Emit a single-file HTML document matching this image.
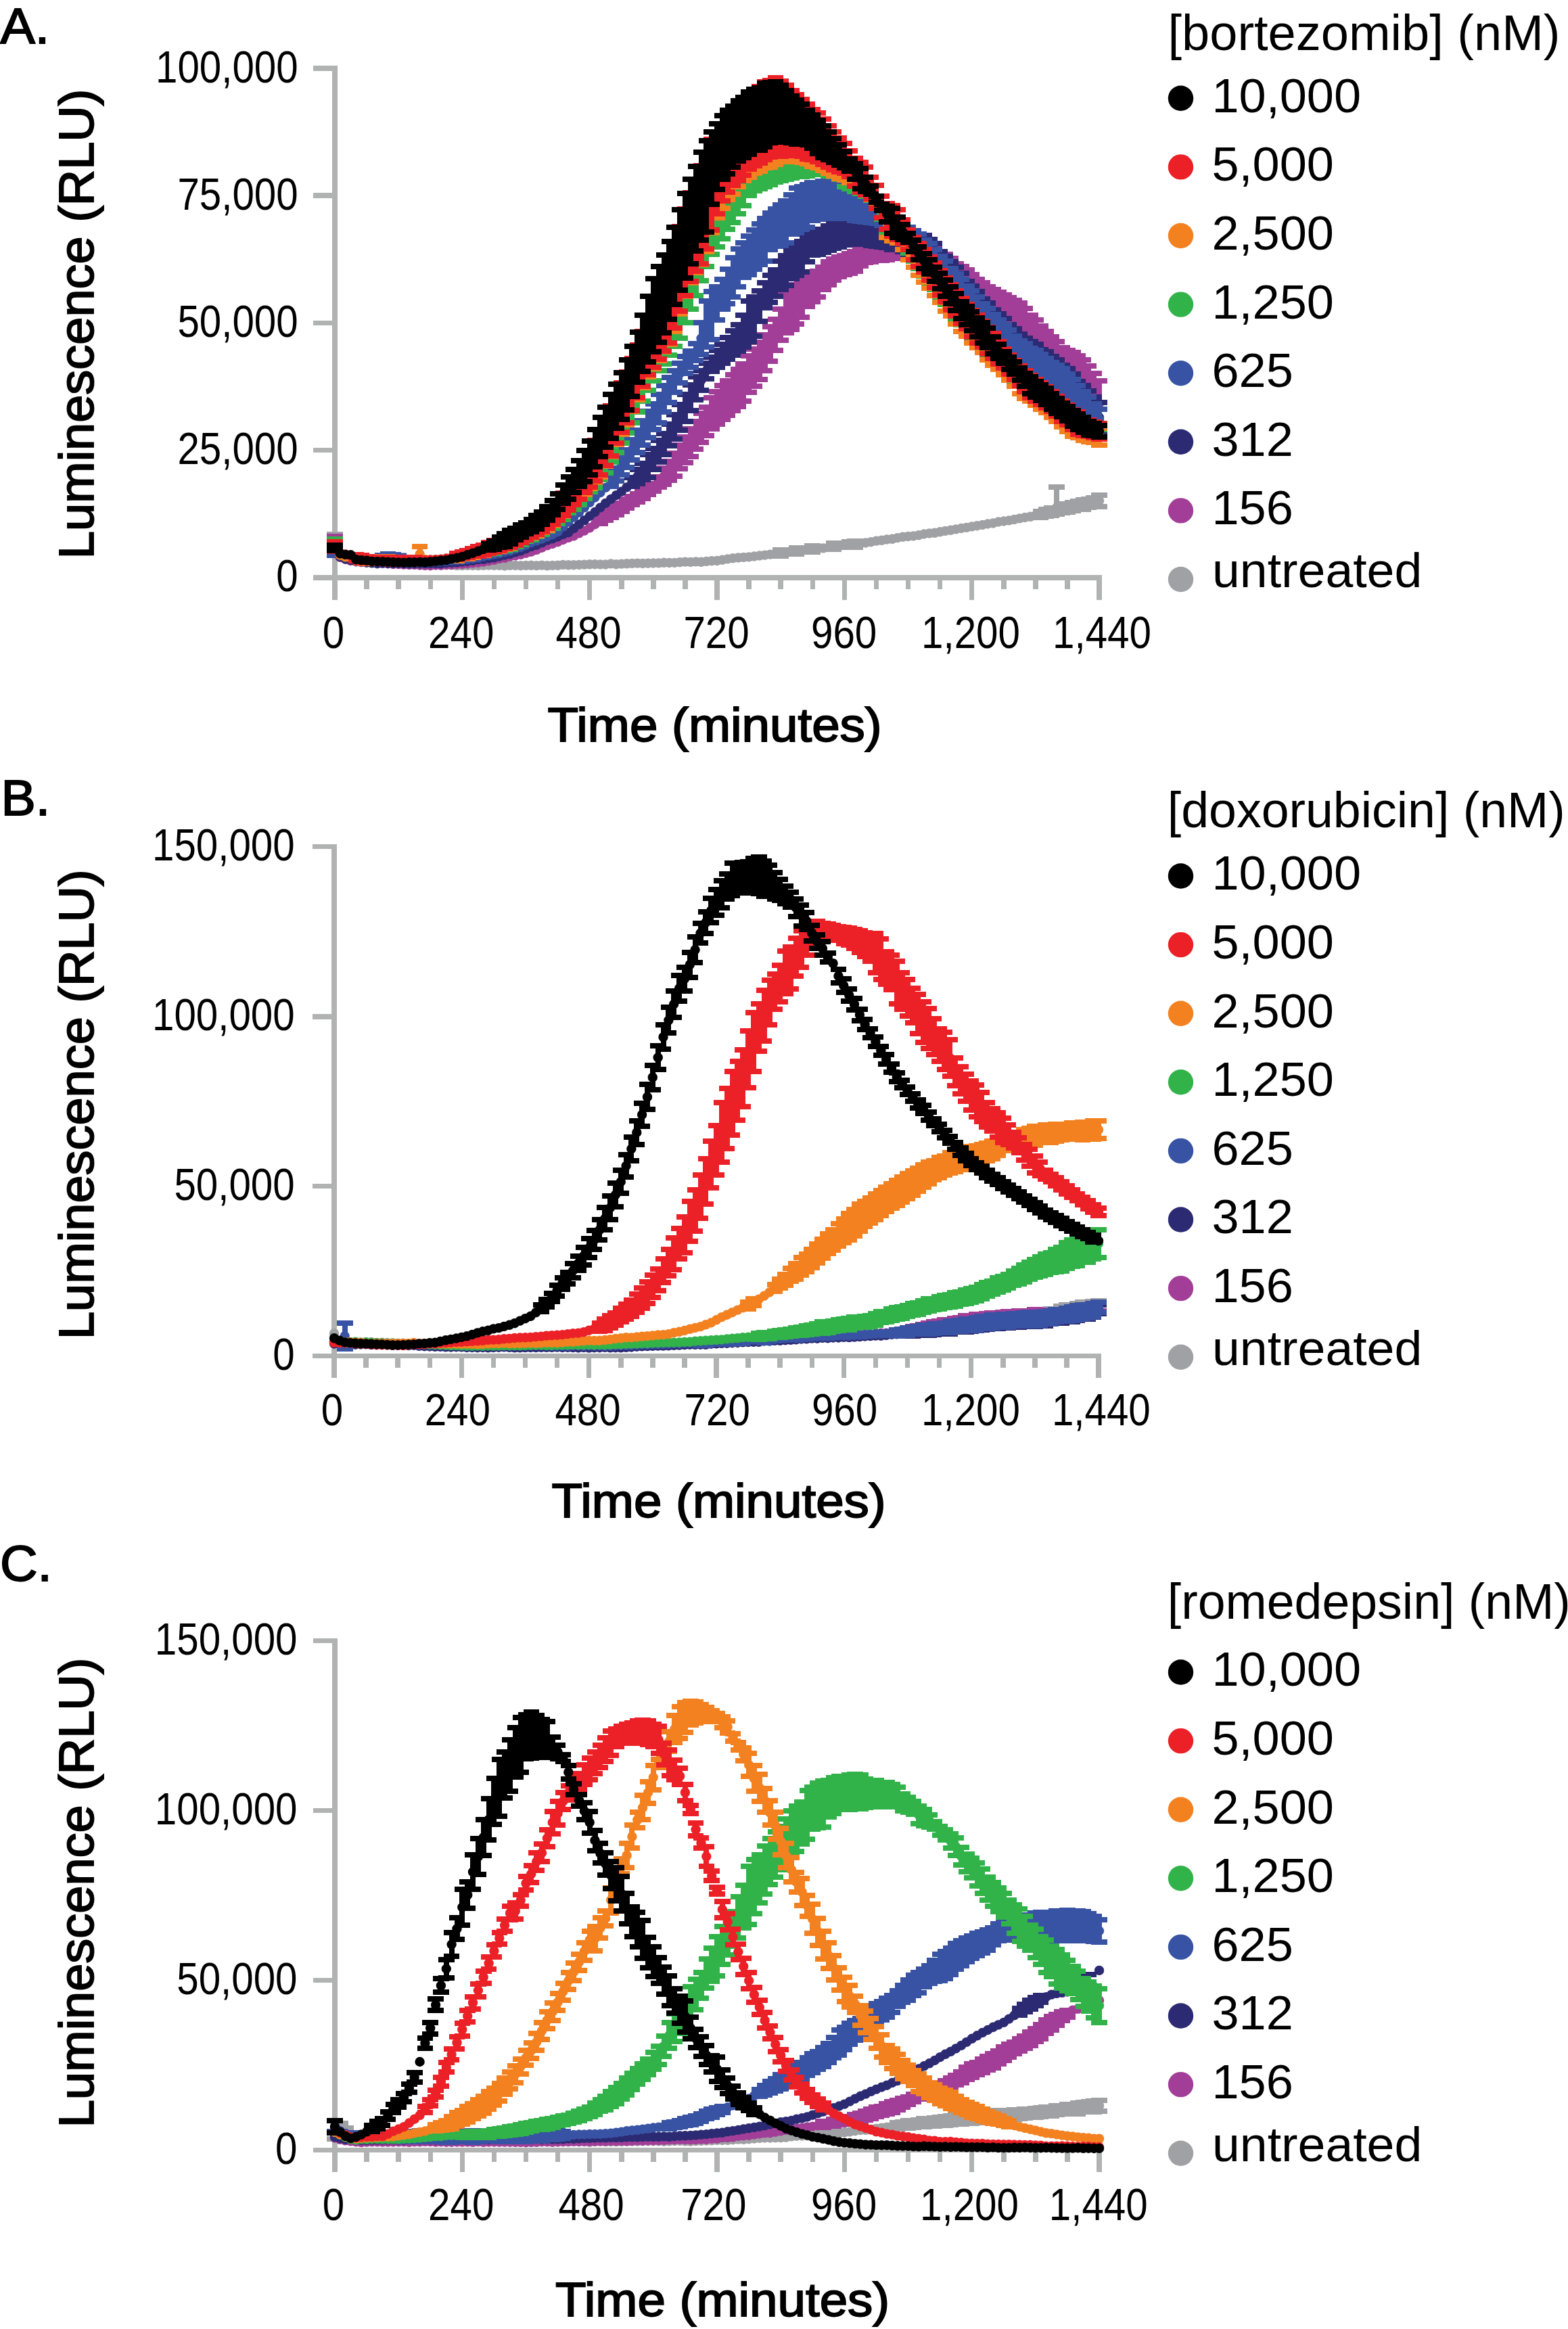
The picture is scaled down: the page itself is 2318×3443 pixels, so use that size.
<!DOCTYPE html>
<html><head><meta charset="utf-8"><title>Figure</title>
<style>html,body{margin:0;padding:0;background:#fff}svg{display:block;font-family:"Liberation Sans",sans-serif}</style>
</head><body>
<svg width="2318" height="3443" viewBox="0 0 2318 3443">
<rect width="2318" height="3443" fill="#fff"/>
<g fill="#b1b3b2" shape-rendering="crispEdges">
<rect x="491.2" y="97.2" width="7.5" height="789.4"/>
<rect x="463" y="850" width="1165.7" height="7.5"/>
<rect x="463" y="661.9" width="32" height="7.5"/>
<rect x="463" y="473.6" width="32" height="7.5"/>
<rect x="463" y="285.4" width="32" height="7.5"/>
<rect x="463" y="97.2" width="32" height="7.5"/>
<rect x="538.3" y="853.8" width="7.5" height="17.6"/>
<rect x="585.4" y="853.8" width="7.5" height="17.6"/>
<rect x="632.5" y="853.8" width="7.5" height="17.6"/>
<rect x="679.6" y="853.8" width="7.5" height="32.9"/>
<rect x="726.7" y="853.8" width="7.5" height="17.6"/>
<rect x="773.8" y="853.8" width="7.5" height="17.6"/>
<rect x="820.8" y="853.8" width="7.5" height="17.6"/>
<rect x="867.9" y="853.8" width="7.5" height="32.9"/>
<rect x="915" y="853.8" width="7.5" height="17.6"/>
<rect x="962.1" y="853.8" width="7.5" height="17.6"/>
<rect x="1009.2" y="853.8" width="7.5" height="17.6"/>
<rect x="1056.2" y="853.8" width="7.5" height="32.9"/>
<rect x="1103.3" y="853.8" width="7.5" height="17.6"/>
<rect x="1150.4" y="853.8" width="7.5" height="17.6"/>
<rect x="1197.5" y="853.8" width="7.5" height="17.6"/>
<rect x="1244.6" y="853.8" width="7.5" height="32.9"/>
<rect x="1291.7" y="853.8" width="7.5" height="17.6"/>
<rect x="1338.8" y="853.8" width="7.5" height="17.6"/>
<rect x="1385.8" y="853.8" width="7.5" height="17.6"/>
<rect x="1432.9" y="853.8" width="7.5" height="32.9"/>
<rect x="1480" y="853.8" width="7.5" height="17.6"/>
<rect x="1527.1" y="853.8" width="7.5" height="17.6"/>
<rect x="1574.2" y="853.8" width="7.5" height="17.6"/>
<rect x="1621.2" y="853.8" width="7.5" height="32.9"/>
</g>
<path shape-rendering="crispEdges" d="M495 790v26m-11.8 0h23.6m-23.6 -26h23.6M581.3 825v9.3m-11.8 0h23.6m-23.6 -9.3h23.6M589.2 821v13.8m-11.8 0h23.6m-23.6 -13.8h23.6M1154.2 813.2v8.9m-11.8 0h23.6m-23.6 -8.9h23.6M1177.7 810.4v8.5m-11.8 0h23.6m-23.6 -8.5h23.6M1201.2 807.2v8.7m-11.8 0h23.6m-23.6 -8.7h23.6M1232.6 803.4v8.4m-11.8 0h23.6m-23.6 -8.4h23.6M1256.2 800.5v8.7m-11.8 0h23.6m-23.6 -8.7h23.6M1264 799.8v8.8m-11.8 0h23.6m-23.6 -8.8h23.6M1538.7 755.8v8.8m-11.8 0h23.6m-23.6 -8.8h23.6M1546.5 753.3v9.4m-11.8 0h23.6m-23.6 -9.4h23.6M1554.4 750.9v10.7m-11.8 0h23.6m-23.6 -10.7h23.6M1562.2 720v40m-11.8 0h23.6m-23.6 -40h23.6M1570.1 747.3v11.1m-11.8 0h23.6m-23.6 -11.1h23.6M1577.9 744.5v12.4m-11.8 0h23.6m-23.6 -12.4h23.6M1585.8 743.2v11.7m-11.8 0h23.6m-23.6 -11.7h23.6M1593.6 741.2v12.1m-11.8 0h23.6m-23.6 -12.1h23.6M1601.5 739v13.6m-11.8 0h23.6m-23.6 -13.6h23.6M1609.3 738v12.4m-11.8 0h23.6m-23.6 -12.4h23.6M1617.2 735.9v12.8m-11.8 0h23.6m-23.6 -12.8h23.6M1625 731.8v17.2m-11.8 0h23.6m-23.6 -17.2h23.6" stroke="#a0a1a4" stroke-width="8" fill="none"/><path d="M495 803h0M502.8 817.5h0M510.7 820.7h0M518.5 824.4h0M526.4 826.8h0M534.2 829h0M542.1 830.2h0M549.9 831.3h0M557.8 831.7h0M565.6 832h0M573.5 831.2h0M581.3 829.6h0M589.2 828h0M597 831.7h0M604.9 832.6h0M612.7 833.3h0M620.6 833.5h0M628.4 834.2h0M636.2 834.4h0M644.1 834.5h0M651.9 834.2h0M659.8 835.3h0M667.6 835.4h0M675.5 836.1h0M683.3 836.1h0M691.2 835.9h0M699 836h0M706.9 836.1h0M714.7 835.9h0M722.6 835.6h0M730.4 835.8h0M738.3 835.8h0M746.1 836.5h0M754 835.8h0M761.8 835.9h0M769.7 836.2h0M777.5 835.9h0M785.3 835.8h0M793.2 836.1h0M801 835.6h0M808.9 836.3h0M816.7 835.9h0M824.6 835.8h0M832.4 834.9h0M840.3 835.3h0M848.1 835.2h0M856 835h0M863.8 834.6h0M871.7 834.3h0M879.5 834.2h0M887.4 834.4h0M895.2 834.5h0M903.1 833.4h0M910.9 834.2h0M918.8 833.6h0M926.6 833.3h0M934.4 832.9h0M942.3 832.6h0M950.1 833h0M958 832.7h0M965.8 832.5h0M973.7 832.4h0M981.5 831.8h0M989.4 832h0M997.2 831.9h0M1005.1 831.2h0M1012.9 830.6h0M1020.8 831h0M1028.6 830.4h0M1036.5 830.8h0M1044.3 829.9h0M1052.2 829.2h0M1060 829h0M1067.8 827.7h0M1075.7 826.4h0M1083.5 825.2h0M1091.4 824.5h0M1099.2 823.9h0M1107.1 823.4h0M1114.9 822.5h0M1122.8 821.5h0M1130.6 820.6h0M1138.5 819.6h0M1146.3 818.5h0M1154.2 817.6h0M1162 816.2h0M1169.9 815.5h0M1177.7 814.7h0M1185.6 813.3h0M1193.4 813h0M1201.2 811.6h0M1209.1 810.6h0M1216.9 810.4h0M1224.8 809.1h0M1232.6 807.7h0M1240.5 807.3h0M1248.3 805.7h0M1256.2 804.8h0M1264 804.2h0M1271.9 803.3h0M1279.7 802.5h0M1287.6 801.2h0M1295.4 799.6h0M1303.3 798.8h0M1311.1 797.5h0M1319 796.8h0M1326.8 795.1h0M1334.7 793.7h0M1342.5 793h0M1350.3 792.4h0M1358.2 791.2h0M1366 789.5h0M1373.9 788.4h0M1381.7 787.8h0M1389.6 786.3h0M1397.4 784.9h0M1405.3 783.8h0M1413.1 782.4h0M1421 781h0M1428.8 779.9h0M1436.7 778.4h0M1444.5 777.2h0M1452.4 776h0M1460.2 774.5h0M1468.1 773.5h0M1475.9 771.5h0M1483.8 770.5h0M1491.6 769.4h0M1499.4 768h0M1507.3 766.4h0M1515.1 765h0M1523 763.8h0M1530.8 762h0M1538.7 760.2h0M1546.5 758.1h0M1554.4 756.3h0M1562.2 750h0M1570.1 752.8h0M1577.9 750.7h0M1585.8 749h0M1593.6 747.2h0M1601.5 745.8h0M1609.3 744.2h0M1617.2 742.3h0M1625 740.4h0" stroke="#a0a1a4" stroke-width="14.4" stroke-linecap="round" fill="none"/>
<path shape-rendering="crispEdges" d="M495 793v24m-11.8 0h23.6m-23.6 -24h23.6M887.4 765.7v8.6m-11.8 0h23.6m-23.6 -8.6h23.6M895.2 759.6v9.7m-11.8 0h23.6m-23.6 -9.7h23.6M903.1 753.3v11.5m-11.8 0h23.6m-23.6 -11.5h23.6M910.9 747.8v12.8m-11.8 0h23.6m-23.6 -12.8h23.6M918.8 743.8v11.9m-11.8 0h23.6m-23.6 -11.9h23.6M926.6 738.2v12.9m-11.8 0h23.6m-23.6 -12.9h23.6M934.4 733.7v12.6m-11.8 0h23.6m-23.6 -12.6h23.6M942.3 729.6v11.9m-11.8 0h23.6m-23.6 -11.9h23.6M950.1 724.5v12m-11.8 0h23.6m-23.6 -12h23.6M958 719.4v11.6m-11.8 0h23.6m-23.6 -11.6h23.6M965.8 714.7v10.9m-11.8 0h23.6m-23.6 -10.9h23.6M973.7 704.8v15.4m-11.8 0h23.6m-23.6 -15.4h23.6M981.5 692.4v23.8m-11.8 0h23.6m-23.6 -23.8h23.6M989.4 681.9v28.5m-11.8 0h23.6m-23.6 -28.5h23.6M997.2 670v34.2m-11.8 0h23.6m-23.6 -34.2h23.6M1005.1 657.8v35.5m-11.8 0h23.6m-23.6 -35.5h23.6M1012.9 645.9v37.7m-11.8 0h23.6m-23.6 -37.7h23.6M1020.8 634.1v40.9m-11.8 0h23.6m-23.6 -40.9h23.6M1028.6 623.3v40.9m-11.8 0h23.6m-23.6 -40.9h23.6M1036.5 610.7v42.8m-11.8 0h23.6m-23.6 -42.8h23.6M1044.3 601.7v42.4m-11.8 0h23.6m-23.6 -42.4h23.6M1052.2 588.2v45.4m-11.8 0h23.6m-23.6 -45.4h23.6M1060 579.2v47.5m-11.8 0h23.6m-23.6 -47.5h23.6M1067.8 569.7v50.3m-11.8 0h23.6m-23.6 -50.3h23.6M1075.7 562.5v51.1m-11.8 0h23.6m-23.6 -51.1h23.6M1083.5 553.9v52.6m-11.8 0h23.6m-23.6 -52.6h23.6M1091.4 546.3v54.9m-11.8 0h23.6m-23.6 -54.9h23.6M1099.2 537.8v55.1m-11.8 0h23.6m-23.6 -55.1h23.6M1107.1 526v54m-11.8 0h23.6m-23.6 -54h23.6M1114.9 516v54.8m-11.8 0h23.6m-23.6 -54.8h23.6M1122.8 506v54.6m-11.8 0h23.6m-23.6 -54.6h23.6M1130.6 494.8v53.2m-11.8 0h23.6m-23.6 -53.2h23.6M1138.5 482.9v50.6m-11.8 0h23.6m-23.6 -50.6h23.6M1146.3 471.8v46.4m-11.8 0h23.6m-23.6 -46.4h23.6M1154.2 456.9v46.5m-11.8 0h23.6m-23.6 -46.5h23.6M1162 435.7v56.5m-11.8 0h23.6m-23.6 -56.5h23.6M1169.9 428.6v58.5m-11.8 0h23.6m-23.6 -58.5h23.6M1177.7 421v58.4m-11.8 0h23.6m-23.6 -58.4h23.6M1185.6 414.3v54.5m-11.8 0h23.6m-23.6 -54.5h23.6M1193.4 409.6v43.8m-11.8 0h23.6m-23.6 -43.8h23.6M1201.2 405.8v40.2m-11.8 0h23.6m-23.6 -40.2h23.6M1209.1 400.8v38.1m-11.8 0h23.6m-23.6 -38.1h23.6M1216.9 395.1v32.7m-11.8 0h23.6m-23.6 -32.7h23.6M1224.8 386.5v34m-11.8 0h23.6m-23.6 -34h23.6M1232.6 382.9v31.5m-11.8 0h23.6m-23.6 -31.5h23.6M1240.5 379.5v29.7m-11.8 0h23.6m-23.6 -29.7h23.6M1248.3 378.2v27.6m-11.8 0h23.6m-23.6 -27.6h23.6M1256.2 375.1v28.8m-11.8 0h23.6m-23.6 -28.8h23.6M1264 371.6v29.5m-11.8 0h23.6m-23.6 -29.5h23.6M1271.9 368.9v24.3m-11.8 0h23.6m-23.6 -24.3h23.6M1279.7 368.3v19.6m-11.8 0h23.6m-23.6 -19.6h23.6M1287.6 365.2v21.6m-11.8 0h23.6m-23.6 -21.6h23.6M1295.4 365v19.3m-11.8 0h23.6m-23.6 -19.3h23.6M1303.3 363.7v20.9m-11.8 0h23.6m-23.6 -20.9h23.6M1311.1 361.7v22.2m-11.8 0h23.6m-23.6 -22.2h23.6M1319 360.7v21.3m-11.8 0h23.6m-23.6 -21.3h23.6M1326.8 358.6v23.6m-11.8 0h23.6m-23.6 -23.6h23.6M1334.7 357.2v24.3m-11.8 0h23.6m-23.6 -24.3h23.6M1342.5 356.3v27m-11.8 0h23.6m-23.6 -27h23.6M1350.3 354.2v31.2m-11.8 0h23.6m-23.6 -31.2h23.6M1358.2 353.5v33.3m-11.8 0h23.6m-23.6 -33.3h23.6M1366 356.8v31.7m-11.8 0h23.6m-23.6 -31.7h23.6M1373.9 361.5v31.9m-11.8 0h23.6m-23.6 -31.9h23.6M1381.7 365.5v39.2m-11.8 0h23.6m-23.6 -39.2h23.6M1389.6 371.7v46.8m-11.8 0h23.6m-23.6 -46.8h23.6M1397.4 375.6v54.2m-11.8 0h23.6m-23.6 -54.2h23.6M1405.3 382.3v57.5m-11.8 0h23.6m-23.6 -57.5h23.6M1413.1 389.5v61.3m-11.8 0h23.6m-23.6 -61.3h23.6M1421 394.1v67.6m-11.8 0h23.6m-23.6 -67.6h23.6M1428.8 398.9v67.7m-11.8 0h23.6m-23.6 -67.7h23.6M1436.7 406.4v70.3m-11.8 0h23.6m-23.6 -70.3h23.6M1444.5 412.7v72.1m-11.8 0h23.6m-23.6 -72.1h23.6M1452.4 418.1v76.6m-11.8 0h23.6m-23.6 -76.6h23.6M1460.2 423.7v79.6m-11.8 0h23.6m-23.6 -79.6h23.6M1468.1 428.4v82.9m-11.8 0h23.6m-23.6 -82.9h23.6M1475.9 431.7v87.1m-11.8 0h23.6m-23.6 -87.1h23.6M1483.8 435.5v89.5m-11.8 0h23.6m-23.6 -89.5h23.6M1491.6 440.1v91.4m-11.8 0h23.6m-23.6 -91.4h23.6M1499.4 444.3v96.6m-11.8 0h23.6m-23.6 -96.6h23.6M1507.3 448.2v98.1m-11.8 0h23.6m-23.6 -98.1h23.6M1515.1 456.1v95.6m-11.8 0h23.6m-23.6 -95.6h23.6M1523 465.9v94m-11.8 0h23.6m-23.6 -94h23.6M1530.8 472.9v95m-11.8 0h23.6m-23.6 -95h23.6M1538.7 481.5v90.3m-11.8 0h23.6m-23.6 -90.3h23.6M1546.5 489.5v88.4m-11.8 0h23.6m-23.6 -88.4h23.6M1554.4 498.4v86.1m-11.8 0h23.6m-23.6 -86.1h23.6M1562.2 505.3v83.1m-11.8 0h23.6m-23.6 -83.1h23.6M1570.1 514.3v80.2m-11.8 0h23.6m-23.6 -80.2h23.6M1577.9 518v80.1m-11.8 0h23.6m-23.6 -80.1h23.6M1585.8 521.1v82.6m-11.8 0h23.6m-23.6 -82.6h23.6M1593.6 525.9v80.9m-11.8 0h23.6m-23.6 -80.9h23.6M1601.5 531.7v80m-11.8 0h23.6m-23.6 -80h23.6M1609.3 540.9v78.1m-11.8 0h23.6m-23.6 -78.1h23.6M1617.2 552.1v71.9m-11.8 0h23.6m-23.6 -71.9h23.6M1625 562.6v67.8m-11.8 0h23.6m-23.6 -67.8h23.6" stroke="#a23e97" stroke-width="8" fill="none"/><path d="M495 805h0M502.8 823.8h0M510.7 826.6h0M518.5 828.9h0M526.4 830.4h0M534.2 831.1h0M542.1 831.1h0M549.9 831.9h0M557.8 832.2h0M565.6 832.8h0M573.5 833.2h0M581.3 834h0M589.2 834.1h0M597 834.6h0M604.9 834.9h0M612.7 834.9h0M620.6 835.5h0M628.4 835.9h0M636.2 836.2h0M644.1 835.5h0M651.9 835.7h0M659.8 834.8h0M667.6 834.8h0M675.5 833.9h0M683.3 833.8h0M691.2 833.2h0M699 832.4h0M706.9 831.7h0M714.7 830.6h0M722.6 829.2h0M730.4 827.9h0M738.3 825.9h0M746.1 824.9h0M754 822.6h0M761.8 821.4h0M769.7 819.9h0M777.5 817.7h0M785.3 815.6h0M793.2 812.9h0M801 809.6h0M808.9 806.3h0M816.7 804h0M824.6 801.2h0M832.4 798h0M840.3 794.9h0M848.1 792.3h0M856 788.4h0M863.8 784.6h0M871.7 780.3h0M879.5 775.2h0M887.4 770h0M895.2 764.5h0M903.1 759.1h0M910.9 754.2h0M918.8 749.8h0M926.6 744.7h0M934.4 740h0M942.3 735.6h0M950.1 730.5h0M958 725.2h0M965.8 720.2h0M973.7 712.5h0M981.5 704.2h0M989.4 696.1h0M997.2 687.1h0M1005.1 675.6h0M1012.9 664.7h0M1020.8 654.6h0M1028.6 643.8h0M1036.5 632.1h0M1044.3 622.9h0M1052.2 610.8h0M1060 603h0M1067.8 594.9h0M1075.7 588h0M1083.5 580.3h0M1091.4 573.8h0M1099.2 565.4h0M1107.1 553h0M1114.9 543.4h0M1122.8 533.3h0M1130.6 521.4h0M1138.5 508.2h0M1146.3 495h0M1154.2 480.1h0M1162 464h0M1169.9 457.9h0M1177.7 450.2h0M1185.6 441.5h0M1193.4 431.5h0M1201.2 425.9h0M1209.1 419.9h0M1216.9 411.4h0M1224.8 403.4h0M1232.6 398.7h0M1240.5 394.4h0M1248.3 392h0M1256.2 389.5h0M1264 386.4h0M1271.9 381h0M1279.7 378.1h0M1287.6 376h0M1295.4 374.6h0M1303.3 374.2h0M1311.1 372.8h0M1319 371.3h0M1326.8 370.4h0M1334.7 369.4h0M1342.5 369.8h0M1350.3 369.8h0M1358.2 370.2h0M1366 372.7h0M1373.9 377.5h0M1381.7 385.1h0M1389.6 395.1h0M1397.4 402.7h0M1405.3 411.1h0M1413.1 420.2h0M1421 427.9h0M1428.8 432.7h0M1436.7 441.5h0M1444.5 448.8h0M1452.4 456.4h0M1460.2 463.4h0M1468.1 469.9h0M1475.9 475.2h0M1483.8 480.3h0M1491.6 485.8h0M1499.4 492.6h0M1507.3 497.3h0M1515.1 503.9h0M1523 512.9h0M1530.8 520.4h0M1538.7 526.6h0M1546.5 533.7h0M1554.4 541.5h0M1562.2 546.8h0M1570.1 554.4h0M1577.9 558.1h0M1585.8 562.4h0M1593.6 566.3h0M1601.5 571.7h0M1609.3 580h0M1617.2 588h0M1625 596.5h0" stroke="#a23e97" stroke-width="14.4" stroke-linecap="round" fill="none"/>
<path shape-rendering="crispEdges" d="M495 805v10m-11.8 0h23.6m-23.6 -10h23.6M934.4 706.3v12.9m-11.8 0h23.6m-23.6 -12.9h23.6M942.3 694.3v20.6m-11.8 0h23.6m-23.6 -20.6h23.6M950.1 684.9v24.1m-11.8 0h23.6m-23.6 -24.1h23.6M958 672.4v33.8m-11.8 0h23.6m-23.6 -33.8h23.6M965.8 662.6v31.1m-11.8 0h23.6m-23.6 -31.1h23.6M973.7 650.9v31.6m-11.8 0h23.6m-23.6 -31.6h23.6M981.5 640.5v31.5m-11.8 0h23.6m-23.6 -31.5h23.6M989.4 627.2v32m-11.8 0h23.6m-23.6 -32h23.6M997.2 612.7v35.8m-11.8 0h23.6m-23.6 -35.8h23.6M1005.1 598v37.9m-11.8 0h23.6m-23.6 -37.9h23.6M1012.9 582.9v40m-11.8 0h23.6m-23.6 -40h23.6M1020.8 569.4v37.2m-11.8 0h23.6m-23.6 -37.2h23.6M1028.6 556.9v34.2m-11.8 0h23.6m-23.6 -34.2h23.6M1036.5 547.7v29m-11.8 0h23.6m-23.6 -29h23.6M1044.3 536.7v22.9m-11.8 0h23.6m-23.6 -22.9h23.6M1052.2 527.6v21.4m-11.8 0h23.6m-23.6 -21.4h23.6M1060 517.8v25.2m-11.8 0h23.6m-23.6 -25.2h23.6M1067.8 508.5v28.4m-11.8 0h23.6m-23.6 -28.4h23.6M1075.7 499.4v32m-11.8 0h23.6m-23.6 -32h23.6M1083.5 489.1v35.6m-11.8 0h23.6m-23.6 -35.6h23.6M1091.4 480.1v38.9m-11.8 0h23.6m-23.6 -38.9h23.6M1099.2 466.4v46.3m-11.8 0h23.6m-23.6 -46.3h23.6M1107.1 444.7v60.1m-11.8 0h23.6m-23.6 -60.1h23.6M1114.9 438.8v58.4m-11.8 0h23.6m-23.6 -58.4h23.6M1122.8 429.9v45m-11.8 0h23.6m-23.6 -45h23.6M1130.6 417.9v37.2m-11.8 0h23.6m-23.6 -37.2h23.6M1138.5 407.3v39.6m-11.8 0h23.6m-23.6 -39.6h23.6M1146.3 398.7v39.3m-11.8 0h23.6m-23.6 -39.3h23.6M1154.2 386.1v41.5m-11.8 0h23.6m-23.6 -41.5h23.6M1162 377.6v43.9m-11.8 0h23.6m-23.6 -43.9h23.6M1169.9 370v42m-11.8 0h23.6m-23.6 -42h23.6M1177.7 364v42.6m-11.8 0h23.6m-23.6 -42.6h23.6M1185.6 356.5v45m-11.8 0h23.6m-23.6 -45h23.6M1193.4 350.5v36.3m-11.8 0h23.6m-23.6 -36.3h23.6M1201.2 346.7v30.6m-11.8 0h23.6m-23.6 -30.6h23.6M1209.1 341.9v33.9m-11.8 0h23.6m-23.6 -33.9h23.6M1216.9 339.2v33.7m-11.8 0h23.6m-23.6 -33.7h23.6M1224.8 333.7v36.5m-11.8 0h23.6m-23.6 -36.5h23.6M1232.6 330v36.5m-11.8 0h23.6m-23.6 -36.5h23.6M1240.5 329.4v35.3m-11.8 0h23.6m-23.6 -35.3h23.6M1248.3 329.5v32.5m-11.8 0h23.6m-23.6 -32.5h23.6M1256.2 330.7v30.5m-11.8 0h23.6m-23.6 -30.5h23.6M1264 333v27.2m-11.8 0h23.6m-23.6 -27.2h23.6M1271.9 333.3v26.8m-11.8 0h23.6m-23.6 -26.8h23.6M1279.7 334.1v27.2m-11.8 0h23.6m-23.6 -27.2h23.6M1287.6 335.1v27.8m-11.8 0h23.6m-23.6 -27.8h23.6M1295.4 336.9v26.7m-11.8 0h23.6m-23.6 -26.7h23.6M1303.3 339.5v25.3m-11.8 0h23.6m-23.6 -25.3h23.6M1311.1 341.1v24.9m-11.8 0h23.6m-23.6 -24.9h23.6M1319 341.4v27.1m-11.8 0h23.6m-23.6 -27.1h23.6M1326.8 341.6v26.7m-11.8 0h23.6m-23.6 -26.7h23.6M1334.7 341.6v30.2m-11.8 0h23.6m-23.6 -30.2h23.6M1342.5 343.8v32m-11.8 0h23.6m-23.6 -32h23.6M1350.3 345.6v35.7m-11.8 0h23.6m-23.6 -35.7h23.6M1358.2 345.7v38.6m-11.8 0h23.6m-23.6 -38.6h23.6M1366 347.8v42.8m-11.8 0h23.6m-23.6 -42.8h23.6M1373.9 353.7v49m-11.8 0h23.6m-23.6 -49h23.6M1381.7 360.3v52.6m-11.8 0h23.6m-23.6 -52.6h23.6M1389.6 371.6v52.8m-11.8 0h23.6m-23.6 -52.8h23.6M1397.4 378.8v55.1m-11.8 0h23.6m-23.6 -55.1h23.6M1405.3 387.1v58.6m-11.8 0h23.6m-23.6 -58.6h23.6M1413.1 394.6v59.8m-11.8 0h23.6m-23.6 -59.8h23.6M1421 403.8v59.7m-11.8 0h23.6m-23.6 -59.7h23.6M1428.8 415.9v57.2m-11.8 0h23.6m-23.6 -57.2h23.6M1436.7 423.3v58.1m-11.8 0h23.6m-23.6 -58.1h23.6M1444.5 430.7v59.2m-11.8 0h23.6m-23.6 -59.2h23.6M1452.4 441.6v55.8m-11.8 0h23.6m-23.6 -55.8h23.6M1460.2 448v58.4m-11.8 0h23.6m-23.6 -58.4h23.6M1468.1 457.6v59.1m-11.8 0h23.6m-23.6 -59.1h23.6M1475.9 463.6v60m-11.8 0h23.6m-23.6 -60h23.6M1483.8 471.3v59.1m-11.8 0h23.6m-23.6 -59.1h23.6M1491.6 480.2v60.6m-11.8 0h23.6m-23.6 -60.6h23.6M1499.4 485.8v61.6m-11.8 0h23.6m-23.6 -61.6h23.6M1507.3 494.2v61.5m-11.8 0h23.6m-23.6 -61.5h23.6M1515.1 499.9v63.7m-11.8 0h23.6m-23.6 -63.7h23.6M1523 504.8v68.8m-11.8 0h23.6m-23.6 -68.8h23.6M1530.8 508.5v68.3m-11.8 0h23.6m-23.6 -68.3h23.6M1538.7 516.6v67.8m-11.8 0h23.6m-23.6 -67.8h23.6M1546.5 519.8v71.3m-11.8 0h23.6m-23.6 -71.3h23.6M1554.4 527.3v67.2m-11.8 0h23.6m-23.6 -67.2h23.6M1562.2 531.5v69.9m-11.8 0h23.6m-23.6 -69.9h23.6M1570.1 539.6v67.7m-11.8 0h23.6m-23.6 -67.7h23.6M1577.9 545.1v67.9m-11.8 0h23.6m-23.6 -67.9h23.6M1585.8 553.3v64.3m-11.8 0h23.6m-23.6 -64.3h23.6M1593.6 563.5v61.2m-11.8 0h23.6m-23.6 -61.2h23.6M1601.5 570.2v57.8m-11.8 0h23.6m-23.6 -57.8h23.6M1609.3 577.7v55m-11.8 0h23.6m-23.6 -55h23.6M1617.2 586.8v47.6m-11.8 0h23.6m-23.6 -47.6h23.6M1625 595v44.2m-11.8 0h23.6m-23.6 -44.2h23.6" stroke="#2b2a73" stroke-width="8" fill="none"/><path d="M495 810h0M502.8 822.8h0M510.7 826.2h0M518.5 828.1h0M526.4 829.5h0M534.2 830.3h0M542.1 831.7h0M549.9 832.4h0M557.8 833.2h0M565.6 832.4h0M573.5 833h0M581.3 832.9h0M589.2 832.6h0M597 833.1h0M604.9 833.5h0M612.7 833.3h0M620.6 833.2h0M628.4 833.1h0M636.2 833.1h0M644.1 833.1h0M651.9 833.3h0M659.8 832.2h0M667.6 831.7h0M675.5 831.3h0M683.3 830.5h0M691.2 829.7h0M699 828.7h0M706.9 827.1h0M714.7 826.8h0M722.6 825.3h0M730.4 824.4h0M738.3 822.5h0M746.1 820.5h0M754 819h0M761.8 816.4h0M769.7 814.3h0M777.5 811.2h0M785.3 808h0M793.2 805.6h0M801 802.4h0M808.9 798.6h0M816.7 796.3h0M824.6 793.5h0M832.4 789.8h0M840.3 787.1h0M848.1 781.1h0M856 775.1h0M863.8 769.2h0M871.7 763h0M879.5 757h0M887.4 750.4h0M895.2 743.9h0M903.1 737.9h0M910.9 732.2h0M918.8 726.6h0M926.6 720.4h0M934.4 712.8h0M942.3 704.6h0M950.1 696.9h0M958 689.3h0M965.8 678.2h0M973.7 666.7h0M981.5 656.2h0M989.4 643.2h0M997.2 630.6h0M1005.1 616.9h0M1012.9 602.9h0M1020.8 588.1h0M1028.6 574h0M1036.5 562.1h0M1044.3 548.1h0M1052.2 538.3h0M1060 530.4h0M1067.8 522.7h0M1075.7 515.4h0M1083.5 506.9h0M1091.4 499.5h0M1099.2 489.6h0M1107.1 474.7h0M1114.9 468h0M1122.8 452.4h0M1130.6 436.5h0M1138.5 427.1h0M1146.3 418.3h0M1154.2 406.8h0M1162 399.5h0M1169.9 391h0M1177.7 385.3h0M1185.6 379h0M1193.4 368.7h0M1201.2 362h0M1209.1 358.9h0M1216.9 356h0M1224.8 352h0M1232.6 348.2h0M1240.5 347h0M1248.3 345.8h0M1256.2 345.9h0M1264 346.6h0M1271.9 346.7h0M1279.7 347.7h0M1287.6 349h0M1295.4 350.2h0M1303.3 352.2h0M1311.1 353.6h0M1319 355h0M1326.8 354.9h0M1334.7 356.7h0M1342.5 359.8h0M1350.3 363.5h0M1358.2 364.9h0M1366 369.2h0M1373.9 378.2h0M1381.7 386.6h0M1389.6 398h0M1397.4 406.4h0M1405.3 416.4h0M1413.1 424.5h0M1421 433.7h0M1428.8 444.5h0M1436.7 452.3h0M1444.5 460.3h0M1452.4 469.4h0M1460.2 477.2h0M1468.1 487.2h0M1475.9 493.6h0M1483.8 500.9h0M1491.6 510.5h0M1499.4 516.6h0M1507.3 525h0M1515.1 531.7h0M1523 539.2h0M1530.8 542.7h0M1538.7 550.5h0M1546.5 555.4h0M1554.4 560.9h0M1562.2 566.4h0M1570.1 573.4h0M1577.9 579.1h0M1585.8 585.4h0M1593.6 594.1h0M1601.5 599.1h0M1609.3 605.2h0M1617.2 610.6h0M1625 617.1h0" stroke="#2b2a73" stroke-width="14.4" stroke-linecap="round" fill="none"/>
<path shape-rendering="crispEdges" d="M495 803v18m-11.8 0h23.6m-23.6 -18h23.6M565.6 821.2v10.3m-11.8 0h23.6m-23.6 -10.3h23.6M573.5 819.4v12.7m-11.8 0h23.6m-23.6 -12.7h23.6M581.3 819.5v12.4m-11.8 0h23.6m-23.6 -12.4h23.6M589.2 822v10.1m-11.8 0h23.6m-23.6 -10.1h23.6M597 824.1v8.5m-11.8 0h23.6m-23.6 -8.5h23.6M903.1 706.3v12.3m-11.8 0h23.6m-23.6 -12.3h23.6M910.9 692.3v18.9m-11.8 0h23.6m-23.6 -18.9h23.6M918.8 677v25.2m-11.8 0h23.6m-23.6 -25.2h23.6M926.6 664.6v26.8m-11.8 0h23.6m-23.6 -26.8h23.6M934.4 650v30m-11.8 0h23.6m-23.6 -30h23.6M942.3 636.4v32.3m-11.8 0h23.6m-23.6 -32.3h23.6M950.1 621.5v36.5m-11.8 0h23.6m-23.6 -36.5h23.6M958 608.2v38.5m-11.8 0h23.6m-23.6 -38.5h23.6M965.8 596.8v37.9m-11.8 0h23.6m-23.6 -37.9h23.6M973.7 582.9v42m-11.8 0h23.6m-23.6 -42h23.6M981.5 570.1v39.2m-11.8 0h23.6m-23.6 -39.2h23.6M989.4 558v36.9m-11.8 0h23.6m-23.6 -36.9h23.6M997.2 548v32.3m-11.8 0h23.6m-23.6 -32.3h23.6M1005.1 537.3v28.9m-11.8 0h23.6m-23.6 -28.9h23.6M1012.9 527v25m-11.8 0h23.6m-23.6 -25h23.6M1020.8 518.7v24.3m-11.8 0h23.6m-23.6 -24.3h23.6M1028.6 508.2v24.9m-11.8 0h23.6m-23.6 -24.9h23.6M1036.5 477v46.7m-11.8 0h23.6m-23.6 -46.7h23.6M1044.3 444.9v68.1m-11.8 0h23.6m-23.6 -68.1h23.6M1052.2 431.4v71m-11.8 0h23.6m-23.6 -71h23.6M1060 424v48.8m-11.8 0h23.6m-23.6 -48.8h23.6M1067.8 413.3v43.6m-11.8 0h23.6m-23.6 -43.6h23.6M1075.7 397.7v51.1m-11.8 0h23.6m-23.6 -51.1h23.6M1083.5 380.7v58.1m-11.8 0h23.6m-23.6 -58.1h23.6M1091.4 367.5v56.7m-11.8 0h23.6m-23.6 -56.7h23.6M1099.2 358.8v51.1m-11.8 0h23.6m-23.6 -51.1h23.6M1107.1 349.1v56.6m-11.8 0h23.6m-23.6 -56.6h23.6M1114.9 339.9v57.8m-11.8 0h23.6m-23.6 -57.8h23.6M1122.8 330.5v60.8m-11.8 0h23.6m-23.6 -60.8h23.6M1130.6 323.2v62.9m-11.8 0h23.6m-23.6 -62.9h23.6M1138.5 314.5v54.4m-11.8 0h23.6m-23.6 -54.4h23.6M1146.3 309v55.3m-11.8 0h23.6m-23.6 -55.3h23.6M1154.2 303.1v59.8m-11.8 0h23.6m-23.6 -59.8h23.6M1162 296.5v62.5m-11.8 0h23.6m-23.6 -62.5h23.6M1169.9 288.1v57.6m-11.8 0h23.6m-23.6 -57.6h23.6M1177.7 277.9v65.6m-11.8 0h23.6m-23.6 -65.6h23.6M1185.6 275.8v63.6m-11.8 0h23.6m-23.6 -63.6h23.6M1193.4 273.4v62.3m-11.8 0h23.6m-23.6 -62.3h23.6M1201.2 270.2v55.6m-11.8 0h23.6m-23.6 -55.6h23.6M1209.1 271.1v52.5m-11.8 0h23.6m-23.6 -52.5h23.6M1216.9 267.7v54.8m-11.8 0h23.6m-23.6 -54.8h23.6M1224.8 269.5v51.5m-11.8 0h23.6m-23.6 -51.5h23.6M1232.6 269.6v53.6m-11.8 0h23.6m-23.6 -53.6h23.6M1240.5 272.7v49.7m-11.8 0h23.6m-23.6 -49.7h23.6M1248.3 277.1v44.8m-11.8 0h23.6m-23.6 -44.8h23.6M1256.2 281.4v41.8m-11.8 0h23.6m-23.6 -41.8h23.6M1264 284.8v41.4m-11.8 0h23.6m-23.6 -41.4h23.6M1271.9 286.3v40.7m-11.8 0h23.6m-23.6 -40.7h23.6M1279.7 290.9v36.9m-11.8 0h23.6m-23.6 -36.9h23.6M1287.6 294.2v34.8m-11.8 0h23.6m-23.6 -34.8h23.6M1295.4 300.2v30.2m-11.8 0h23.6m-23.6 -30.2h23.6M1303.3 305.1v27.5m-11.8 0h23.6m-23.6 -27.5h23.6M1311.1 312.3v26.8m-11.8 0h23.6m-23.6 -26.8h23.6M1319 316.9v25.9m-11.8 0h23.6m-23.6 -25.9h23.6M1326.8 323.1v28.3m-11.8 0h23.6m-23.6 -28.3h23.6M1334.7 327.5v31.1m-11.8 0h23.6m-23.6 -31.1h23.6M1342.5 335.6v32.7m-11.8 0h23.6m-23.6 -32.7h23.6M1350.3 341.3v36.9m-11.8 0h23.6m-23.6 -36.9h23.6M1358.2 346v42.2m-11.8 0h23.6m-23.6 -42.2h23.6M1366 354.7v43.4m-11.8 0h23.6m-23.6 -43.4h23.6M1373.9 359.6v46.9m-11.8 0h23.6m-23.6 -46.9h23.6M1381.7 369.3v48.4m-11.8 0h23.6m-23.6 -48.4h23.6M1389.6 378.7v46.6m-11.8 0h23.6m-23.6 -46.6h23.6M1397.4 385.7v48.7m-11.8 0h23.6m-23.6 -48.7h23.6M1405.3 396.8v48.9m-11.8 0h23.6m-23.6 -48.9h23.6M1413.1 404.8v48.3m-11.8 0h23.6m-23.6 -48.3h23.6M1421 413.4v49m-11.8 0h23.6m-23.6 -49h23.6M1428.8 423.2v49.7m-11.8 0h23.6m-23.6 -49.7h23.6M1436.7 430v52.7m-11.8 0h23.6m-23.6 -52.7h23.6M1444.5 438.7v52.2m-11.8 0h23.6m-23.6 -52.2h23.6M1452.4 449v49.3m-11.8 0h23.6m-23.6 -49.3h23.6M1460.2 455.6v52.6m-11.8 0h23.6m-23.6 -52.6h23.6M1468.1 464.7v51.6m-11.8 0h23.6m-23.6 -51.6h23.6M1475.9 472.5v52.5m-11.8 0h23.6m-23.6 -52.5h23.6M1483.8 480.4v54m-11.8 0h23.6m-23.6 -54h23.6M1491.6 488.3v52.2m-11.8 0h23.6m-23.6 -52.2h23.6M1499.4 496.5v53.2m-11.8 0h23.6m-23.6 -53.2h23.6M1507.3 503.7v54.3m-11.8 0h23.6m-23.6 -54.3h23.6M1515.1 508.5v57.6m-11.8 0h23.6m-23.6 -57.6h23.6M1523 514.6v60.4m-11.8 0h23.6m-23.6 -60.4h23.6M1530.8 518.1v61.5m-11.8 0h23.6m-23.6 -61.5h23.6M1538.7 523.5v61.3m-11.8 0h23.6m-23.6 -61.3h23.6M1546.5 530.2v61.2m-11.8 0h23.6m-23.6 -61.2h23.6M1554.4 536.4v59.3m-11.8 0h23.6m-23.6 -59.3h23.6M1562.2 539.9v60.1m-11.8 0h23.6m-23.6 -60.1h23.6M1570.1 544.9v59.5m-11.8 0h23.6m-23.6 -59.5h23.6M1577.9 553.2v56.6m-11.8 0h23.6m-23.6 -56.6h23.6M1585.8 561v53.3m-11.8 0h23.6m-23.6 -53.3h23.6M1593.6 570.4v48.5m-11.8 0h23.6m-23.6 -48.5h23.6M1601.5 579.2v44.1m-11.8 0h23.6m-23.6 -44.1h23.6M1609.3 587v39.3m-11.8 0h23.6m-23.6 -39.3h23.6M1617.2 596.5v36.1m-11.8 0h23.6m-23.6 -36.1h23.6M1625 605.4v30m-11.8 0h23.6m-23.6 -30h23.6" stroke="#3953a4" stroke-width="8" fill="none"/><path d="M495 812h0M502.8 820.3h0M510.7 820.6h0M518.5 821.3h0M526.4 826h0M534.2 825.9h0M542.1 826.1h0M549.9 827h0M557.8 826.6h0M565.6 826.3h0M573.5 825.8h0M581.3 825.7h0M589.2 827.1h0M597 828.4h0M604.9 829.3h0M612.7 828.9h0M620.6 829.6h0M628.4 830.1h0M636.2 829.6h0M644.1 829.9h0M651.9 829.3h0M659.8 829.2h0M667.6 828.7h0M675.5 828.1h0M683.3 827.7h0M691.2 826.6h0M699 825.7h0M706.9 824.6h0M714.7 822.5h0M722.6 821.1h0M730.4 819.6h0M738.3 818.1h0M746.1 816h0M754 814.3h0M761.8 811.3h0M769.7 808.8h0M777.5 805.7h0M785.3 802.1h0M793.2 799.4h0M801 796.6h0M808.9 793.2h0M816.7 790.2h0M824.6 786.2h0M832.4 778.7h0M840.3 771.5h0M848.1 764.6h0M856 757.6h0M863.8 750.3h0M871.7 742.9h0M879.5 735.5h0M887.4 728.2h0M895.2 720.9h0M903.1 712.4h0M910.9 701.8h0M918.8 689.6h0M926.6 678h0M934.4 665h0M942.3 652.5h0M950.1 639.8h0M958 627.4h0M965.8 615.7h0M973.7 603.9h0M981.5 589.7h0M989.4 576.4h0M997.2 564.2h0M1005.1 551.8h0M1012.9 539.5h0M1020.8 530.8h0M1028.6 520.6h0M1036.5 500.3h0M1044.3 479h0M1052.2 466.9h0M1060 448.4h0M1067.8 435.1h0M1075.7 423.3h0M1083.5 409.7h0M1091.4 395.8h0M1099.2 384.3h0M1107.1 377.4h0M1114.9 368.8h0M1122.8 360.9h0M1130.6 354.6h0M1138.5 341.8h0M1146.3 336.7h0M1154.2 333h0M1162 327.8h0M1169.9 316.9h0M1177.7 310.7h0M1185.6 307.6h0M1193.4 304.5h0M1201.2 298h0M1209.1 297.3h0M1216.9 295h0M1224.8 295.3h0M1232.6 296.4h0M1240.5 297.6h0M1248.3 299.5h0M1256.2 302.3h0M1264 305.5h0M1271.9 306.7h0M1279.7 309.4h0M1287.6 311.6h0M1295.4 315.3h0M1303.3 318.8h0M1311.1 325.6h0M1319 329.8h0M1326.8 337.3h0M1334.7 343h0M1342.5 351.9h0M1350.3 359.8h0M1358.2 367.1h0M1366 376.4h0M1373.9 383h0M1381.7 393.5h0M1389.6 402h0M1397.4 410.1h0M1405.3 421.2h0M1413.1 428.9h0M1421 437.9h0M1428.8 448h0M1436.7 456.3h0M1444.5 464.8h0M1452.4 473.7h0M1460.2 481.9h0M1468.1 490.5h0M1475.9 498.7h0M1483.8 507.4h0M1491.6 514.4h0M1499.4 523.1h0M1507.3 530.9h0M1515.1 537.3h0M1523 544.7h0M1530.8 548.9h0M1538.7 554.1h0M1546.5 560.8h0M1554.4 566h0M1562.2 570h0M1570.1 574.7h0M1577.9 581.4h0M1585.8 587.7h0M1593.6 594.7h0M1601.5 601.2h0M1609.3 606.6h0M1617.2 614.5h0M1625 620.4h0" stroke="#3953a4" stroke-width="14.4" stroke-linecap="round" fill="none"/>
<path shape-rendering="crispEdges" d="M495 797v18m-11.8 0h23.6m-23.6 -18h23.6M714.7 811.9v9m-11.8 0h23.6m-23.6 -9h23.6M722.6 808.3v10.4m-11.8 0h23.6m-23.6 -10.4h23.6M730.4 804.2v13.3m-11.8 0h23.6m-23.6 -13.3h23.6M738.3 799.9v14.7m-11.8 0h23.6m-23.6 -14.7h23.6M746.1 796.2v17.5m-11.8 0h23.6m-23.6 -17.5h23.6M754 792.9v18.9m-11.8 0h23.6m-23.6 -18.9h23.6M761.8 788.7v19.7m-11.8 0h23.6m-23.6 -19.7h23.6M769.7 782.1v22.7m-11.8 0h23.6m-23.6 -22.7h23.6M777.5 780.5v19.7m-11.8 0h23.6m-23.6 -19.7h23.6M785.3 775.5v22.1m-11.8 0h23.6m-23.6 -22.1h23.6M793.2 769.6v23.3m-11.8 0h23.6m-23.6 -23.3h23.6M801 766.3v23.8m-11.8 0h23.6m-23.6 -23.8h23.6M808.9 761.6v23.6m-11.8 0h23.6m-23.6 -23.6h23.6M816.7 757.2v23.5m-11.8 0h23.6m-23.6 -23.5h23.6M824.6 747.3v27.1m-11.8 0h23.6m-23.6 -27.1h23.6M832.4 737.5v30m-11.8 0h23.6m-23.6 -30h23.6M840.3 726.1v32.2m-11.8 0h23.6m-23.6 -32.2h23.6M848.1 715.5v37.2m-11.8 0h23.6m-23.6 -37.2h23.6M856 702.2v43.6m-11.8 0h23.6m-23.6 -43.6h23.6M863.8 693v43.9m-11.8 0h23.6m-23.6 -43.9h23.6M871.7 677.7v49.3m-11.8 0h23.6m-23.6 -49.3h23.6M879.5 663.6v57.3m-11.8 0h23.6m-23.6 -57.3h23.6M887.4 648v61.3m-11.8 0h23.6m-23.6 -61.3h23.6M895.2 633.1v65.4m-11.8 0h23.6m-23.6 -65.4h23.6M903.1 615.6v67.4m-11.8 0h23.6m-23.6 -67.4h23.6M910.9 597.9v71.2m-11.8 0h23.6m-23.6 -71.2h23.6M918.8 580.2v74.9m-11.8 0h23.6m-23.6 -74.9h23.6M926.6 564.5v75.9m-11.8 0h23.6m-23.6 -75.9h23.6M934.4 547.7v77m-11.8 0h23.6m-23.6 -77h23.6M942.3 526.4v82.3m-11.8 0h23.6m-23.6 -82.3h23.6M950.1 508.5v84.2m-11.8 0h23.6m-23.6 -84.2h23.6M958 486v90.6m-11.8 0h23.6m-23.6 -90.6h23.6M965.8 460.5v102.1m-11.8 0h23.6m-23.6 -102.1h23.6M973.7 435.1v112.5m-11.8 0h23.6m-23.6 -112.5h23.6M981.5 409.2v128.3m-11.8 0h23.6m-23.6 -128.3h23.6M989.4 389.2v135.5m-11.8 0h23.6m-23.6 -135.5h23.6M997.2 374.1v137.6m-11.8 0h23.6m-23.6 -137.6h23.6M1005.1 353.2v146.3m-11.8 0h23.6m-23.6 -146.3h23.6M1012.9 329.6v147.1m-11.8 0h23.6m-23.6 -147.1h23.6M1020.8 304.9v152.3m-11.8 0h23.6m-23.6 -152.3h23.6M1028.6 279v157.7m-11.8 0h23.6m-23.6 -157.7h23.6M1036.5 261.5v153.8m-11.8 0h23.6m-23.6 -153.8h23.6M1044.3 243.1v151.2m-11.8 0h23.6m-23.6 -151.2h23.6M1052.2 223.2v153.1m-11.8 0h23.6m-23.6 -153.1h23.6M1060 205v160.3m-11.8 0h23.6m-23.6 -160.3h23.6M1067.8 193.7v159.5m-11.8 0h23.6m-23.6 -159.5h23.6M1075.7 179.5v159.7m-11.8 0h23.6m-23.6 -159.7h23.6M1083.5 168.7v160.4m-11.8 0h23.6m-23.6 -160.4h23.6M1091.4 160.9v155.3m-11.8 0h23.6m-23.6 -155.3h23.6M1099.2 154.7v149m-11.8 0h23.6m-23.6 -149h23.6M1107.1 147.5v141.6m-11.8 0h23.6m-23.6 -141.6h23.6M1114.9 142.3v139.9m-11.8 0h23.6m-23.6 -139.9h23.6M1122.8 140.1v138.4m-11.8 0h23.6m-23.6 -138.4h23.6M1130.6 139v136.6m-11.8 0h23.6m-23.6 -136.6h23.6M1138.5 136v137.1m-11.8 0h23.6m-23.6 -137.1h23.6M1146.3 133.7v135.4m-11.8 0h23.6m-23.6 -135.4h23.6M1154.2 134.6v132.5m-11.8 0h23.6m-23.6 -132.5h23.6M1162 141.5v123.1m-11.8 0h23.6m-23.6 -123.1h23.6M1169.9 146v116.7m-11.8 0h23.6m-23.6 -116.7h23.6M1177.7 154.2v106.8m-11.8 0h23.6m-23.6 -106.8h23.6M1185.6 159.2v102.1m-11.8 0h23.6m-23.6 -102.1h23.6M1193.4 166v94.4m-11.8 0h23.6m-23.6 -94.4h23.6M1201.2 173.1v83.8m-11.8 0h23.6m-23.6 -83.8h23.6M1209.1 181.7v76.1m-11.8 0h23.6m-23.6 -76.1h23.6M1216.9 192.8v65.2m-11.8 0h23.6m-23.6 -65.2h23.6M1224.8 203.1v57.3m-11.8 0h23.6m-23.6 -57.3h23.6M1232.6 211.1v50m-11.8 0h23.6m-23.6 -50h23.6M1240.5 221.8v43.1m-11.8 0h23.6m-23.6 -43.1h23.6M1248.3 228.4v47.5m-11.8 0h23.6m-23.6 -47.5h23.6M1256.2 240.5v38.7m-11.8 0h23.6m-23.6 -38.7h23.6M1264 247.9v35.2m-11.8 0h23.6m-23.6 -35.2h23.6M1271.9 256.9v29.2m-11.8 0h23.6m-23.6 -29.2h23.6M1279.7 269.4v20.9m-11.8 0h23.6m-23.6 -20.9h23.6M1287.6 281.3v14.4m-11.8 0h23.6m-23.6 -14.4h23.6M1303.3 308v16.3m-11.8 0h23.6m-23.6 -16.3h23.6M1311.1 311.1v34.5m-11.8 0h23.6m-23.6 -34.5h23.6M1319 314.9v36m-11.8 0h23.6m-23.6 -36h23.6M1326.8 326.4v28.9m-11.8 0h23.6m-23.6 -28.9h23.6M1334.7 339.5v20.4m-11.8 0h23.6m-23.6 -20.4h23.6M1342.5 351.2v22.7m-11.8 0h23.6m-23.6 -22.7h23.6M1350.3 361.5v24.6m-11.8 0h23.6m-23.6 -24.6h23.6M1358.2 370.9v26.4m-11.8 0h23.6m-23.6 -26.4h23.6M1366 379.9v27.7m-11.8 0h23.6m-23.6 -27.7h23.6M1373.9 390.1v28m-11.8 0h23.6m-23.6 -28h23.6M1381.7 400.3v28.1m-11.8 0h23.6m-23.6 -28.1h23.6M1389.6 409.3v29.3m-11.8 0h23.6m-23.6 -29.3h23.6M1397.4 419.7v30.4m-11.8 0h23.6m-23.6 -30.4h23.6M1405.3 430.4v30.5m-11.8 0h23.6m-23.6 -30.5h23.6M1413.1 439.3v31.8m-11.8 0h23.6m-23.6 -31.8h23.6M1421 450.8v28.7m-11.8 0h23.6m-23.6 -28.7h23.6M1428.8 458.6v31.3m-11.8 0h23.6m-23.6 -31.3h23.6M1436.7 466.8v32.8m-11.8 0h23.6m-23.6 -32.8h23.6M1444.5 475.8v33m-11.8 0h23.6m-23.6 -33h23.6M1452.4 484v31.3m-11.8 0h23.6m-23.6 -31.3h23.6M1460.2 492.5v31.9m-11.8 0h23.6m-23.6 -31.9h23.6M1468.1 502.5v28.6m-11.8 0h23.6m-23.6 -28.6h23.6M1475.9 515.6v24.9m-11.8 0h23.6m-23.6 -24.9h23.6M1483.8 524.5v21.6m-11.8 0h23.6m-23.6 -21.6h23.6M1491.6 533.9v21.6m-11.8 0h23.6m-23.6 -21.6h23.6M1499.4 540.6v22.3m-11.8 0h23.6m-23.6 -22.3h23.6M1507.3 547.8v23m-11.8 0h23.6m-23.6 -23h23.6M1515.1 556.7v24.3m-11.8 0h23.6m-23.6 -24.3h23.6M1523 563.4v25m-11.8 0h23.6m-23.6 -25h23.6M1530.8 569v23.8m-11.8 0h23.6m-23.6 -23.8h23.6M1538.7 574.9v23.5m-11.8 0h23.6m-23.6 -23.5h23.6M1546.5 580.3v24.3m-11.8 0h23.6m-23.6 -24.3h23.6M1554.4 586.3v23.1m-11.8 0h23.6m-23.6 -23.1h23.6M1562.2 593.8v21.4m-11.8 0h23.6m-23.6 -21.4h23.6M1570.1 600.3v22.5m-11.8 0h23.6m-23.6 -22.5h23.6M1577.9 606.8v22.8m-11.8 0h23.6m-23.6 -22.8h23.6M1585.8 613.4v23.6m-11.8 0h23.6m-23.6 -23.6h23.6M1593.6 618.2v22.5m-11.8 0h23.6m-23.6 -22.5h23.6M1601.5 623.7v20.1m-11.8 0h23.6m-23.6 -20.1h23.6M1609.3 628v17.3m-11.8 0h23.6m-23.6 -17.3h23.6M1617.2 630.5v15.8m-11.8 0h23.6m-23.6 -15.8h23.6M1625 634.8v13m-11.8 0h23.6m-23.6 -13h23.6" stroke="#31b34a" stroke-width="8" fill="none"/><path d="M495 806h0M502.8 817.7h0M510.7 820.1h0M518.5 821.8h0M526.4 823.7h0M534.2 825.2h0M542.1 825.5h0M549.9 826.2h0M557.8 826.7h0M565.6 826.8h0M573.5 827.1h0M581.3 827.5h0M589.2 827.7h0M597 828.2h0M604.9 828h0M612.7 827.8h0M620.6 827.4h0M628.4 827.3h0M636.2 827.6h0M644.1 827.3h0M651.9 826.6h0M659.8 825.7h0M667.6 824.6h0M675.5 823.5h0M683.3 822.2h0M691.2 820.8h0M699 819.4h0M706.9 818.4h0M714.7 816.4h0M722.6 813.5h0M730.4 810.9h0M738.3 807.3h0M746.1 804.9h0M754 802.3h0M761.8 798.5h0M769.7 793.5h0M777.5 790.4h0M785.3 786.5h0M793.2 781.3h0M801 778.2h0M808.9 773.3h0M816.7 769h0M824.6 760.9h0M832.4 752.5h0M840.3 742.2h0M848.1 734.1h0M856 724h0M863.8 715h0M871.7 702.4h0M879.5 692.2h0M887.4 678.7h0M895.2 665.8h0M903.1 649.3h0M910.9 633.5h0M918.8 617.6h0M926.6 602.5h0M934.4 586.2h0M942.3 567.6h0M950.1 550.6h0M958 531.3h0M965.8 511.5h0M973.7 491.4h0M981.5 473.4h0M989.4 457h0M997.2 443h0M1005.1 426.4h0M1012.9 403.2h0M1020.8 381h0M1028.6 357.8h0M1036.5 338.4h0M1044.3 318.7h0M1052.2 299.7h0M1060 285.2h0M1067.8 273.4h0M1075.7 259.3h0M1083.5 248.9h0M1091.4 238.5h0M1099.2 229.2h0M1107.1 218.2h0M1114.9 212.2h0M1122.8 209.3h0M1130.6 207.3h0M1138.5 204.5h0M1146.3 201.5h0M1154.2 200.9h0M1162 203.1h0M1169.9 204.3h0M1177.7 207.6h0M1185.6 210.2h0M1193.4 213.2h0M1201.2 215h0M1209.1 219.8h0M1216.9 225.4h0M1224.8 231.8h0M1232.6 236.1h0M1240.5 243.4h0M1248.3 252.1h0M1256.2 259.8h0M1264 265.5h0M1271.9 271.5h0M1279.7 279.8h0M1287.6 288.5h0M1295.4 298.4h0M1303.3 316.2h0M1311.1 328.4h0M1319 332.9h0M1326.8 340.9h0M1334.7 349.7h0M1342.5 362.5h0M1350.3 373.8h0M1358.2 384.1h0M1366 393.8h0M1373.9 404.1h0M1381.7 414.3h0M1389.6 423.9h0M1397.4 434.9h0M1405.3 445.6h0M1413.1 455.2h0M1421 465.2h0M1428.8 474.3h0M1436.7 483.2h0M1444.5 492.3h0M1452.4 499.7h0M1460.2 508.4h0M1468.1 516.8h0M1475.9 528.1h0M1483.8 535.3h0M1491.6 544.7h0M1499.4 551.7h0M1507.3 559.3h0M1515.1 568.8h0M1523 575.9h0M1530.8 580.9h0M1538.7 586.6h0M1546.5 592.5h0M1554.4 597.8h0M1562.2 604.5h0M1570.1 611.5h0M1577.9 618.2h0M1585.8 625.2h0M1593.6 629.4h0M1601.5 633.7h0M1609.3 636.7h0M1617.2 638.4h0M1625 641.3h0" stroke="#31b34a" stroke-width="14.4" stroke-linecap="round" fill="none"/>
<path shape-rendering="crispEdges" d="M495 805v10m-11.8 0h23.6m-23.6 -10h23.6M534.2 822.1v9.5m-11.8 0h23.6m-23.6 -9.5h23.6M542.1 822.5v10.1m-11.8 0h23.6m-23.6 -10.1h23.6M549.9 822.5v9.9m-11.8 0h23.6m-23.6 -9.9h23.6M557.8 823.4v9.8m-11.8 0h23.6m-23.6 -9.8h23.6M565.6 823v10.3m-11.8 0h23.6m-23.6 -10.3h23.6M573.5 823.1v9.8m-11.8 0h23.6m-23.6 -9.8h23.6M581.3 823.6v10.1m-11.8 0h23.6m-23.6 -10.1h23.6M589.2 824.2v9.3m-11.8 0h23.6m-23.6 -9.3h23.6M597 823.8v10.3m-11.8 0h23.6m-23.6 -10.3h23.6M604.9 824.3v10m-11.8 0h23.6m-23.6 -10h23.6M612.7 824.3v9.1m-11.8 0h23.6m-23.6 -9.1h23.6M620.6 808v16m-11.8 0h23.6m-23.6 -16h23.6M675.5 820.2v8.5m-11.8 0h23.6m-23.6 -8.5h23.6M691.2 816.5v9.2m-11.8 0h23.6m-23.6 -9.2h23.6M699 814.8v9m-11.8 0h23.6m-23.6 -9h23.6M706.9 813.2v8.8m-11.8 0h23.6m-23.6 -8.8h23.6M714.7 811.3v9.3m-11.8 0h23.6m-23.6 -9.3h23.6M722.6 807v11.2m-11.8 0h23.6m-23.6 -11.2h23.6M730.4 803.1v13m-11.8 0h23.6m-23.6 -13h23.6M738.3 798.9v15.8m-11.8 0h23.6m-23.6 -15.8h23.6M746.1 796.1v16.2m-11.8 0h23.6m-23.6 -16.2h23.6M754 790.1v20.2m-11.8 0h23.6m-23.6 -20.2h23.6M761.8 786.3v19.4m-11.8 0h23.6m-23.6 -19.4h23.6M769.7 782.4v19.3m-11.8 0h23.6m-23.6 -19.3h23.6M777.5 777.7v19.9m-11.8 0h23.6m-23.6 -19.9h23.6M785.3 774.8v20.6m-11.8 0h23.6m-23.6 -20.6h23.6M793.2 769v22.7m-11.8 0h23.6m-23.6 -22.7h23.6M801 764.8v22m-11.8 0h23.6m-23.6 -22h23.6M808.9 761.1v23m-11.8 0h23.6m-23.6 -23h23.6M816.7 755v22.3m-11.8 0h23.6m-23.6 -22.3h23.6M824.6 744.7v23.8m-11.8 0h23.6m-23.6 -23.8h23.6M832.4 733.6v28.9m-11.8 0h23.6m-23.6 -28.9h23.6M840.3 724.2v29.7m-11.8 0h23.6m-23.6 -29.7h23.6M848.1 712.6v32.9m-11.8 0h23.6m-23.6 -32.9h23.6M856 700.2v37.7m-11.8 0h23.6m-23.6 -37.7h23.6M863.8 688.5v42.2m-11.8 0h23.6m-23.6 -42.2h23.6M871.7 675.2v46.9m-11.8 0h23.6m-23.6 -46.9h23.6M879.5 657.5v55.8m-11.8 0h23.6m-23.6 -55.8h23.6M887.4 644.4v60.7m-11.8 0h23.6m-23.6 -60.7h23.6M895.2 629.8v58.9m-11.8 0h23.6m-23.6 -58.9h23.6M903.1 611.4v63.1m-11.8 0h23.6m-23.6 -63.1h23.6M910.9 590.9v66.4m-11.8 0h23.6m-23.6 -66.4h23.6M918.8 574.7v67.2m-11.8 0h23.6m-23.6 -67.2h23.6M926.6 558.7v69.3m-11.8 0h23.6m-23.6 -69.3h23.6M934.4 540.1v68.1m-11.8 0h23.6m-23.6 -68.1h23.6M942.3 523.2v68.1m-11.8 0h23.6m-23.6 -68.1h23.6M950.1 501.6v71.6m-11.8 0h23.6m-23.6 -71.6h23.6M958 480.4v76.5m-11.8 0h23.6m-23.6 -76.5h23.6M965.8 455.1v89.6m-11.8 0h23.6m-23.6 -89.6h23.6M973.7 427.2v105.6m-11.8 0h23.6m-23.6 -105.6h23.6M981.5 406.3v113.4m-11.8 0h23.6m-23.6 -113.4h23.6M989.4 389.1v120.1m-11.8 0h23.6m-23.6 -120.1h23.6M997.2 369.5v120.3m-11.8 0h23.6m-23.6 -120.3h23.6M1005.1 349v115.1m-11.8 0h23.6m-23.6 -115.1h23.6M1012.9 323.5v114.9m-11.8 0h23.6m-23.6 -114.9h23.6M1020.8 297.3v120.3m-11.8 0h23.6m-23.6 -120.3h23.6M1028.6 275.3v127.4m-11.8 0h23.6m-23.6 -127.4h23.6M1036.5 254.5v136.8m-11.8 0h23.6m-23.6 -136.8h23.6M1044.3 235.9v136.2m-11.8 0h23.6m-23.6 -136.2h23.6M1052.2 218.1v125.7m-11.8 0h23.6m-23.6 -125.7h23.6M1060 201.7v120.6m-11.8 0h23.6m-23.6 -120.6h23.6M1067.8 190v117.9m-11.8 0h23.6m-23.6 -117.9h23.6M1075.7 176.4v118.8m-11.8 0h23.6m-23.6 -118.8h23.6M1083.5 166.1v120.4m-11.8 0h23.6m-23.6 -120.4h23.6M1091.4 159.9v116.1m-11.8 0h23.6m-23.6 -116.1h23.6M1099.2 151.9v114.9m-11.8 0h23.6m-23.6 -114.9h23.6M1107.1 145.8v115.8m-11.8 0h23.6m-23.6 -115.8h23.6M1114.9 140.3v116.1m-11.8 0h23.6m-23.6 -116.1h23.6M1122.8 135v117.9m-11.8 0h23.6m-23.6 -117.9h23.6M1130.6 131.6v116.4m-11.8 0h23.6m-23.6 -116.4h23.6M1138.5 127.3v119.6m-11.8 0h23.6m-23.6 -119.6h23.6M1146.3 124.7v118.3m-11.8 0h23.6m-23.6 -118.3h23.6M1154.2 130.8v107m-11.8 0h23.6m-23.6 -107h23.6M1162 136.4v102.1m-11.8 0h23.6m-23.6 -102.1h23.6M1169.9 145.2v93.2m-11.8 0h23.6m-23.6 -93.2h23.6M1177.7 149.1v88.2m-11.8 0h23.6m-23.6 -88.2h23.6M1185.6 157.4v82.9m-11.8 0h23.6m-23.6 -82.9h23.6M1193.4 162.7v79.5m-11.8 0h23.6m-23.6 -79.5h23.6M1201.2 170.7v75.2m-11.8 0h23.6m-23.6 -75.2h23.6M1209.1 177.3v70.9m-11.8 0h23.6m-23.6 -70.9h23.6M1216.9 187.6v64.1m-11.8 0h23.6m-23.6 -64.1h23.6M1224.8 196.4v59.4m-11.8 0h23.6m-23.6 -59.4h23.6M1232.6 205.9v54.5m-11.8 0h23.6m-23.6 -54.5h23.6M1240.5 214.7v49.4m-11.8 0h23.6m-23.6 -49.4h23.6M1248.3 225v41.4m-11.8 0h23.6m-23.6 -41.4h23.6M1256.2 234.7v35.7m-11.8 0h23.6m-23.6 -35.7h23.6M1264 242.7v31.5m-11.8 0h23.6m-23.6 -31.5h23.6M1271.9 250v30.3m-11.8 0h23.6m-23.6 -30.3h23.6M1279.7 263v24.2m-11.8 0h23.6m-23.6 -24.2h23.6M1287.6 274.8v19.8m-11.8 0h23.6m-23.6 -19.8h23.6M1295.4 290.3v11.7m-11.8 0h23.6m-23.6 -11.7h23.6M1311.1 308.1v42.7m-11.8 0h23.6m-23.6 -42.7h23.6M1319 311.9v43.8m-11.8 0h23.6m-23.6 -43.8h23.6M1326.8 321.4v37.3m-11.8 0h23.6m-23.6 -37.3h23.6M1334.7 334.3v34.6m-11.8 0h23.6m-23.6 -34.6h23.6M1342.5 346.1v38.1m-11.8 0h23.6m-23.6 -38.1h23.6M1350.3 356v39.4m-11.8 0h23.6m-23.6 -39.4h23.6M1358.2 366.1v40.5m-11.8 0h23.6m-23.6 -40.5h23.6M1366 375.1v42.3m-11.8 0h23.6m-23.6 -42.3h23.6M1373.9 385.3v41m-11.8 0h23.6m-23.6 -41h23.6M1381.7 395.9v41.5m-11.8 0h23.6m-23.6 -41.5h23.6M1389.6 406.5v40.2m-11.8 0h23.6m-23.6 -40.2h23.6M1397.4 414.9v45.2m-11.8 0h23.6m-23.6 -45.2h23.6M1405.3 426.8v40.6m-11.8 0h23.6m-23.6 -40.6h23.6M1413.1 435.7v43m-11.8 0h23.6m-23.6 -43h23.6M1421 446.6v43.5m-11.8 0h23.6m-23.6 -43.5h23.6M1428.8 456.3v41m-11.8 0h23.6m-23.6 -41h23.6M1436.7 463.8v43.3m-11.8 0h23.6m-23.6 -43.3h23.6M1444.5 471.8v41.7m-11.8 0h23.6m-23.6 -41.7h23.6M1452.4 479.7v41.2m-11.8 0h23.6m-23.6 -41.2h23.6M1460.2 487.3v44.4m-11.8 0h23.6m-23.6 -44.4h23.6M1468.1 499.4v40.9m-11.8 0h23.6m-23.6 -40.9h23.6M1475.9 509.2v36.4m-11.8 0h23.6m-23.6 -36.4h23.6M1483.8 520.6v33.3m-11.8 0h23.6m-23.6 -33.3h23.6M1491.6 529.5v32.5m-11.8 0h23.6m-23.6 -32.5h23.6M1499.4 536.8v34.2m-11.8 0h23.6m-23.6 -34.2h23.6M1507.3 544.7v36.9m-11.8 0h23.6m-23.6 -36.9h23.6M1515.1 553.2v35.3m-11.8 0h23.6m-23.6 -35.3h23.6M1523 558.5v34.9m-11.8 0h23.6m-23.6 -34.9h23.6M1530.8 563.6v35.8m-11.8 0h23.6m-23.6 -35.8h23.6M1538.7 570.9v34.5m-11.8 0h23.6m-23.6 -34.5h23.6M1546.5 575.6v34.4m-11.8 0h23.6m-23.6 -34.4h23.6M1554.4 583.9v32.6m-11.8 0h23.6m-23.6 -32.6h23.6M1562.2 589.9v32.9m-11.8 0h23.6m-23.6 -32.9h23.6M1570.1 598v32.9m-11.8 0h23.6m-23.6 -32.9h23.6M1577.9 604.2v33.3m-11.8 0h23.6m-23.6 -33.3h23.6M1585.8 609.4v35.6m-11.8 0h23.6m-23.6 -35.6h23.6M1593.6 615.4v31.3m-11.8 0h23.6m-23.6 -31.3h23.6M1601.5 621.1v29.4m-11.8 0h23.6m-23.6 -29.4h23.6M1609.3 624.3v28.2m-11.8 0h23.6m-23.6 -28.2h23.6M1617.2 627.5v26.6m-11.8 0h23.6m-23.6 -26.6h23.6M1625 632.7v25.2m-11.8 0h23.6m-23.6 -25.2h23.6" stroke="#f48120" stroke-width="8" fill="none"/><path d="M495 810h0M502.8 820.6h0M510.7 823.4h0M518.5 824.6h0M526.4 826.3h0M534.2 826.9h0M542.1 827.6h0M549.9 827.5h0M557.8 828.3h0M565.6 828.2h0M573.5 828h0M581.3 828.7h0M589.2 828.9h0M597 829h0M604.9 829.3h0M612.7 828.9h0M620.6 819h0M628.4 829.3h0M636.2 828.1h0M644.1 828.4h0M651.9 828h0M659.8 826.7h0M667.6 825.2h0M675.5 824.4h0M683.3 822.5h0M691.2 821.1h0M699 819.3h0M706.9 817.6h0M714.7 815.9h0M722.6 812.6h0M730.4 809.6h0M738.3 806.8h0M746.1 804.1h0M754 800.2h0M761.8 796h0M769.7 792.1h0M777.5 787.6h0M785.3 785.1h0M793.2 780.3h0M801 775.8h0M808.9 772.6h0M816.7 766.1h0M824.6 756.6h0M832.4 748.1h0M840.3 739.1h0M848.1 729h0M856 719.1h0M863.8 709.7h0M871.7 698.7h0M879.5 685.5h0M887.4 674.8h0M895.2 659.2h0M903.1 643h0M910.9 624.1h0M918.8 608.3h0M926.6 593.4h0M934.4 574.2h0M942.3 557.2h0M950.1 537.4h0M958 518.7h0M965.8 499.9h0M973.7 480h0M981.5 463h0M989.4 449.1h0M997.2 429.7h0M1005.1 406.6h0M1012.9 380.9h0M1020.8 357.4h0M1028.6 338.9h0M1036.5 322.9h0M1044.3 304h0M1052.2 281h0M1060 262h0M1067.8 248.9h0M1075.7 235.8h0M1083.5 226.3h0M1091.4 218h0M1099.2 209.4h0M1107.1 203.7h0M1114.9 198.3h0M1122.8 193.9h0M1130.6 189.8h0M1138.5 187.1h0M1146.3 183.9h0M1154.2 184.3h0M1162 187.4h0M1169.9 191.8h0M1177.7 193.2h0M1185.6 198.8h0M1193.4 202.4h0M1201.2 208.3h0M1209.1 212.7h0M1216.9 219.6h0M1224.8 226.1h0M1232.6 233.1h0M1240.5 239.4h0M1248.3 245.7h0M1256.2 252.6h0M1264 258.5h0M1271.9 265.1h0M1279.7 275h0M1287.6 284.7h0M1295.4 296.2h0M1303.3 307.6h0M1311.1 329.5h0M1319 333.8h0M1326.8 340.1h0M1334.7 351.7h0M1342.5 365.2h0M1350.3 375.6h0M1358.2 386.3h0M1366 396.3h0M1373.9 405.8h0M1381.7 416.7h0M1389.6 426.6h0M1397.4 437.5h0M1405.3 447.1h0M1413.1 457.2h0M1421 468.3h0M1428.8 476.8h0M1436.7 485.4h0M1444.5 492.7h0M1452.4 500.3h0M1460.2 509.5h0M1468.1 519.9h0M1475.9 527.4h0M1483.8 537.3h0M1491.6 545.7h0M1499.4 553.9h0M1507.3 563.1h0M1515.1 570.8h0M1523 576h0M1530.8 581.4h0M1538.7 588.2h0M1546.5 592.8h0M1554.4 600.2h0M1562.2 606.4h0M1570.1 614.4h0M1577.9 620.9h0M1585.8 627.2h0M1593.6 631h0M1601.5 635.8h0M1609.3 638.4h0M1617.2 640.8h0M1625 645.3h0" stroke="#f48120" stroke-width="14.4" stroke-linecap="round" fill="none"/>
<path shape-rendering="crispEdges" d="M495 801v14m-11.8 0h23.6m-23.6 -14h23.6M526.4 819.6v9m-11.8 0h23.6m-23.6 -9h23.6M534.2 821.3v9.5m-11.8 0h23.6m-23.6 -9.5h23.6M542.1 822.8v8.9m-11.8 0h23.6m-23.6 -8.9h23.6M565.6 824v8.5m-11.8 0h23.6m-23.6 -8.5h23.6M573.5 823.7v9m-11.8 0h23.6m-23.6 -9h23.6M581.3 823.9v10.2m-11.8 0h23.6m-23.6 -10.2h23.6M589.2 824.5v8.8m-11.8 0h23.6m-23.6 -8.8h23.6M597 823.9v10.4m-11.8 0h23.6m-23.6 -10.4h23.6M604.9 823.8v8.9m-11.8 0h23.6m-23.6 -8.9h23.6M612.7 824.1v8.6m-11.8 0h23.6m-23.6 -8.6h23.6M675.5 818.4v8.5m-11.8 0h23.6m-23.6 -8.5h23.6M683.3 816v8.8m-11.8 0h23.6m-23.6 -8.8h23.6M691.2 814.1v10.2m-11.8 0h23.6m-23.6 -10.2h23.6M699 811.1v11.3m-11.8 0h23.6m-23.6 -11.3h23.6M706.9 807.7v14m-11.8 0h23.6m-23.6 -14h23.6M714.7 805.6v13.9m-11.8 0h23.6m-23.6 -13.9h23.6M722.6 802.1v15.6m-11.8 0h23.6m-23.6 -15.6h23.6M730.4 798.7v17.6m-11.8 0h23.6m-23.6 -17.6h23.6M738.3 794.2v19.3m-11.8 0h23.6m-23.6 -19.3h23.6M746.1 791.5v19.8m-11.8 0h23.6m-23.6 -19.8h23.6M754 788.7v20.1m-11.8 0h23.6m-23.6 -20.1h23.6M761.8 784.7v21.7m-11.8 0h23.6m-23.6 -21.7h23.6M769.7 780.6v20.9m-11.8 0h23.6m-23.6 -20.9h23.6M777.5 776.1v22.3m-11.8 0h23.6m-23.6 -22.3h23.6M785.3 771.2v23.2m-11.8 0h23.6m-23.6 -23.2h23.6M793.2 766.5v23.1m-11.8 0h23.6m-23.6 -23.1h23.6M801 762.8v22.8m-11.8 0h23.6m-23.6 -22.8h23.6M808.9 756.9v24.2m-11.8 0h23.6m-23.6 -24.2h23.6M816.7 749.2v25.8m-11.8 0h23.6m-23.6 -25.8h23.6M824.6 739.6v29.8m-11.8 0h23.6m-23.6 -29.8h23.6M832.4 729.4v32.3m-11.8 0h23.6m-23.6 -32.3h23.6M840.3 717.9v35.6m-11.8 0h23.6m-23.6 -35.6h23.6M848.1 706.7v38.9m-11.8 0h23.6m-23.6 -38.9h23.6M856 695.9v42.2m-11.8 0h23.6m-23.6 -42.2h23.6M863.8 682.1v46.3m-11.8 0h23.6m-23.6 -46.3h23.6M871.7 667v53.3m-11.8 0h23.6m-23.6 -53.3h23.6M879.5 651.2v60m-11.8 0h23.6m-23.6 -60h23.6M887.4 636.3v65.2m-11.8 0h23.6m-23.6 -65.2h23.6M895.2 619.4v68.8m-11.8 0h23.6m-23.6 -68.8h23.6M903.1 600.3v73.2m-11.8 0h23.6m-23.6 -73.2h23.6M910.9 582.8v71.9m-11.8 0h23.6m-23.6 -71.9h23.6M918.8 565.6v73.2m-11.8 0h23.6m-23.6 -73.2h23.6M926.6 549.6v74.9m-11.8 0h23.6m-23.6 -74.9h23.6M934.4 530v77.3m-11.8 0h23.6m-23.6 -77.3h23.6M942.3 510.1v78.2m-11.8 0h23.6m-23.6 -78.2h23.6M950.1 490.1v81.2m-11.8 0h23.6m-23.6 -81.2h23.6M958 468v86.3m-11.8 0h23.6m-23.6 -86.3h23.6M965.8 439.2v103.6m-11.8 0h23.6m-23.6 -103.6h23.6M973.7 416v115.4m-11.8 0h23.6m-23.6 -115.4h23.6M981.5 396.8v122.2m-11.8 0h23.6m-23.6 -122.2h23.6M989.4 378.3v129m-11.8 0h23.6m-23.6 -129h23.6M997.2 357v128.4m-11.8 0h23.6m-23.6 -128.4h23.6M1005.1 334.7v124.9m-11.8 0h23.6m-23.6 -124.9h23.6M1012.9 308.9v128m-11.8 0h23.6m-23.6 -128h23.6M1020.8 285.1v130.7m-11.8 0h23.6m-23.6 -130.7h23.6M1028.6 264.8v136.3m-11.8 0h23.6m-23.6 -136.3h23.6M1036.5 245.4v144.3m-11.8 0h23.6m-23.6 -144.3h23.6M1044.3 228.2v139.5m-11.8 0h23.6m-23.6 -139.5h23.6M1052.2 206.5v133.3m-11.8 0h23.6m-23.6 -133.3h23.6M1060 195.9v120.5m-11.8 0h23.6m-23.6 -120.5h23.6M1067.8 182.7v114.2m-11.8 0h23.6m-23.6 -114.2h23.6M1075.7 169v114.7m-11.8 0h23.6m-23.6 -114.7h23.6M1083.5 162.7v111.1m-11.8 0h23.6m-23.6 -111.1h23.6M1091.4 156.7v110m-11.8 0h23.6m-23.6 -110h23.6M1099.2 149v110.4m-11.8 0h23.6m-23.6 -110.4h23.6M1107.1 141.7v107.9m-11.8 0h23.6m-23.6 -107.9h23.6M1114.9 135.9v108.7m-11.8 0h23.6m-23.6 -108.7h23.6M1122.8 127.6v112.9m-11.8 0h23.6m-23.6 -112.9h23.6M1130.6 121.2v114.6m-11.8 0h23.6m-23.6 -114.6h23.6M1138.5 119v113.4m-11.8 0h23.6m-23.6 -113.4h23.6M1146.3 115.5v114.9m-11.8 0h23.6m-23.6 -114.9h23.6M1154.2 119.5v111.6m-11.8 0h23.6m-23.6 -111.6h23.6M1162 125.5v104.8m-11.8 0h23.6m-23.6 -104.8h23.6M1169.9 133.9v94.8m-11.8 0h23.6m-23.6 -94.8h23.6M1177.7 140.4v88.8m-11.8 0h23.6m-23.6 -88.8h23.6M1185.6 147.2v83.6m-11.8 0h23.6m-23.6 -83.6h23.6M1193.4 153.7v80.9m-11.8 0h23.6m-23.6 -80.9h23.6M1201.2 162.2v73.8m-11.8 0h23.6m-23.6 -73.8h23.6M1209.1 167.2v72.1m-11.8 0h23.6m-23.6 -72.1h23.6M1216.9 176.4v66.4m-11.8 0h23.6m-23.6 -66.4h23.6M1224.8 185.5v61.7m-11.8 0h23.6m-23.6 -61.7h23.6M1232.6 194.9v55.6m-11.8 0h23.6m-23.6 -55.6h23.6M1240.5 203.6v50.2m-11.8 0h23.6m-23.6 -50.2h23.6M1248.3 212.3v43.6m-11.8 0h23.6m-23.6 -43.6h23.6M1256.2 222.8v37.9m-11.8 0h23.6m-23.6 -37.9h23.6M1264 233.5v41.7m-11.8 0h23.6m-23.6 -41.7h23.6M1271.9 240.2v43.4m-11.8 0h23.6m-23.6 -43.4h23.6M1279.7 247.5v40.3m-11.8 0h23.6m-23.6 -40.3h23.6M1287.6 261.9v32.1m-11.8 0h23.6m-23.6 -32.1h23.6M1295.4 274.4v33.9m-11.8 0h23.6m-23.6 -33.9h23.6M1303.3 289.8v31.9m-11.8 0h23.6m-23.6 -31.9h23.6M1311.1 301.2v37.6m-11.8 0h23.6m-23.6 -37.6h23.6M1319 303.7v45.3m-11.8 0h23.6m-23.6 -45.3h23.6M1326.8 309.6v43.9m-11.8 0h23.6m-23.6 -43.9h23.6M1334.7 325v35.1m-11.8 0h23.6m-23.6 -35.1h23.6M1342.5 339.9v28.8m-11.8 0h23.6m-23.6 -28.8h23.6M1350.3 351.2v33m-11.8 0h23.6m-23.6 -33h23.6M1358.2 359.6v34.3m-11.8 0h23.6m-23.6 -34.3h23.6M1366 369.1v33.2m-11.8 0h23.6m-23.6 -33.2h23.6M1373.9 379.5v34.2m-11.8 0h23.6m-23.6 -34.2h23.6M1381.7 388.8v36.3m-11.8 0h23.6m-23.6 -36.3h23.6M1389.6 400v35.5m-11.8 0h23.6m-23.6 -35.5h23.6M1397.4 410.5v35.7m-11.8 0h23.6m-23.6 -35.7h23.6M1405.3 420.9v36.6m-11.8 0h23.6m-23.6 -36.6h23.6M1413.1 430.2v36.8m-11.8 0h23.6m-23.6 -36.8h23.6M1421 440.9v37.2m-11.8 0h23.6m-23.6 -37.2h23.6M1428.8 449.8v36m-11.8 0h23.6m-23.6 -36h23.6M1436.7 458.6v39m-11.8 0h23.6m-23.6 -39h23.6M1444.5 466v40.5m-11.8 0h23.6m-23.6 -40.5h23.6M1452.4 475.4v37.8m-11.8 0h23.6m-23.6 -37.8h23.6M1460.2 483.9v39.3m-11.8 0h23.6m-23.6 -39.3h23.6M1468.1 493.4v36.3m-11.8 0h23.6m-23.6 -36.3h23.6M1475.9 505.2v32.6m-11.8 0h23.6m-23.6 -32.6h23.6M1483.8 515.7v28.7m-11.8 0h23.6m-23.6 -28.7h23.6M1491.6 524.5v28m-11.8 0h23.6m-23.6 -28h23.6M1499.4 533.4v27.9m-11.8 0h23.6m-23.6 -27.9h23.6M1507.3 540.5v29.4m-11.8 0h23.6m-23.6 -29.4h23.6M1515.1 547.8v31.4m-11.8 0h23.6m-23.6 -31.4h23.6M1523 555.4v32.5m-11.8 0h23.6m-23.6 -32.5h23.6M1530.8 560.8v32.2m-11.8 0h23.6m-23.6 -32.2h23.6M1538.7 566.4v31.2m-11.8 0h23.6m-23.6 -31.2h23.6M1546.5 572.3v30.3m-11.8 0h23.6m-23.6 -30.3h23.6M1554.4 578.6v29.8m-11.8 0h23.6m-23.6 -29.8h23.6M1562.2 585.9v29.1m-11.8 0h23.6m-23.6 -29.1h23.6M1570.1 593.3v29.7m-11.8 0h23.6m-23.6 -29.7h23.6M1577.9 599v28.9m-11.8 0h23.6m-23.6 -28.9h23.6M1585.8 605.6v29m-11.8 0h23.6m-23.6 -29h23.6M1593.6 609.3v32.7m-11.8 0h23.6m-23.6 -32.7h23.6M1601.5 616.6v27.4m-11.8 0h23.6m-23.6 -27.4h23.6M1609.3 620.6v24.2m-11.8 0h23.6m-23.6 -24.2h23.6M1617.2 624.1v23m-11.8 0h23.6m-23.6 -23h23.6M1625 626v22.9m-11.8 0h23.6m-23.6 -22.9h23.6" stroke="#ec2027" stroke-width="8" fill="none"/><path d="M495 808h0M502.8 817.8h0M510.7 819.5h0M518.5 821.9h0M526.4 824.1h0M534.2 826.1h0M542.1 827.3h0M549.9 828.1h0M557.8 828.6h0M565.6 828.3h0M573.5 828.2h0M581.3 829h0M589.2 828.9h0M597 829.1h0M604.9 828.2h0M612.7 828.4h0M620.6 828.4h0M628.4 828.1h0M636.2 827.5h0M644.1 827.3h0M651.9 826.6h0M659.8 825.5h0M667.6 824.4h0M675.5 822.6h0M683.3 820.4h0M691.2 819.2h0M699 816.8h0M706.9 814.7h0M714.7 812.5h0M722.6 809.9h0M730.4 807.5h0M738.3 803.9h0M746.1 801.4h0M754 798.8h0M761.8 795.6h0M769.7 791h0M777.5 787.2h0M785.3 782.8h0M793.2 778h0M801 774.2h0M808.9 769h0M816.7 762.1h0M824.6 754.5h0M832.4 745.5h0M840.3 735.7h0M848.1 726.2h0M856 717h0M863.8 705.2h0M871.7 693.6h0M879.5 681.2h0M887.4 668.8h0M895.2 653.8h0M903.1 636.9h0M910.9 618.7h0M918.8 602.2h0M926.6 587h0M934.4 568.6h0M942.3 549.2h0M950.1 530.7h0M958 511.2h0M965.8 491h0M973.7 473.7h0M981.5 457.9h0M989.4 442.8h0M997.2 421.2h0M1005.1 397.2h0M1012.9 372.9h0M1020.8 350.5h0M1028.6 332.9h0M1036.5 317.6h0M1044.3 298h0M1052.2 273.2h0M1060 256.1h0M1067.8 239.8h0M1075.7 226.3h0M1083.5 218.2h0M1091.4 211.7h0M1099.2 204.2h0M1107.1 195.7h0M1114.9 190.3h0M1122.8 184.1h0M1130.6 178.5h0M1138.5 175.7h0M1146.3 172.9h0M1154.2 175.3h0M1162 177.9h0M1169.9 181.2h0M1177.7 184.8h0M1185.6 189h0M1193.4 194.1h0M1201.2 199.1h0M1209.1 203.3h0M1216.9 209.6h0M1224.8 216.4h0M1232.6 222.7h0M1240.5 228.6h0M1248.3 234.1h0M1256.2 241.7h0M1264 254.4h0M1271.9 261.9h0M1279.7 267.6h0M1287.6 278h0M1295.4 291.3h0M1303.3 305.7h0M1311.1 320h0M1319 326.3h0M1326.8 331.6h0M1334.7 342.6h0M1342.5 354.3h0M1350.3 367.7h0M1358.2 376.8h0M1366 385.7h0M1373.9 396.6h0M1381.7 407h0M1389.6 417.7h0M1397.4 428.3h0M1405.3 439.2h0M1413.1 448.6h0M1421 459.5h0M1428.8 467.8h0M1436.7 478.1h0M1444.5 486.3h0M1452.4 494.3h0M1460.2 503.5h0M1468.1 511.6h0M1475.9 521.4h0M1483.8 530h0M1491.6 538.5h0M1499.4 547.3h0M1507.3 555.2h0M1515.1 563.5h0M1523 571.6h0M1530.8 576.9h0M1538.7 582h0M1546.5 587.5h0M1554.4 593.5h0M1562.2 600.5h0M1570.1 608.1h0M1577.9 613.5h0M1585.8 620.1h0M1593.6 625.7h0M1601.5 630.3h0M1609.3 632.7h0M1617.2 635.6h0M1625 637.4h0" stroke="#ec2027" stroke-width="14.4" stroke-linecap="round" fill="none"/>
<path shape-rendering="crispEdges" d="M495 805.6v8.8m-11.8 0h23.6m-23.6 -8.8h23.6M722.6 804.3v9m-11.8 0h23.6m-23.6 -9h23.6M730.4 799.6v12.1m-11.8 0h23.6m-23.6 -12.1h23.6M738.3 793.6v15.6m-11.8 0h23.6m-23.6 -15.6h23.6M746.1 789.1v18.5m-11.8 0h23.6m-23.6 -18.5h23.6M754 784.1v19.4m-11.8 0h23.6m-23.6 -19.4h23.6M761.8 780.5v17.7m-11.8 0h23.6m-23.6 -17.7h23.6M769.7 776.4v17.7m-11.8 0h23.6m-23.6 -17.7h23.6M777.5 772.9v16.5m-11.8 0h23.6m-23.6 -16.5h23.6M785.3 768.4v17.1m-11.8 0h23.6m-23.6 -17.1h23.6M793.2 761.7v20.4m-11.8 0h23.6m-23.6 -20.4h23.6M801 756.6v18.7m-11.8 0h23.6m-23.6 -18.7h23.6M808.9 749.1v20.1m-11.8 0h23.6m-23.6 -20.1h23.6M816.7 739.5v21.2m-11.8 0h23.6m-23.6 -21.2h23.6M824.6 729.5v23.2m-11.8 0h23.6m-23.6 -23.2h23.6M832.4 716.9v27m-11.8 0h23.6m-23.6 -27h23.6M840.3 704.7v32.8m-11.8 0h23.6m-23.6 -32.8h23.6M848.1 694.2v33.5m-11.8 0h23.6m-23.6 -33.5h23.6M856 681v38.2m-11.8 0h23.6m-23.6 -38.2h23.6M863.8 665.8v45.8m-11.8 0h23.6m-23.6 -45.8h23.6M871.7 652v49.5m-11.8 0h23.6m-23.6 -49.5h23.6M879.5 634.7v55.7m-11.8 0h23.6m-23.6 -55.7h23.6M887.4 616.9v58.4m-11.8 0h23.6m-23.6 -58.4h23.6M895.2 601.7v59.5m-11.8 0h23.6m-23.6 -59.5h23.6M903.1 582.9v65.1m-11.8 0h23.6m-23.6 -65.1h23.6M910.9 568.2v64.6m-11.8 0h23.6m-23.6 -64.6h23.6M918.8 550.8v69.6m-11.8 0h23.6m-23.6 -69.6h23.6M926.6 532v73.8m-11.8 0h23.6m-23.6 -73.8h23.6M934.4 512.2v73.8m-11.8 0h23.6m-23.6 -73.8h23.6M942.3 490.7v74.6m-11.8 0h23.6m-23.6 -74.6h23.6M950.1 466.4v82.3m-11.8 0h23.6m-23.6 -82.3h23.6M958 437.8v97m-11.8 0h23.6m-23.6 -97h23.6M965.8 412.2v108.1m-11.8 0h23.6m-23.6 -108.1h23.6M973.7 394.2v112.1m-11.8 0h23.6m-23.6 -112.1h23.6M981.5 376.9v115m-11.8 0h23.6m-23.6 -115h23.6M989.4 356.7v115.5m-11.8 0h23.6m-23.6 -115.5h23.6M997.2 336v113.7m-11.8 0h23.6m-23.6 -113.7h23.6M1005.1 310.1v118.5m-11.8 0h23.6m-23.6 -118.5h23.6M1012.9 285.8v125.1m-11.8 0h23.6m-23.6 -125.1h23.6M1020.8 264.6v124.9m-11.8 0h23.6m-23.6 -124.9h23.6M1028.6 245.8v125.3m-11.8 0h23.6m-23.6 -125.3h23.6M1036.5 225.3v129.4m-11.8 0h23.6m-23.6 -129.4h23.6M1044.3 208v135.2m-11.8 0h23.6m-23.6 -135.2h23.6M1052.2 195.4v106.7m-11.8 0h23.6m-23.6 -106.7h23.6M1060 182.8v96.9m-11.8 0h23.6m-23.6 -96.9h23.6M1067.8 171.4v94m-11.8 0h23.6m-23.6 -94h23.6M1075.7 163.3v93.2m-11.8 0h23.6m-23.6 -93.2h23.6M1083.5 156.6v90.3m-11.8 0h23.6m-23.6 -90.3h23.6M1091.4 149.2v88.4m-11.8 0h23.6m-23.6 -88.4h23.6M1099.2 143.5v89.4m-11.8 0h23.6m-23.6 -89.4h23.6M1107.1 135.9v92m-11.8 0h23.6m-23.6 -92h23.6M1114.9 131.7v90.7m-11.8 0h23.6m-23.6 -90.7h23.6M1122.8 129.6v91.9m-11.8 0h23.6m-23.6 -91.9h23.6M1130.6 123.2v93.5m-11.8 0h23.6m-23.6 -93.5h23.6M1138.5 121.6v88.9m-11.8 0h23.6m-23.6 -88.9h23.6M1146.3 120.5v89.2m-11.8 0h23.6m-23.6 -89.2h23.6M1154.2 125.9v83.3m-11.8 0h23.6m-23.6 -83.3h23.6M1162 134.1v75.6m-11.8 0h23.6m-23.6 -75.6h23.6M1169.9 141.7v68.8m-11.8 0h23.6m-23.6 -68.8h23.6M1177.7 147.5v65.6m-11.8 0h23.6m-23.6 -65.6h23.6M1185.6 153.6v59.3m-11.8 0h23.6m-23.6 -59.3h23.6M1193.4 162.7v51.7m-11.8 0h23.6m-23.6 -51.7h23.6M1201.2 169.9v49.4m-11.8 0h23.6m-23.6 -49.4h23.6M1209.1 177.8v49m-11.8 0h23.6m-23.6 -49h23.6M1216.9 186.2v47.2m-11.8 0h23.6m-23.6 -47.2h23.6M1224.8 194.6v41.7m-11.8 0h23.6m-23.6 -41.7h23.6M1232.6 204.6v35.8m-11.8 0h23.6m-23.6 -35.8h23.6M1240.5 214.1v29.5m-11.8 0h23.6m-23.6 -29.5h23.6M1248.3 224v24m-11.8 0h23.6m-23.6 -24h23.6M1256.2 235.2v17.5m-11.8 0h23.6m-23.6 -17.5h23.6M1264 241.7v23.1m-11.8 0h23.6m-23.6 -23.1h23.6M1271.9 249.4v29.7m-11.8 0h23.6m-23.6 -29.7h23.6M1279.7 262.2v21.1m-11.8 0h23.6m-23.6 -21.1h23.6M1287.6 275.4v11.2m-11.8 0h23.6m-23.6 -11.2h23.6M1295.4 289.8v8.7m-11.8 0h23.6m-23.6 -8.7h23.6M1303.3 301.8v8.8m-11.8 0h23.6m-23.6 -8.8h23.6M1311.1 304.5v23.2m-11.8 0h23.6m-23.6 -23.2h23.6M1319 308.4v36.6m-11.8 0h23.6m-23.6 -36.6h23.6M1326.8 320.9v30.1m-11.8 0h23.6m-23.6 -30.1h23.6M1334.7 332.2v21.8m-11.8 0h23.6m-23.6 -21.8h23.6M1342.5 344.7v13.6m-11.8 0h23.6m-23.6 -13.6h23.6M1350.3 354.7v16.9m-11.8 0h23.6m-23.6 -16.9h23.6M1358.2 365v18.8m-11.8 0h23.6m-23.6 -18.8h23.6M1366 374.5v22.2m-11.8 0h23.6m-23.6 -22.2h23.6M1373.9 383.7v21.6m-11.8 0h23.6m-23.6 -21.6h23.6M1381.7 394.8v21m-11.8 0h23.6m-23.6 -21h23.6M1389.6 404v22.9m-11.8 0h23.6m-23.6 -22.9h23.6M1397.4 414v24.3m-11.8 0h23.6m-23.6 -24.3h23.6M1405.3 424.4v24.8m-11.8 0h23.6m-23.6 -24.8h23.6M1413.1 434v25m-11.8 0h23.6m-23.6 -25h23.6M1421 445.5v25.1m-11.8 0h23.6m-23.6 -25.1h23.6M1428.8 453.2v26.4m-11.8 0h23.6m-23.6 -26.4h23.6M1436.7 460.7v28.4m-11.8 0h23.6m-23.6 -28.4h23.6M1444.5 470v27.6m-11.8 0h23.6m-23.6 -27.6h23.6M1452.4 476.8v29.7m-11.8 0h23.6m-23.6 -29.7h23.6M1460.2 485.2v28.9m-11.8 0h23.6m-23.6 -28.9h23.6M1468.1 497.8v24.8m-11.8 0h23.6m-23.6 -24.8h23.6M1475.9 509v20.9m-11.8 0h23.6m-23.6 -20.9h23.6M1483.8 519.5v17.9m-11.8 0h23.6m-23.6 -17.9h23.6M1491.6 527.9v17.7m-11.8 0h23.6m-23.6 -17.7h23.6M1499.4 534.6v18.6m-11.8 0h23.6m-23.6 -18.6h23.6M1507.3 544.3v17.6m-11.8 0h23.6m-23.6 -17.6h23.6M1515.1 552.2v19.1m-11.8 0h23.6m-23.6 -19.1h23.6M1523 557.2v24.6m-11.8 0h23.6m-23.6 -24.6h23.6M1530.8 563.7v23.3m-11.8 0h23.6m-23.6 -23.3h23.6M1538.7 569.3v22.9m-11.8 0h23.6m-23.6 -22.9h23.6M1546.5 573.8v23.9m-11.8 0h23.6m-23.6 -23.9h23.6M1554.4 582.3v22.4m-11.8 0h23.6m-23.6 -22.4h23.6M1562.2 588.7v21.8m-11.8 0h23.6m-23.6 -21.8h23.6M1570.1 595.7v20.1m-11.8 0h23.6m-23.6 -20.1h23.6M1577.9 601.3v20.7m-11.8 0h23.6m-23.6 -20.7h23.6M1585.8 607.4v22.4m-11.8 0h23.6m-23.6 -22.4h23.6M1593.6 611.9v23.1m-11.8 0h23.6m-23.6 -23.1h23.6M1601.5 616.7v22.7m-11.8 0h23.6m-23.6 -22.7h23.6M1609.3 622.5v20.3m-11.8 0h23.6m-23.6 -20.3h23.6M1617.2 625.7v18.7m-11.8 0h23.6m-23.6 -18.7h23.6M1625 629.3v16.6m-11.8 0h23.6m-23.6 -16.6h23.6" stroke="#000000" stroke-width="8" fill="none"/><path d="M495 810h0M502.8 818.5h0M510.7 819.9h0M518.5 820.3h0M526.4 827.2h0M534.2 828.1h0M542.1 828.7h0M549.9 829.9h0M557.8 830.1h0M565.6 830.2h0M573.5 830.7h0M581.3 831.3h0M589.2 831.5h0M597 831.7h0M604.9 831.3h0M612.7 831.3h0M620.6 830.9h0M628.4 831.3h0M636.2 830.4h0M644.1 829.6h0M651.9 828.8h0M659.8 828.1h0M667.6 826.2h0M675.5 824.8h0M683.3 822.9h0M691.2 820.1h0M699 817.7h0M706.9 814.8h0M714.7 811.8h0M722.6 808.8h0M730.4 805.6h0M738.3 801.4h0M746.1 798.4h0M754 793.8h0M761.8 789.3h0M769.7 785.2h0M777.5 781.1h0M785.3 777h0M793.2 771.9h0M801 765.9h0M808.9 759.2h0M816.7 750.1h0M824.6 741.1h0M832.4 730.4h0M840.3 721h0M848.1 711h0M856 700h0M863.8 688.7h0M871.7 676.7h0M879.5 662.5h0M887.4 646.1h0M895.2 631.5h0M903.1 615.4h0M910.9 600.5h0M918.8 585.6h0M926.6 568.9h0M934.4 549.1h0M942.3 528h0M950.1 507.6h0M958 486.3h0M965.8 466.2h0M973.7 450.2h0M981.5 434.4h0M989.4 414.5h0M997.2 392.9h0M1005.1 369.4h0M1012.9 348.4h0M1020.8 327.1h0M1028.6 308.4h0M1036.5 290h0M1044.3 275.6h0M1052.2 248.8h0M1060 231.3h0M1067.8 218.4h0M1075.7 209.9h0M1083.5 201.7h0M1091.4 193.4h0M1099.2 188.2h0M1107.1 181.9h0M1114.9 177h0M1122.8 175.5h0M1130.6 170h0M1138.5 166h0M1146.3 165.1h0M1154.2 167.6h0M1162 171.9h0M1169.9 176.1h0M1177.7 180.3h0M1185.6 183.3h0M1193.4 188.5h0M1201.2 194.6h0M1209.1 202.2h0M1216.9 209.8h0M1224.8 215.5h0M1232.6 222.5h0M1240.5 228.8h0M1248.3 236h0M1256.2 244h0M1264 253.2h0M1271.9 264.3h0M1279.7 272.7h0M1287.6 281h0M1295.4 294.1h0M1303.3 306.2h0M1311.1 316.1h0M1319 326.7h0M1326.8 335.9h0M1334.7 343.1h0M1342.5 351.5h0M1350.3 363.2h0M1358.2 374.4h0M1366 385.6h0M1373.9 394.5h0M1381.7 405.3h0M1389.6 415.5h0M1397.4 426.2h0M1405.3 436.8h0M1413.1 446.5h0M1421 458.1h0M1428.8 466.4h0M1436.7 474.9h0M1444.5 483.8h0M1452.4 491.7h0M1460.2 499.6h0M1468.1 510.2h0M1475.9 519.4h0M1483.8 528.4h0M1491.6 536.8h0M1499.4 543.9h0M1507.3 553.1h0M1515.1 561.7h0M1523 569.5h0M1530.8 575.4h0M1538.7 580.7h0M1546.5 585.8h0M1554.4 593.5h0M1562.2 599.6h0M1570.1 605.8h0M1577.9 611.6h0M1585.8 618.6h0M1593.6 623.4h0M1601.5 628.1h0M1609.3 632.6h0M1617.2 635h0M1625 637.6h0" stroke="#000000" stroke-width="14.4" stroke-linecap="round" fill="none"/>
<g fill="#000">
<text transform="translate(440.7 874.4) scale(0.87 1)" text-anchor="end" font-size="67">0</text>
<text transform="translate(440.7 686.2) scale(0.87 1)" text-anchor="end" font-size="67">25,000</text>
<text transform="translate(440.7 498) scale(0.87 1)" text-anchor="end" font-size="67">50,000</text>
<text transform="translate(440.7 309.8) scale(0.87 1)" text-anchor="end" font-size="67">75,000</text>
<text transform="translate(440.7 121.6) scale(0.87 1)" text-anchor="end" font-size="67">100,000</text>
<text transform="translate(493 958.2) scale(0.87 1)" text-anchor="middle" font-size="67">0</text>
<text transform="translate(681.7 958.2) scale(0.87 1)" text-anchor="middle" font-size="67">240</text>
<text transform="translate(870 958.2) scale(0.87 1)" text-anchor="middle" font-size="67">480</text>
<text transform="translate(1059 958.2) scale(0.87 1)" text-anchor="middle" font-size="67">720</text>
<text transform="translate(1247.6 958.2) scale(0.87 1)" text-anchor="middle" font-size="67">960</text>
<text transform="translate(1435 958.2) scale(0.87 1)" text-anchor="middle" font-size="67">1,200</text>
<text transform="translate(1629 958.2) scale(0.87 1)" text-anchor="middle" font-size="67">1,440</text>
<text transform="translate(809.5 1095.5) scale(1.05 1)" font-size="71" stroke="#000" stroke-width="1.9">Time (minutes)</text>
<text transform="translate(137.8 826.2) rotate(-90) scale(1.013 1)" font-size="73" stroke="#000" stroke-width="1.9">Luminescence (RLU)</text>
<text transform="translate(0.5 64.2) scale(1.04 1)" font-size="74" stroke="#000" stroke-width="1.9">A.</text>
<text x="1726.5" y="74" font-size="74" textLength="580" lengthAdjust="spacingAndGlyphs">[bortezomib] (nM)</text>
<circle cx="1745.5" cy="145.3" r="18.7" fill="#000000"/>
<text transform="translate(1791.5 165.7) scale(1.03 1)" font-size="70">10,000</text>
<circle cx="1745.5" cy="246.9" r="18.7" fill="#ec2027"/>
<text transform="translate(1791.5 267.3) scale(1.03 1)" font-size="70">5,000</text>
<circle cx="1745.5" cy="348.5" r="18.7" fill="#f48120"/>
<text transform="translate(1791.5 368.9) scale(1.03 1)" font-size="70">2,500</text>
<circle cx="1745.5" cy="450.1" r="18.7" fill="#31b34a"/>
<text transform="translate(1791.5 470.5) scale(1.03 1)" font-size="70">1,250</text>
<circle cx="1745.5" cy="551.7" r="18.7" fill="#3953a4"/>
<text transform="translate(1791.5 572.1) scale(1.03 1)" font-size="70">625</text>
<circle cx="1745.5" cy="653.3" r="18.7" fill="#2b2a73"/>
<text transform="translate(1791.5 673.7) scale(1.03 1)" font-size="70">312</text>
<circle cx="1745.5" cy="754.9" r="18.7" fill="#a23e97"/>
<text transform="translate(1791.5 775.3) scale(1.03 1)" font-size="70">156</text>
<circle cx="1745.5" cy="856.5" r="18.7" fill="#a0a1a4"/>
<text transform="translate(1792 868.1) scale(1.02 1)" font-size="72">untreated</text>
</g>
<g transform="translate(-1 0)">
<g fill="#b1b3b2" shape-rendering="crispEdges">
<rect x="491.2" y="1247.7" width="7.5" height="789.5"/>
<rect x="463" y="2000.5" width="1165.7" height="7.5"/>
<rect x="463" y="1749.8" width="32" height="7.5"/>
<rect x="463" y="1499" width="32" height="7.5"/>
<rect x="463" y="1247.7" width="32" height="7.5"/>
<rect x="538.3" y="2004.2" width="7.5" height="17.6"/>
<rect x="585.4" y="2004.2" width="7.5" height="17.6"/>
<rect x="632.5" y="2004.2" width="7.5" height="17.6"/>
<rect x="679.6" y="2004.2" width="7.5" height="32.9"/>
<rect x="726.7" y="2004.2" width="7.5" height="17.6"/>
<rect x="773.8" y="2004.2" width="7.5" height="17.6"/>
<rect x="820.8" y="2004.2" width="7.5" height="17.6"/>
<rect x="867.9" y="2004.2" width="7.5" height="32.9"/>
<rect x="915" y="2004.2" width="7.5" height="17.6"/>
<rect x="962.1" y="2004.2" width="7.5" height="17.6"/>
<rect x="1009.2" y="2004.2" width="7.5" height="17.6"/>
<rect x="1056.2" y="2004.2" width="7.5" height="32.9"/>
<rect x="1103.3" y="2004.2" width="7.5" height="17.6"/>
<rect x="1150.4" y="2004.2" width="7.5" height="17.6"/>
<rect x="1197.5" y="2004.2" width="7.5" height="17.6"/>
<rect x="1244.6" y="2004.2" width="7.5" height="32.9"/>
<rect x="1291.7" y="2004.2" width="7.5" height="17.6"/>
<rect x="1338.8" y="2004.2" width="7.5" height="17.6"/>
<rect x="1385.8" y="2004.2" width="7.5" height="17.6"/>
<rect x="1432.9" y="2004.2" width="7.5" height="32.9"/>
<rect x="1480" y="2004.2" width="7.5" height="17.6"/>
<rect x="1527.1" y="2004.2" width="7.5" height="17.6"/>
<rect x="1574.2" y="2004.2" width="7.5" height="17.6"/>
<rect x="1621.2" y="2004.2" width="7.5" height="32.9"/>
</g>
<path shape-rendering="crispEdges" d="M1366 1962.3v8.9m-11.8 0h23.6m-23.6 -8.9h23.6M1373.9 1961.1v9.4m-11.8 0h23.6m-23.6 -9.4h23.6M1381.7 1959.8v10m-11.8 0h23.6m-23.6 -10h23.6M1389.6 1958v10.9m-11.8 0h23.6m-23.6 -10.9h23.6M1397.4 1956.7v11.2m-11.8 0h23.6m-23.6 -11.2h23.6M1405.3 1955.7v12.2m-11.8 0h23.6m-23.6 -12.2h23.6M1413.1 1954.7v12.6m-11.8 0h23.6m-23.6 -12.6h23.6M1421 1953.5v13.2m-11.8 0h23.6m-23.6 -13.2h23.6M1428.8 1951.5v14.3m-11.8 0h23.6m-23.6 -14.3h23.6M1436.7 1951.5v14.6m-11.8 0h23.6m-23.6 -14.6h23.6M1444.5 1949.7v16.2m-11.8 0h23.6m-23.6 -16.2h23.6M1452.4 1948.6v15.4m-11.8 0h23.6m-23.6 -15.4h23.6M1460.2 1949.3v14.4m-11.8 0h23.6m-23.6 -14.4h23.6M1468.1 1948.4v14.1m-11.8 0h23.6m-23.6 -14.1h23.6M1475.9 1947.5v14.4m-11.8 0h23.6m-23.6 -14.4h23.6M1483.8 1946v14.9m-11.8 0h23.6m-23.6 -14.9h23.6M1491.6 1947.1v14.8m-11.8 0h23.6m-23.6 -14.8h23.6M1499.4 1946.4v12.9m-11.8 0h23.6m-23.6 -12.9h23.6M1507.3 1945.3v14.6m-11.8 0h23.6m-23.6 -14.6h23.6M1515.1 1942.7v15.3m-11.8 0h23.6m-23.6 -15.3h23.6M1523 1942.4v14.6m-11.8 0h23.6m-23.6 -14.6h23.6M1530.8 1941.8v15.7m-11.8 0h23.6m-23.6 -15.7h23.6M1538.7 1939.2v17.4m-11.8 0h23.6m-23.6 -17.4h23.6M1546.5 1938.3v17.6m-11.8 0h23.6m-23.6 -17.6h23.6M1554.4 1935.4v19.9m-11.8 0h23.6m-23.6 -19.9h23.6M1562.2 1934.9v18m-11.8 0h23.6m-23.6 -18h23.6M1570.1 1930.8v21.2m-11.8 0h23.6m-23.6 -21.2h23.6M1577.9 1928.7v22.5m-11.8 0h23.6m-23.6 -22.5h23.6M1585.8 1929.5v20.1m-11.8 0h23.6m-23.6 -20.1h23.6M1593.6 1926.6v22.7m-11.8 0h23.6m-23.6 -22.7h23.6M1601.5 1925.1v23.1m-11.8 0h23.6m-23.6 -23.1h23.6M1609.3 1925.2v20.4m-11.8 0h23.6m-23.6 -20.4h23.6M1617.2 1924.3v19.5m-11.8 0h23.6m-23.6 -19.5h23.6M1625 1922.7v18m-11.8 0h23.6m-23.6 -18h23.6" stroke="#a0a1a4" stroke-width="8" fill="none"/><path d="M495 1971h0M502.8 1984.9h0M510.7 1985h0M518.5 1985.2h0M526.4 1985.6h0M534.2 1985.4h0M542.1 1985.6h0M549.9 1985.9h0M557.8 1985.9h0M565.6 1986h0M573.5 1986.5h0M581.3 1986.4h0M589.2 1987h0M597 1987.4h0M604.9 1987.6h0M612.7 1988.1h0M620.6 1988.1h0M628.4 1988h0M636.2 1988.3h0M644.1 1988.4h0M651.9 1989h0M659.8 1988.5h0M667.6 1989.6h0M675.5 1989h0M683.3 1989.5h0M691.2 1990h0M699 1989.9h0M706.9 1990.1h0M714.7 1990.1h0M722.6 1990.5h0M730.4 1989.9h0M738.3 1990.3h0M746.1 1990.3h0M754 1990.4h0M761.8 1989.8h0M769.7 1990.1h0M777.5 1989.6h0M785.3 1990h0M793.2 1989.7h0M801 1990.1h0M808.9 1990.1h0M816.7 1990.3h0M824.6 1989.9h0M832.4 1989.7h0M840.3 1989.7h0M848.1 1990.3h0M856 1990.1h0M863.8 1989.8h0M871.7 1989.8h0M879.5 1989.8h0M887.4 1990.2h0M895.2 1989.9h0M903.1 1990.5h0M910.9 1989.5h0M918.8 1989.5h0M926.6 1989h0M934.4 1989h0M942.3 1988.7h0M950.1 1988.1h0M958 1988.2h0M965.8 1987.8h0M973.7 1987.6h0M981.5 1987.1h0M989.4 1986.8h0M997.2 1987.2h0M1005.1 1986.6h0M1012.9 1985.9h0M1020.8 1985.5h0M1028.6 1985.6h0M1036.5 1985.6h0M1044.3 1984.7h0M1052.2 1984.7h0M1060 1984h0M1067.8 1984h0M1075.7 1983.4h0M1083.5 1983.2h0M1091.4 1982.8h0M1099.2 1982.3h0M1107.1 1981.7h0M1114.9 1981.6h0M1122.8 1981.1h0M1130.6 1980.8h0M1138.5 1980h0M1146.3 1979.7h0M1154.2 1979.6h0M1162 1979.6h0M1169.9 1979.2h0M1177.7 1978.3h0M1185.6 1978h0M1193.4 1977.4h0M1201.2 1977.2h0M1209.1 1976.3h0M1216.9 1977h0M1224.8 1976.3h0M1232.6 1975.9h0M1240.5 1975.6h0M1248.3 1974.7h0M1256.2 1975h0M1264 1974.6h0M1271.9 1973.9h0M1279.7 1973h0M1287.6 1973.2h0M1295.4 1972.5h0M1303.3 1972.8h0M1311.1 1972.1h0M1319 1971.4h0M1326.8 1970.7h0M1334.7 1969.8h0M1342.5 1968.6h0M1350.3 1968h0M1358.2 1967.4h0M1366 1966.7h0M1373.9 1965.8h0M1381.7 1964.8h0M1389.6 1963.5h0M1397.4 1962.4h0M1405.3 1961.8h0M1413.1 1961h0M1421 1960h0M1428.8 1958.7h0M1436.7 1958.8h0M1444.5 1957.8h0M1452.4 1956.3h0M1460.2 1956.4h0M1468.1 1955.4h0M1475.9 1954.7h0M1483.8 1953.4h0M1491.6 1954.5h0M1499.4 1952.9h0M1507.3 1952.6h0M1515.1 1950.4h0M1523 1949.7h0M1530.8 1949.7h0M1538.7 1947.9h0M1546.5 1947.1h0M1554.4 1945.4h0M1562.2 1943.9h0M1570.1 1941.4h0M1577.9 1940h0M1585.8 1939.6h0M1593.6 1938h0M1601.5 1936.7h0M1609.3 1935.4h0M1617.2 1934h0M1625 1931.7h0" stroke="#a0a1a4" stroke-width="14.4" stroke-linecap="round" fill="none"/>
<path shape-rendering="crispEdges" d="M1350.3 1960.6v9.5m-11.8 0h23.6m-23.6 -9.5h23.6M1358.2 1959.5v9.6m-11.8 0h23.6m-23.6 -9.6h23.6M1366 1958v10.9m-11.8 0h23.6m-23.6 -10.9h23.6M1373.9 1955.8v12.4m-11.8 0h23.6m-23.6 -12.4h23.6M1381.7 1953.9v14.2m-11.8 0h23.6m-23.6 -14.2h23.6M1389.6 1952.8v15m-11.8 0h23.6m-23.6 -15h23.6M1397.4 1950.6v16.4m-11.8 0h23.6m-23.6 -16.4h23.6M1405.3 1950.7v15m-11.8 0h23.6m-23.6 -15h23.6M1413.1 1949.1v17m-11.8 0h23.6m-23.6 -17h23.6M1421 1947.7v17.4m-11.8 0h23.6m-23.6 -17.4h23.6M1428.8 1945.4v18.7m-11.8 0h23.6m-23.6 -18.7h23.6M1436.7 1945.2v18.3m-11.8 0h23.6m-23.6 -18.3h23.6M1444.5 1942.7v20.3m-11.8 0h23.6m-23.6 -20.3h23.6M1452.4 1943v19.2m-11.8 0h23.6m-23.6 -19.2h23.6M1460.2 1941.8v18.2m-11.8 0h23.6m-23.6 -18.2h23.6M1468.1 1941v19.1m-11.8 0h23.6m-23.6 -19.1h23.6M1475.9 1941.1v18.1m-11.8 0h23.6m-23.6 -18.1h23.6M1483.8 1940v18.8m-11.8 0h23.6m-23.6 -18.8h23.6M1491.6 1939.3v19.9m-11.8 0h23.6m-23.6 -19.9h23.6M1499.4 1938.6v19.3m-11.8 0h23.6m-23.6 -19.3h23.6M1507.3 1937.8v19.1m-11.8 0h23.6m-23.6 -19.1h23.6M1515.1 1938.7v18.1m-11.8 0h23.6m-23.6 -18.1h23.6M1523 1938.1v18.8m-11.8 0h23.6m-23.6 -18.8h23.6M1530.8 1935.8v19.7m-11.8 0h23.6m-23.6 -19.7h23.6M1538.7 1936.5v19.4m-11.8 0h23.6m-23.6 -19.4h23.6M1546.5 1936.9v17m-11.8 0h23.6m-23.6 -17h23.6M1554.4 1936.6v16.2m-11.8 0h23.6m-23.6 -16.2h23.6M1562.2 1937v13.7m-11.8 0h23.6m-23.6 -13.7h23.6M1570.1 1935.5v15.7m-11.8 0h23.6m-23.6 -15.7h23.6M1577.9 1935.8v13.7m-11.8 0h23.6m-23.6 -13.7h23.6M1585.8 1934.2v13.8m-11.8 0h23.6m-23.6 -13.8h23.6M1593.6 1933.5v13.2m-11.8 0h23.6m-23.6 -13.2h23.6M1601.5 1932.7v13.4m-11.8 0h23.6m-23.6 -13.4h23.6M1609.3 1930.5v13.5m-11.8 0h23.6m-23.6 -13.5h23.6M1617.2 1929.1v11.8m-11.8 0h23.6m-23.6 -11.8h23.6M1625 1928v9.9m-11.8 0h23.6m-23.6 -9.9h23.6" stroke="#a23e97" stroke-width="8" fill="none"/><path d="M495 1983.5h0M502.8 1984.3h0M510.7 1983.8h0M518.5 1984.2h0M526.4 1984.4h0M534.2 1984.6h0M542.1 1984.5h0M549.9 1984.5h0M557.8 1985h0M565.6 1985h0M573.5 1985.4h0M581.3 1986.2h0M589.2 1986h0M597 1986.3h0M604.9 1986.3h0M612.7 1986.3h0M620.6 1986.5h0M628.4 1986.9h0M636.2 1987.2h0M644.1 1987.4h0M651.9 1988.1h0M659.8 1988.1h0M667.6 1988.5h0M675.5 1988.3h0M683.3 1989.1h0M691.2 1988.6h0M699 1989.3h0M706.9 1988.9h0M714.7 1989.2h0M722.6 1989.2h0M730.4 1988.9h0M738.3 1989.3h0M746.1 1988.9h0M754 1988.6h0M761.8 1989.5h0M769.7 1989.3h0M777.5 1989h0M785.3 1989.5h0M793.2 1989h0M801 1988.9h0M808.9 1989.4h0M816.7 1989.6h0M824.6 1989.3h0M832.4 1989.3h0M840.3 1989.8h0M848.1 1989.8h0M856 1989.3h0M863.8 1988.8h0M871.7 1989h0M879.5 1988.6h0M887.4 1989h0M895.2 1988.7h0M903.1 1988.6h0M910.9 1988.4h0M918.8 1988.5h0M926.6 1988.6h0M934.4 1987.7h0M942.3 1987.6h0M950.1 1987.7h0M958 1987.3h0M965.8 1987.1h0M973.7 1986.6h0M981.5 1986.5h0M989.4 1986h0M997.2 1985.4h0M1005.1 1985.6h0M1012.9 1985.1h0M1020.8 1984.4h0M1028.6 1984.4h0M1036.5 1983.8h0M1044.3 1983.9h0M1052.2 1983.4h0M1060 1983.1h0M1067.8 1982.9h0M1075.7 1982.1h0M1083.5 1981.7h0M1091.4 1981.7h0M1099.2 1981.2h0M1107.1 1980.9h0M1114.9 1980.6h0M1122.8 1979.8h0M1130.6 1979.6h0M1138.5 1979.1h0M1146.3 1978.8h0M1154.2 1978.7h0M1162 1977.8h0M1169.9 1977.7h0M1177.7 1977h0M1185.6 1976.8h0M1193.4 1976.7h0M1201.2 1976.1h0M1209.1 1976.3h0M1216.9 1975.5h0M1224.8 1975h0M1232.6 1974.6h0M1240.5 1974.6h0M1248.3 1974.3h0M1256.2 1973.7h0M1264 1973.5h0M1271.9 1972.8h0M1279.7 1973h0M1287.6 1972.3h0M1295.4 1971.9h0M1303.3 1970.8h0M1311.1 1970.6h0M1319 1969.7h0M1326.8 1968.5h0M1334.7 1967.8h0M1342.5 1966.6h0M1350.3 1965.4h0M1358.2 1964.3h0M1366 1963.4h0M1373.9 1962h0M1381.7 1961.1h0M1389.6 1960.2h0M1397.4 1958.8h0M1405.3 1958.2h0M1413.1 1957.6h0M1421 1956.4h0M1428.8 1954.8h0M1436.7 1954.3h0M1444.5 1952.8h0M1452.4 1952.6h0M1460.2 1950.9h0M1468.1 1950.5h0M1475.9 1950.2h0M1483.8 1949.4h0M1491.6 1949.3h0M1499.4 1948.3h0M1507.3 1947.3h0M1515.1 1947.8h0M1523 1947.5h0M1530.8 1945.6h0M1538.7 1946.2h0M1546.5 1945.4h0M1554.4 1944.7h0M1562.2 1943.9h0M1570.1 1943.4h0M1577.9 1942.7h0M1585.8 1941.1h0M1593.6 1940.1h0M1601.5 1939.4h0M1609.3 1937.3h0M1617.2 1935h0M1625 1932.9h0" stroke="#a23e97" stroke-width="14.4" stroke-linecap="round" fill="none"/>
<path shape-rendering="crispEdges" d="M1342.5 1965.7v9.4m-11.8 0h23.6m-23.6 -9.4h23.6M1350.3 1965.3v9.5m-11.8 0h23.6m-23.6 -9.5h23.6M1358.2 1964v9.8m-11.8 0h23.6m-23.6 -9.8h23.6M1366 1963.1v10.4m-11.8 0h23.6m-23.6 -10.4h23.6M1373.9 1962v11.5m-11.8 0h23.6m-23.6 -11.5h23.6M1381.7 1960.3v12.2m-11.8 0h23.6m-23.6 -12.2h23.6M1389.6 1959.1v12.9m-11.8 0h23.6m-23.6 -12.9h23.6M1397.4 1957.6v13.5m-11.8 0h23.6m-23.6 -13.5h23.6M1405.3 1956.3v15.6m-11.8 0h23.6m-23.6 -15.6h23.6M1413.1 1954.5v14.3m-11.8 0h23.6m-23.6 -14.3h23.6M1421 1953.3v16.1m-11.8 0h23.6m-23.6 -16.1h23.6M1428.8 1953.8v14.7m-11.8 0h23.6m-23.6 -14.7h23.6M1436.7 1950.4v17.7m-11.8 0h23.6m-23.6 -17.7h23.6M1444.5 1949.3v17.1m-11.8 0h23.6m-23.6 -17.1h23.6M1452.4 1948.1v18.1m-11.8 0h23.6m-23.6 -18.1h23.6M1460.2 1947.6v17.1m-11.8 0h23.6m-23.6 -17.1h23.6M1468.1 1948.6v15.3m-11.8 0h23.6m-23.6 -15.3h23.6M1475.9 1947.6v16.4m-11.8 0h23.6m-23.6 -16.4h23.6M1483.8 1946v16.8m-11.8 0h23.6m-23.6 -16.8h23.6M1491.6 1947.5v15.9m-11.8 0h23.6m-23.6 -15.9h23.6M1499.4 1945.6v16.3m-11.8 0h23.6m-23.6 -16.3h23.6M1507.3 1944.6v17m-11.8 0h23.6m-23.6 -17h23.6M1515.1 1944.5v16.8m-11.8 0h23.6m-23.6 -16.8h23.6M1523 1945v16.3m-11.8 0h23.6m-23.6 -16.3h23.6M1530.8 1942.8v18.5m-11.8 0h23.6m-23.6 -18.5h23.6M1538.7 1942.5v16.7m-11.8 0h23.6m-23.6 -16.7h23.6M1546.5 1941.4v18.1m-11.8 0h23.6m-23.6 -18.1h23.6M1554.4 1939.5v17m-11.8 0h23.6m-23.6 -17h23.6M1562.2 1937.7v18m-11.8 0h23.6m-23.6 -18h23.6M1570.1 1938.5v17.3m-11.8 0h23.6m-23.6 -17.3h23.6M1577.9 1937.3v16.9m-11.8 0h23.6m-23.6 -16.9h23.6M1585.8 1934.6v19.3m-11.8 0h23.6m-23.6 -19.3h23.6M1593.6 1934.2v17.5m-11.8 0h23.6m-23.6 -17.5h23.6M1601.5 1933.6v16.5m-11.8 0h23.6m-23.6 -16.5h23.6M1609.3 1931.3v18.7m-11.8 0h23.6m-23.6 -18.7h23.6M1617.2 1931v16m-11.8 0h23.6m-23.6 -16h23.6M1625 1928.6v13.6m-11.8 0h23.6m-23.6 -13.6h23.6" stroke="#2b2a73" stroke-width="8" fill="none"/><path d="M495 1986.5h0M502.8 1987h0M510.7 1987.4h0M518.5 1986.8h0M526.4 1987.7h0M534.2 1987.5h0M542.1 1987.3h0M549.9 1988.1h0M557.8 1988.2h0M565.6 1987.8h0M573.5 1988.2h0M581.3 1988.8h0M589.2 1988.8h0M597 1988.4h0M604.9 1989.1h0M612.7 1988.9h0M620.6 1989.9h0M628.4 1990.2h0M636.2 1990.5h0M644.1 1990.9h0M651.9 1990.9h0M659.8 1991.3h0M667.6 1991.5h0M675.5 1991.2h0M683.3 1991.4h0M691.2 1992h0M699 1992h0M706.9 1992.2h0M714.7 1992h0M722.6 1992.4h0M730.4 1992h0M738.3 1991.7h0M746.1 1991.3h0M754 1991.9h0M761.8 1992.3h0M769.7 1992.3h0M777.5 1992.1h0M785.3 1992h0M793.2 1992.1h0M801 1991.8h0M808.9 1991.9h0M816.7 1991.8h0M824.6 1991.6h0M832.4 1992h0M840.3 1991.8h0M848.1 1992.1h0M856 1992.5h0M863.8 1992h0M871.7 1992.6h0M879.5 1992.2h0M887.4 1992.2h0M895.2 1991.9h0M903.1 1992.3h0M910.9 1992.2h0M918.8 1992.3h0M926.6 1991.8h0M934.4 1991.5h0M942.3 1990.7h0M950.1 1990.4h0M958 1990.1h0M965.8 1989.9h0M973.7 1989.6h0M981.5 1989.6h0M989.4 1989.3h0M997.2 1988.8h0M1005.1 1988.6h0M1012.9 1988.1h0M1020.8 1987.7h0M1028.6 1987.8h0M1036.5 1987.7h0M1044.3 1987.8h0M1052.2 1986.7h0M1060 1986.4h0M1067.8 1985.9h0M1075.7 1985.7h0M1083.5 1985.2h0M1091.4 1985h0M1099.2 1984.3h0M1107.1 1984.1h0M1114.9 1983.8h0M1122.8 1983.9h0M1130.6 1982.5h0M1138.5 1982.6h0M1146.3 1981.9h0M1154.2 1981.8h0M1162 1981.2h0M1169.9 1980.9h0M1177.7 1980.3h0M1185.6 1979.5h0M1193.4 1979.4h0M1201.2 1978.6h0M1209.1 1978.7h0M1216.9 1977.9h0M1224.8 1978.2h0M1232.6 1977.5h0M1240.5 1977.5h0M1248.3 1976.9h0M1256.2 1977.1h0M1264 1976.6h0M1271.9 1976.1h0M1279.7 1975.5h0M1287.6 1975.1h0M1295.4 1974.6h0M1303.3 1974.7h0M1311.1 1973.8h0M1319 1972.8h0M1326.8 1972.4h0M1334.7 1971.6h0M1342.5 1970.4h0M1350.3 1970.1h0M1358.2 1968.9h0M1366 1968.3h0M1373.9 1967.7h0M1381.7 1966.4h0M1389.6 1965.5h0M1397.4 1964.4h0M1405.3 1964.1h0M1413.1 1961.6h0M1421 1961.3h0M1428.8 1961.2h0M1436.7 1959.2h0M1444.5 1957.8h0M1452.4 1957.2h0M1460.2 1956.1h0M1468.1 1956.2h0M1475.9 1955.8h0M1483.8 1954.4h0M1491.6 1955.4h0M1499.4 1953.8h0M1507.3 1953.1h0M1515.1 1952.9h0M1523 1953.2h0M1530.8 1952.1h0M1538.7 1950.9h0M1546.5 1950.5h0M1554.4 1948h0M1562.2 1946.7h0M1570.1 1947.2h0M1577.9 1945.8h0M1585.8 1944.2h0M1593.6 1943h0M1601.5 1941.9h0M1609.3 1940.6h0M1617.2 1939h0M1625 1935.4h0" stroke="#2b2a73" stroke-width="14.4" stroke-linecap="round" fill="none"/>
<path shape-rendering="crispEdges" d="M510.7 1956v38m-11.8 0h23.6m-23.6 -38h23.6M1036.5 1980.6v8.5m-11.8 0h23.6m-23.6 -8.5h23.6M1044.3 1980.1v8.4m-11.8 0h23.6m-23.6 -8.4h23.6M1067.8 1978.7v8.4m-11.8 0h23.6m-23.6 -8.4h23.6M1083.5 1977.9v8.8m-11.8 0h23.6m-23.6 -8.8h23.6M1099.2 1977.2v8.5m-11.8 0h23.6m-23.6 -8.5h23.6M1130.6 1976.1v8.5m-11.8 0h23.6m-23.6 -8.5h23.6M1326.8 1965.9v8.7m-11.8 0h23.6m-23.6 -8.7h23.6M1334.7 1964.6v9.4m-11.8 0h23.6m-23.6 -9.4h23.6M1342.5 1963.4v10.1m-11.8 0h23.6m-23.6 -10.1h23.6M1350.3 1962.2v10.2m-11.8 0h23.6m-23.6 -10.2h23.6M1358.2 1960.8v11.2m-11.8 0h23.6m-23.6 -11.2h23.6M1366 1959.4v12.6m-11.8 0h23.6m-23.6 -12.6h23.6M1373.9 1958.5v13.1m-11.8 0h23.6m-23.6 -13.1h23.6M1381.7 1957.2v13.6m-11.8 0h23.6m-23.6 -13.6h23.6M1389.6 1956.9v13.1m-11.8 0h23.6m-23.6 -13.1h23.6M1397.4 1955.9v13.7m-11.8 0h23.6m-23.6 -13.7h23.6M1405.3 1953.4v16.1m-11.8 0h23.6m-23.6 -16.1h23.6M1413.1 1953v15m-11.8 0h23.6m-23.6 -15h23.6M1421 1951.8v16.2m-11.8 0h23.6m-23.6 -16.2h23.6M1428.8 1950.4v17m-11.8 0h23.6m-23.6 -17h23.6M1436.7 1949.8v16m-11.8 0h23.6m-23.6 -16h23.6M1444.5 1948.3v18.2m-11.8 0h23.6m-23.6 -18.2h23.6M1452.4 1946.2v18.2m-11.8 0h23.6m-23.6 -18.2h23.6M1460.2 1945.9v18.1m-11.8 0h23.6m-23.6 -18.1h23.6M1468.1 1943.9v18.8m-11.8 0h23.6m-23.6 -18.8h23.6M1475.9 1945.9v16.2m-11.8 0h23.6m-23.6 -16.2h23.6M1483.8 1943.4v17.5m-11.8 0h23.6m-23.6 -17.5h23.6M1491.6 1943.8v17.8m-11.8 0h23.6m-23.6 -17.8h23.6M1499.4 1941.5v18.8m-11.8 0h23.6m-23.6 -18.8h23.6M1507.3 1942.4v16m-11.8 0h23.6m-23.6 -16h23.6M1515.1 1941.3v18.4m-11.8 0h23.6m-23.6 -18.4h23.6M1523 1940v17.9m-11.8 0h23.6m-23.6 -17.9h23.6M1530.8 1941.1v18.6m-11.8 0h23.6m-23.6 -18.6h23.6M1538.7 1940.1v18.6m-11.8 0h23.6m-23.6 -18.6h23.6M1546.5 1938.5v17.8m-11.8 0h23.6m-23.6 -17.8h23.6M1554.4 1938.2v18.9m-11.8 0h23.6m-23.6 -18.9h23.6M1562.2 1935.5v18.5m-11.8 0h23.6m-23.6 -18.5h23.6M1570.1 1935.9v17.3m-11.8 0h23.6m-23.6 -17.3h23.6M1577.9 1934v18.8m-11.8 0h23.6m-23.6 -18.8h23.6M1585.8 1932.2v19.5m-11.8 0h23.6m-23.6 -19.5h23.6M1593.6 1930.4v20.9m-11.8 0h23.6m-23.6 -20.9h23.6M1601.5 1929.1v20.1m-11.8 0h23.6m-23.6 -20.1h23.6M1609.3 1929.2v18.3m-11.8 0h23.6m-23.6 -18.3h23.6M1617.2 1927v18.6m-11.8 0h23.6m-23.6 -18.6h23.6M1625 1925v15m-11.8 0h23.6m-23.6 -15h23.6" stroke="#3953a4" stroke-width="8" fill="none"/><path d="M495 1984h0M502.8 1983.8h0M510.7 1975h0M518.5 1984.9h0M526.4 1984.6h0M534.2 1985.1h0M542.1 1985.4h0M549.9 1985.6h0M557.8 1985.7h0M565.6 1986.1h0M573.5 1986.7h0M581.3 1986.4h0M589.2 1986.3h0M597 1986.9h0M604.9 1987.2h0M612.7 1987.1h0M620.6 1987.5h0M628.4 1987.5h0M636.2 1987.6h0M644.1 1988.2h0M651.9 1988.1h0M659.8 1988.9h0M667.6 1989.1h0M675.5 1989.3h0M683.3 1989.5h0M691.2 1989.6h0M699 1989.3h0M706.9 1989.1h0M714.7 1989.1h0M722.6 1988.9h0M730.4 1989.4h0M738.3 1989.5h0M746.1 1989.5h0M754 1989.7h0M761.8 1989.6h0M769.7 1989.3h0M777.5 1989.4h0M785.3 1989.1h0M793.2 1989.2h0M801 1989.3h0M808.9 1989.4h0M816.7 1989.9h0M824.6 1989.9h0M832.4 1989.9h0M840.3 1990h0M848.1 1989.3h0M856 1989.1h0M863.8 1990h0M871.7 1989.5h0M879.5 1989.7h0M887.4 1989.7h0M895.2 1990.1h0M903.1 1989.6h0M910.9 1989.5h0M918.8 1988.9h0M926.6 1988.8h0M934.4 1988.6h0M942.3 1988.2h0M950.1 1987.7h0M958 1987.7h0M965.8 1987.3h0M973.7 1987.3h0M981.5 1987.2h0M989.4 1986.8h0M997.2 1986.1h0M1005.1 1986.2h0M1012.9 1985.6h0M1020.8 1985.3h0M1028.6 1984.8h0M1036.5 1984.9h0M1044.3 1984.3h0M1052.2 1984.2h0M1060 1983.3h0M1067.8 1982.9h0M1075.7 1982.6h0M1083.5 1982.3h0M1091.4 1982h0M1099.2 1981.4h0M1107.1 1981.4h0M1114.9 1981h0M1122.8 1980.5h0M1130.6 1980.4h0M1138.5 1980.2h0M1146.3 1980h0M1154.2 1979.1h0M1162 1978.5h0M1169.9 1977.9h0M1177.7 1978.2h0M1185.6 1978.1h0M1193.4 1977.1h0M1201.2 1976.7h0M1209.1 1976h0M1216.9 1975.8h0M1224.8 1975.7h0M1232.6 1975.5h0M1240.5 1974.5h0M1248.3 1974.6h0M1256.2 1974.6h0M1264 1974h0M1271.9 1973.7h0M1279.7 1973.3h0M1287.6 1972.4h0M1295.4 1972h0M1303.3 1971.8h0M1311.1 1971.5h0M1319 1970.7h0M1326.8 1970.2h0M1334.7 1969.2h0M1342.5 1968.4h0M1350.3 1967.2h0M1358.2 1966.4h0M1366 1965.8h0M1373.9 1965.1h0M1381.7 1964h0M1389.6 1963.5h0M1397.4 1962.7h0M1405.3 1961.4h0M1413.1 1960.5h0M1421 1959.9h0M1428.8 1958.9h0M1436.7 1957.8h0M1444.5 1957.4h0M1452.4 1955.3h0M1460.2 1954.9h0M1468.1 1953.3h0M1475.9 1954h0M1483.8 1952.2h0M1491.6 1952.7h0M1499.4 1950.9h0M1507.3 1950.4h0M1515.1 1950.5h0M1523 1949h0M1530.8 1950.3h0M1538.7 1949.4h0M1546.5 1947.4h0M1554.4 1947.7h0M1562.2 1944.7h0M1570.1 1944.5h0M1577.9 1943.3h0M1585.8 1941.9h0M1593.6 1940.8h0M1601.5 1939.1h0M1609.3 1938.4h0M1617.2 1936.3h0M1625 1932.5h0" stroke="#3953a4" stroke-width="14.4" stroke-linecap="round" fill="none"/>
<path shape-rendering="crispEdges" d="M1122.8 1971.1v8.7m-11.8 0h23.6m-23.6 -8.7h23.6M1130.6 1970.4v8.5m-11.8 0h23.6m-23.6 -8.5h23.6M1138.5 1970.2v8.4m-11.8 0h23.6m-23.6 -8.4h23.6M1146.3 1968.3v8.8m-11.8 0h23.6m-23.6 -8.8h23.6M1154.2 1967.1v9.4m-11.8 0h23.6m-23.6 -9.4h23.6M1162 1965.6v10.2m-11.8 0h23.6m-23.6 -10.2h23.6M1169.9 1964.7v10.5m-11.8 0h23.6m-23.6 -10.5h23.6M1177.7 1962.5v11.7m-11.8 0h23.6m-23.6 -11.7h23.6M1185.6 1961.6v12.1m-11.8 0h23.6m-23.6 -12.1h23.6M1193.4 1959.5v13m-11.8 0h23.6m-23.6 -13h23.6M1201.2 1958.7v13m-11.8 0h23.6m-23.6 -13h23.6M1209.1 1957.4v13.1m-11.8 0h23.6m-23.6 -13.1h23.6M1216.9 1953.9v16.9m-11.8 0h23.6m-23.6 -16.9h23.6M1224.8 1954.6v15.2m-11.8 0h23.6m-23.6 -15.2h23.6M1232.6 1953v15.4m-11.8 0h23.6m-23.6 -15.4h23.6M1240.5 1950.5v16.1m-11.8 0h23.6m-23.6 -16.1h23.6M1248.3 1949.9v15.6m-11.8 0h23.6m-23.6 -15.6h23.6M1256.2 1948.9v16.8m-11.8 0h23.6m-23.6 -16.8h23.6M1264 1947.1v15.5m-11.8 0h23.6m-23.6 -15.5h23.6M1271.9 1946.5v15m-11.8 0h23.6m-23.6 -15h23.6M1279.7 1946.2v15.8m-11.8 0h23.6m-23.6 -15.8h23.6M1287.6 1944.5v16.9m-11.8 0h23.6m-23.6 -16.9h23.6M1295.4 1942.3v16.3m-11.8 0h23.6m-23.6 -16.3h23.6M1303.3 1939.2v16.2m-11.8 0h23.6m-23.6 -16.2h23.6M1311.1 1938.7v14.8m-11.8 0h23.6m-23.6 -14.8h23.6M1319 1935.2v17.1m-11.8 0h23.6m-23.6 -17.1h23.6M1326.8 1932.9v16.9m-11.8 0h23.6m-23.6 -16.9h23.6M1334.7 1931.9v17.5m-11.8 0h23.6m-23.6 -17.5h23.6M1342.5 1929.6v16.5m-11.8 0h23.6m-23.6 -16.5h23.6M1350.3 1926.5v17.9m-11.8 0h23.6m-23.6 -17.9h23.6M1358.2 1925.5v17.5m-11.8 0h23.6m-23.6 -17.5h23.6M1366 1922.7v17.2m-11.8 0h23.6m-23.6 -17.2h23.6M1373.9 1920.4v17.7m-11.8 0h23.6m-23.6 -17.7h23.6M1381.7 1920.8v15.2m-11.8 0h23.6m-23.6 -15.2h23.6M1389.6 1917.3v17.3m-11.8 0h23.6m-23.6 -17.3h23.6M1397.4 1915v18.3m-11.8 0h23.6m-23.6 -18.3h23.6M1405.3 1913.6v18m-11.8 0h23.6m-23.6 -18h23.6M1413.1 1911v19.6m-11.8 0h23.6m-23.6 -19.6h23.6M1421 1910.2v18m-11.8 0h23.6m-23.6 -18h23.6M1428.8 1907.1v19.4m-11.8 0h23.6m-23.6 -19.4h23.6M1436.7 1905v19.9m-11.8 0h23.6m-23.6 -19.9h23.6M1444.5 1902.5v20.5m-11.8 0h23.6m-23.6 -20.5h23.6M1452.4 1898.7v21.7m-11.8 0h23.6m-23.6 -21.7h23.6M1460.2 1895.9v20.2m-11.8 0h23.6m-23.6 -20.2h23.6M1468.1 1893.8v19.2m-11.8 0h23.6m-23.6 -19.2h23.6M1475.9 1889.1v20.5m-11.8 0h23.6m-23.6 -20.5h23.6M1483.8 1886.9v19.6m-11.8 0h23.6m-23.6 -19.6h23.6M1491.6 1883.7v19.9m-11.8 0h23.6m-23.6 -19.9h23.6M1499.4 1879.2v20.9m-11.8 0h23.6m-23.6 -20.9h23.6M1507.3 1874.9v23.2m-11.8 0h23.6m-23.6 -23.2h23.6M1515.1 1870.4v24.2m-11.8 0h23.6m-23.6 -24.2h23.6M1523 1865.6v25.3m-11.8 0h23.6m-23.6 -25.3h23.6M1530.8 1861.9v25.7m-11.8 0h23.6m-23.6 -25.7h23.6M1538.7 1858.3v27.3m-11.8 0h23.6m-23.6 -27.3h23.6M1546.5 1854.3v29.8m-11.8 0h23.6m-23.6 -29.8h23.6M1554.4 1851.6v29.6m-11.8 0h23.6m-23.6 -29.6h23.6M1562.2 1847.4v32.5m-11.8 0h23.6m-23.6 -32.5h23.6M1570.1 1844.2v34.6m-11.8 0h23.6m-23.6 -34.6h23.6M1577.9 1836.7v38.4m-11.8 0h23.6m-23.6 -38.4h23.6M1585.8 1832.5v39.1m-11.8 0h23.6m-23.6 -39.1h23.6M1593.6 1828.1v42.5m-11.8 0h23.6m-23.6 -42.5h23.6M1601.5 1823.8v42.5m-11.8 0h23.6m-23.6 -42.5h23.6M1609.3 1822v43.5m-11.8 0h23.6m-23.6 -43.5h23.6M1617.2 1819.8v41.2m-11.8 0h23.6m-23.6 -41.2h23.6M1625 1818v40.5m-11.8 0h23.6m-23.6 -40.5h23.6" stroke="#31b34a" stroke-width="8" fill="none"/><path d="M495 1983.1h0M502.8 1983h0M510.7 1984.1h0M518.5 1984.1h0M526.4 1983.7h0M534.2 1984.6h0M542.1 1984.2h0M549.9 1984.6h0M557.8 1985.1h0M565.6 1985.2h0M573.5 1985.8h0M581.3 1985.5h0M589.2 1986.4h0M597 1986.2h0M604.9 1986.5h0M612.7 1986.9h0M620.6 1987h0M628.4 1987.4h0M636.2 1987.6h0M644.1 1987.9h0M651.9 1988.2h0M659.8 1988.3h0M667.6 1989.1h0M675.5 1988.9h0M683.3 1989.4h0M691.2 1989.7h0M699 1989.8h0M706.9 1989.6h0M714.7 1989.9h0M722.6 1989.5h0M730.4 1989.6h0M738.3 1989.3h0M746.1 1989.1h0M754 1989.2h0M761.8 1989.1h0M769.7 1989.4h0M777.5 1989h0M785.3 1988.6h0M793.2 1988.5h0M801 1988.5h0M808.9 1989h0M816.7 1988.9h0M824.6 1988.5h0M832.4 1988.4h0M840.3 1988.3h0M848.1 1988h0M856 1988.2h0M863.8 1988.2h0M871.7 1987.9h0M879.5 1988.2h0M887.4 1987.9h0M895.2 1988.1h0M903.1 1987.9h0M910.9 1987.3h0M918.8 1987.5h0M926.6 1986.8h0M934.4 1986.7h0M942.3 1986.3h0M950.1 1985.8h0M958 1985.9h0M965.8 1985.4h0M973.7 1985.1h0M981.5 1984.9h0M989.4 1984.6h0M997.2 1984.6h0M1005.1 1984.5h0M1012.9 1983.9h0M1020.8 1983.7h0M1028.6 1982.7h0M1036.5 1982.3h0M1044.3 1981.7h0M1052.2 1981.3h0M1060 1980.8h0M1067.8 1980.4h0M1075.7 1979.4h0M1083.5 1978.6h0M1091.4 1978.1h0M1099.2 1977.1h0M1107.1 1976.8h0M1114.9 1976.3h0M1122.8 1975.5h0M1130.6 1974.7h0M1138.5 1974.4h0M1146.3 1972.6h0M1154.2 1971.8h0M1162 1970.7h0M1169.9 1969.9h0M1177.7 1968.4h0M1185.6 1967.6h0M1193.4 1966h0M1201.2 1965.2h0M1209.1 1964h0M1216.9 1962.3h0M1224.8 1962.2h0M1232.6 1960.7h0M1240.5 1958.5h0M1248.3 1957.7h0M1256.2 1957.3h0M1264 1954.8h0M1271.9 1954h0M1279.7 1954.1h0M1287.6 1952.9h0M1295.4 1950.4h0M1303.3 1947.3h0M1311.1 1946.1h0M1319 1943.7h0M1326.8 1941.3h0M1334.7 1940.6h0M1342.5 1937.8h0M1350.3 1935.5h0M1358.2 1934.3h0M1366 1931.4h0M1373.9 1929.2h0M1381.7 1928.4h0M1389.6 1926h0M1397.4 1924.2h0M1405.3 1922.6h0M1413.1 1920.8h0M1421 1919.3h0M1428.8 1916.8h0M1436.7 1914.9h0M1444.5 1912.7h0M1452.4 1909.5h0M1460.2 1906h0M1468.1 1903.4h0M1475.9 1899.4h0M1483.8 1896.6h0M1491.6 1893.7h0M1499.4 1889.7h0M1507.3 1886.5h0M1515.1 1882.5h0M1523 1878.2h0M1530.8 1874.8h0M1538.7 1871.9h0M1546.5 1869.2h0M1554.4 1866.4h0M1562.2 1863.6h0M1570.1 1861.5h0M1577.9 1855.9h0M1585.8 1852h0M1593.6 1849.4h0M1601.5 1845.1h0M1609.3 1843.8h0M1617.2 1840.4h0M1625 1838.2h0" stroke="#31b34a" stroke-width="14.4" stroke-linecap="round" fill="none"/>
<path shape-rendering="crispEdges" d="M1107.1 1925v9.7m-11.8 0h23.6m-23.6 -9.7h23.6M1114.9 1920.3v9.7m-11.8 0h23.6m-23.6 -9.7h23.6M1146.3 1899.1v10m-11.8 0h23.6m-23.6 -10h23.6M1154.2 1891.1v12.7m-11.8 0h23.6m-23.6 -12.7h23.6M1162 1883.9v16.3m-11.8 0h23.6m-23.6 -16.3h23.6M1169.9 1875.4v18.6m-11.8 0h23.6m-23.6 -18.6h23.6M1177.7 1867.7v23.4m-11.8 0h23.6m-23.6 -23.4h23.6M1185.6 1858.9v26m-11.8 0h23.6m-23.6 -26h23.6M1193.4 1853.9v25.8m-11.8 0h23.6m-23.6 -25.8h23.6M1201.2 1846.8v27.1m-11.8 0h23.6m-23.6 -27.1h23.6M1209.1 1839.1v28m-11.8 0h23.6m-23.6 -28h23.6M1216.9 1832v28.2m-11.8 0h23.6m-23.6 -28.2h23.6M1224.8 1824.4v28.9m-11.8 0h23.6m-23.6 -28.9h23.6M1232.6 1818.1v30.2m-11.8 0h23.6m-23.6 -30.2h23.6M1240.5 1809.1v33.1m-11.8 0h23.6m-23.6 -33.1h23.6M1248.3 1802v34.5m-11.8 0h23.6m-23.6 -34.5h23.6M1256.2 1794.1v38.4m-11.8 0h23.6m-23.6 -38.4h23.6M1264 1787.7v38.9m-11.8 0h23.6m-23.6 -38.9h23.6M1271.9 1780.4v39.1m-11.8 0h23.6m-23.6 -39.1h23.6M1279.7 1776.1v37.2m-11.8 0h23.6m-23.6 -37.2h23.6M1287.6 1770.8v37.4m-11.8 0h23.6m-23.6 -37.4h23.6M1295.4 1764.6v38.5m-11.8 0h23.6m-23.6 -38.5h23.6M1303.3 1759.8v36.9m-11.8 0h23.6m-23.6 -36.9h23.6M1311.1 1754.8v36.3m-11.8 0h23.6m-23.6 -36.3h23.6M1319 1750.4v35.9m-11.8 0h23.6m-23.6 -35.9h23.6M1326.8 1744.8v37.4m-11.8 0h23.6m-23.6 -37.4h23.6M1334.7 1739.5v37.2m-11.8 0h23.6m-23.6 -37.2h23.6M1342.5 1734.8v37.6m-11.8 0h23.6m-23.6 -37.6h23.6M1350.3 1731.2v35.9m-11.8 0h23.6m-23.6 -35.9h23.6M1358.2 1726.9v34m-11.8 0h23.6m-23.6 -34h23.6M1366 1722v32.8m-11.8 0h23.6m-23.6 -32.8h23.6M1373.9 1718.4v32m-11.8 0h23.6m-23.6 -32h23.6M1381.7 1715.5v28.7m-11.8 0h23.6m-23.6 -28.7h23.6M1389.6 1710.9v30.4m-11.8 0h23.6m-23.6 -30.4h23.6M1397.4 1708.7v28.7m-11.8 0h23.6m-23.6 -28.7h23.6M1405.3 1704.4v29.8m-11.8 0h23.6m-23.6 -29.8h23.6M1413.1 1703.3v28.7m-11.8 0h23.6m-23.6 -28.7h23.6M1421 1700.6v28.5m-11.8 0h23.6m-23.6 -28.5h23.6M1428.8 1699.7v27.8m-11.8 0h23.6m-23.6 -27.8h23.6M1436.7 1695.1v27.7m-11.8 0h23.6m-23.6 -27.7h23.6M1444.5 1694v26.6m-11.8 0h23.6m-23.6 -26.6h23.6M1452.4 1691.8v27.8m-11.8 0h23.6m-23.6 -27.8h23.6M1460.2 1690.3v25.2m-11.8 0h23.6m-23.6 -25.2h23.6M1468.1 1686.7v26.7m-11.8 0h23.6m-23.6 -26.7h23.6M1475.9 1685.3v22.7m-11.8 0h23.6m-23.6 -22.7h23.6M1483.8 1682.2v18.5m-11.8 0h23.6m-23.6 -18.5h23.6M1491.6 1679.1v21.7m-11.8 0h23.6m-23.6 -21.7h23.6M1499.4 1677.2v20.6m-11.8 0h23.6m-23.6 -20.6h23.6M1507.3 1674.5v22m-11.8 0h23.6m-23.6 -22h23.6M1515.1 1670.1v25.3m-11.8 0h23.6m-23.6 -25.3h23.6M1523 1667.9v25.6m-11.8 0h23.6m-23.6 -25.6h23.6M1530.8 1665.4v27.3m-11.8 0h23.6m-23.6 -27.3h23.6M1538.7 1664.5v24.9m-11.8 0h23.6m-23.6 -24.9h23.6M1546.5 1662.6v26.2m-11.8 0h23.6m-23.6 -26.2h23.6M1554.4 1663.2v25.7m-11.8 0h23.6m-23.6 -25.7h23.6M1562.2 1662v25.1m-11.8 0h23.6m-23.6 -25.1h23.6M1570.1 1662.4v22.8m-11.8 0h23.6m-23.6 -22.8h23.6M1577.9 1661.6v22.5m-11.8 0h23.6m-23.6 -22.5h23.6M1585.8 1659.8v23.3m-11.8 0h23.6m-23.6 -23.3h23.6M1593.6 1659.5v23.8m-11.8 0h23.6m-23.6 -23.8h23.6M1601.5 1659.3v25.5m-11.8 0h23.6m-23.6 -25.5h23.6M1609.3 1658.5v24.7m-11.8 0h23.6m-23.6 -24.7h23.6M1617.2 1656.9v26.6m-11.8 0h23.6m-23.6 -26.6h23.6M1625 1657.2v26.1m-11.8 0h23.6m-23.6 -26.1h23.6" stroke="#f48120" stroke-width="8" fill="none"/><path d="M495 1983.2h0M502.8 1984.4h0M510.7 1984.1h0M518.5 1984.2h0M526.4 1984.9h0M534.2 1984.9h0M542.1 1986h0M549.9 1986.4h0M557.8 1986.3h0M565.6 1986.1h0M573.5 1986.2h0M581.3 1986.3h0M589.2 1986.4h0M597 1985.7h0M604.9 1986.3h0M612.7 1985h0M620.6 1986.4h0M628.4 1985.9h0M636.2 1985.7h0M644.1 1986.5h0M651.9 1986.6h0M659.8 1986.5h0M667.6 1986.6h0M675.5 1986.6h0M683.3 1986.9h0M691.2 1986.9h0M699 1986.9h0M706.9 1987.4h0M714.7 1987h0M722.6 1986.3h0M730.4 1986h0M738.3 1986.1h0M746.1 1985.6h0M754 1986.1h0M761.8 1986h0M769.7 1986h0M777.5 1985.6h0M785.3 1985.3h0M793.2 1985.7h0M801 1985.2h0M808.9 1984.9h0M816.7 1984.9h0M824.6 1985h0M832.4 1984.5h0M840.3 1983.6h0M848.1 1983.6h0M856 1982.9h0M863.8 1982.4h0M871.7 1981.6h0M879.5 1981.9h0M887.4 1981.8h0M895.2 1981h0M903.1 1980.2h0M910.9 1979h0M918.8 1978.3h0M926.6 1977.2h0M934.4 1977.4h0M942.3 1976.5h0M950.1 1975.7h0M958 1975.2h0M965.8 1974.4h0M973.7 1973.5h0M981.5 1973.2h0M989.4 1972.2h0M997.2 1970.1h0M1005.1 1968.8h0M1012.9 1967h0M1020.8 1964.8h0M1028.6 1962.9h0M1036.5 1961.1h0M1044.3 1958.3h0M1052.2 1955.5h0M1060 1951.3h0M1067.8 1947.1h0M1075.7 1943.7h0M1083.5 1940.2h0M1091.4 1936.6h0M1099.2 1933.3h0M1107.1 1929.8h0M1114.9 1925.2h0M1122.8 1920.6h0M1130.6 1915.8h0M1138.5 1910.5h0M1146.3 1904.1h0M1154.2 1897.4h0M1162 1892.1h0M1169.9 1884.7h0M1177.7 1879.4h0M1185.6 1871.9h0M1193.4 1866.7h0M1201.2 1860.3h0M1209.1 1853.1h0M1216.9 1846.1h0M1224.8 1838.9h0M1232.6 1833.2h0M1240.5 1825.6h0M1248.3 1819.3h0M1256.2 1813.3h0M1264 1807.2h0M1271.9 1800h0M1279.7 1794.7h0M1287.6 1789.5h0M1295.4 1783.9h0M1303.3 1778.3h0M1311.1 1772.9h0M1319 1768.3h0M1326.8 1763.5h0M1334.7 1758.1h0M1342.5 1753.6h0M1350.3 1749.1h0M1358.2 1743.9h0M1366 1738.4h0M1373.9 1734.4h0M1381.7 1729.8h0M1389.6 1726.1h0M1397.4 1723.1h0M1405.3 1719.3h0M1413.1 1717.6h0M1421 1714.9h0M1428.8 1713.6h0M1436.7 1708.9h0M1444.5 1707.3h0M1452.4 1705.7h0M1460.2 1702.9h0M1468.1 1700h0M1475.9 1696.6h0M1483.8 1691.4h0M1491.6 1690h0M1499.4 1687.5h0M1507.3 1685.5h0M1515.1 1682.7h0M1523 1680.7h0M1530.8 1679h0M1538.7 1677h0M1546.5 1675.7h0M1554.4 1676h0M1562.2 1674.5h0M1570.1 1673.8h0M1577.9 1672.9h0M1585.8 1671.5h0M1593.6 1671.4h0M1601.5 1672.1h0M1609.3 1670.9h0M1617.2 1670.2h0M1625 1670.2h0" stroke="#f48120" stroke-width="14.4" stroke-linecap="round" fill="none"/>
<path shape-rendering="crispEdges" d="M887.4 1955.9v11.9m-11.8 0h23.6m-23.6 -11.9h23.6M895.2 1950.2v16.3m-11.8 0h23.6m-23.6 -16.3h23.6M903.1 1945.1v17.7m-11.8 0h23.6m-23.6 -17.7h23.6M910.9 1940.5v18.5m-11.8 0h23.6m-23.6 -18.5h23.6M918.8 1933.5v20.6m-11.8 0h23.6m-23.6 -20.6h23.6M926.6 1927.9v22.1m-11.8 0h23.6m-23.6 -22.1h23.6M934.4 1922.2v23.5m-11.8 0h23.6m-23.6 -23.5h23.6M942.3 1913v26.6m-11.8 0h23.6m-23.6 -26.6h23.6M950.1 1903.5v30m-11.8 0h23.6m-23.6 -30h23.6M958 1894.8v31.7m-11.8 0h23.6m-23.6 -31.7h23.6M965.8 1885.3v32.7m-11.8 0h23.6m-23.6 -32.7h23.6M973.7 1875.5v32.5m-11.8 0h23.6m-23.6 -32.5h23.6M981.5 1860.6v35.4m-11.8 0h23.6m-23.6 -35.4h23.6M989.4 1846.8v39.4m-11.8 0h23.6m-23.6 -39.4h23.6M997.2 1829.5v47.2m-11.8 0h23.6m-23.6 -47.2h23.6M1005.1 1816.4v44.7m-11.8 0h23.6m-23.6 -44.7h23.6M1012.9 1798.8v53.3m-11.8 0h23.6m-23.6 -53.3h23.6M1020.8 1775.7v58.9m-11.8 0h23.6m-23.6 -58.9h23.6M1028.6 1759v60.5m-11.8 0h23.6m-23.6 -60.5h23.6M1036.5 1736.6v64.4m-11.8 0h23.6m-23.6 -64.4h23.6M1044.3 1712.5v67.8m-11.8 0h23.6m-23.6 -67.8h23.6M1052.2 1686.9v69.4m-11.8 0h23.6m-23.6 -69.4h23.6M1060 1663.6v73.6m-11.8 0h23.6m-23.6 -73.6h23.6M1067.8 1629.6v88.3m-11.8 0h23.6m-23.6 -88.3h23.6M1075.7 1608.8v89m-11.8 0h23.6m-23.6 -89h23.6M1083.5 1583.6v93.9m-11.8 0h23.6m-23.6 -93.9h23.6M1091.4 1568.7v87m-11.8 0h23.6m-23.6 -87h23.6M1099.2 1551.9v83.8m-11.8 0h23.6m-23.6 -83.8h23.6M1107.1 1524.1v84m-11.8 0h23.6m-23.6 -84h23.6M1114.9 1496.9v87.4m-11.8 0h23.6m-23.6 -87.4h23.6M1122.8 1484.1v69.8m-11.8 0h23.6m-23.6 -69.8h23.6M1130.6 1464.1v75.3m-11.8 0h23.6m-23.6 -75.3h23.6M1138.5 1448.5v66.9m-11.8 0h23.6m-23.6 -66.9h23.6M1146.3 1439.8v52.6m-11.8 0h23.6m-23.6 -52.6h23.6M1154.2 1427.4v53.2m-11.8 0h23.6m-23.6 -53.2h23.6M1162 1405.8v63.6m-11.8 0h23.6m-23.6 -63.6h23.6M1169.9 1400.3v61.9m-11.8 0h23.6m-23.6 -61.9h23.6M1177.7 1387.4v55.6m-11.8 0h23.6m-23.6 -55.6h23.6M1185.6 1376.3v54m-11.8 0h23.6m-23.6 -54h23.6M1193.4 1369.5v42.5m-11.8 0h23.6m-23.6 -42.5h23.6M1201.2 1366.8v32m-11.8 0h23.6m-23.6 -32h23.6M1209.1 1362v31.6m-11.8 0h23.6m-23.6 -31.6h23.6M1216.9 1365v25.8m-11.8 0h23.6m-23.6 -25.8h23.6M1224.8 1365.8v24.3m-11.8 0h23.6m-23.6 -24.3h23.6M1232.6 1367.8v21.8m-11.8 0h23.6m-23.6 -21.8h23.6M1240.5 1369.6v19.7m-11.8 0h23.6m-23.6 -19.7h23.6M1248.3 1371v23.9m-11.8 0h23.6m-23.6 -23.9h23.6M1256.2 1371.6v25.1m-11.8 0h23.6m-23.6 -25.1h23.6M1264 1374.3v27.8m-11.8 0h23.6m-23.6 -27.8h23.6M1271.9 1375.7v32m-11.8 0h23.6m-23.6 -32h23.6M1279.7 1379v34.5m-11.8 0h23.6m-23.6 -34.5h23.6M1287.6 1380.8v40.1m-11.8 0h23.6m-23.6 -40.1h23.6M1295.4 1380.3v57.6m-11.8 0h23.6m-23.6 -57.6h23.6M1303.3 1387.7v60.4m-11.8 0h23.6m-23.6 -60.4h23.6M1311.1 1406.5v48.3m-11.8 0h23.6m-23.6 -48.3h23.6M1319 1412.2v50.3m-11.8 0h23.6m-23.6 -50.3h23.6M1326.8 1420.5v63.4m-11.8 0h23.6m-23.6 -63.4h23.6M1334.7 1437.6v54.4m-11.8 0h23.6m-23.6 -54.4h23.6M1342.5 1448v54.4m-11.8 0h23.6m-23.6 -54.4h23.6M1350.3 1460.6v51.6m-11.8 0h23.6m-23.6 -51.6h23.6M1358.2 1470.2v57.7m-11.8 0h23.6m-23.6 -57.7h23.6M1366 1481.1v59.9m-11.8 0h23.6m-23.6 -59.9h23.6M1373.9 1491.2v58.6m-11.8 0h23.6m-23.6 -58.6h23.6M1381.7 1506.4v52.3m-11.8 0h23.6m-23.6 -52.3h23.6M1389.6 1521v48.2m-11.8 0h23.6m-23.6 -48.2h23.6M1397.4 1525.7v55m-11.8 0h23.6m-23.6 -55h23.6M1405.3 1537.4v53.2m-11.8 0h23.6m-23.6 -53.2h23.6M1413.1 1564.4v40.5m-11.8 0h23.6m-23.6 -40.5h23.6M1421 1576.8v40m-11.8 0h23.6m-23.6 -40h23.6M1428.8 1588.3v39.5m-11.8 0h23.6m-23.6 -39.5h23.6M1436.7 1598v43m-11.8 0h23.6m-23.6 -43h23.6M1444.5 1604.3v46.7m-11.8 0h23.6m-23.6 -46.7h23.6M1452.4 1615.2v42.6m-11.8 0h23.6m-23.6 -42.6h23.6M1460.2 1630.4v35.3m-11.8 0h23.6m-23.6 -35.3h23.6M1468.1 1638.5v33.3m-11.8 0h23.6m-23.6 -33.3h23.6M1475.9 1645.2v35.5m-11.8 0h23.6m-23.6 -35.5h23.6M1483.8 1653.2v36m-11.8 0h23.6m-23.6 -36h23.6M1491.6 1662.6v29.6m-11.8 0h23.6m-23.6 -29.6h23.6M1499.4 1673.8v23.6m-11.8 0h23.6m-23.6 -23.6h23.6M1507.3 1681.8v22.5m-11.8 0h23.6m-23.6 -22.5h23.6M1515.1 1691.7v23.1m-11.8 0h23.6m-23.6 -23.1h23.6M1523 1699.2v25.1m-11.8 0h23.6m-23.6 -25.1h23.6M1530.8 1708.6v25m-11.8 0h23.6m-23.6 -25h23.6M1538.7 1717.6v20.5m-11.8 0h23.6m-23.6 -20.5h23.6M1546.5 1730.4v12.4m-11.8 0h23.6m-23.6 -12.4h23.6M1554.4 1736v11.4m-11.8 0h23.6m-23.6 -11.4h23.6M1562.2 1741.1v11.5m-11.8 0h23.6m-23.6 -11.5h23.6M1570.1 1746.6v12.8m-11.8 0h23.6m-23.6 -12.8h23.6M1577.9 1752.6v12.3m-11.8 0h23.6m-23.6 -12.3h23.6M1585.8 1758.6v11.1m-11.8 0h23.6m-23.6 -11.1h23.6M1593.6 1764.6v10.7m-11.8 0h23.6m-23.6 -10.7h23.6M1601.5 1770.2v10.9m-11.8 0h23.6m-23.6 -10.9h23.6M1609.3 1775.1v12.1m-11.8 0h23.6m-23.6 -12.1h23.6M1617.2 1781.3v10.8m-11.8 0h23.6m-23.6 -10.8h23.6M1625 1786v11m-11.8 0h23.6m-23.6 -11h23.6" stroke="#ec2027" stroke-width="8" fill="none"/><path d="M495 1984.8h0M502.8 1985.2h0M510.7 1985.2h0M518.5 1985.4h0M526.4 1986.3h0M534.2 1986.8h0M542.1 1986.7h0M549.9 1987.6h0M557.8 1988.1h0M565.6 1988.2h0M573.5 1988.4h0M581.3 1988.5h0M589.2 1988.6h0M597 1989.1h0M604.9 1988.2h0M612.7 1987.7h0M620.6 1987.5h0M628.4 1987.2h0M636.2 1986.4h0M644.1 1986.3h0M651.9 1985.5h0M659.8 1985.1h0M667.6 1984.7h0M675.5 1984.1h0M683.3 1983.9h0M691.2 1983.4h0M699 1982.9h0M706.9 1982.3h0M714.7 1981.8h0M722.6 1980.8h0M730.4 1980.6h0M738.3 1980.3h0M746.1 1979.3h0M754 1978.9h0M761.8 1978h0M769.7 1977.5h0M777.5 1977.3h0M785.3 1977h0M793.2 1976.2h0M801 1975.6h0M808.9 1974.6h0M816.7 1974.1h0M824.6 1973.7h0M832.4 1973.1h0M840.3 1972.1h0M848.1 1971.2h0M856 1970.7h0M863.8 1969.3h0M871.7 1966.7h0M879.5 1964.3h0M887.4 1961.8h0M895.2 1958.3h0M903.1 1954h0M910.9 1949.8h0M918.8 1943.8h0M926.6 1939h0M934.4 1934h0M942.3 1926.3h0M950.1 1918.5h0M958 1910.6h0M965.8 1901.6h0M973.7 1891.7h0M981.5 1878.3h0M989.4 1866.5h0M997.2 1853.1h0M1005.1 1838.8h0M1012.9 1825.5h0M1020.8 1805.2h0M1028.6 1789.2h0M1036.5 1768.8h0M1044.3 1746.4h0M1052.2 1721.6h0M1060 1700.5h0M1067.8 1673.8h0M1075.7 1653.3h0M1083.5 1630.5h0M1091.4 1612.3h0M1099.2 1593.8h0M1107.1 1566.1h0M1114.9 1540.6h0M1122.8 1519h0M1130.6 1501.8h0M1138.5 1482h0M1146.3 1466.1h0M1154.2 1454h0M1162 1437.6h0M1169.9 1431.3h0M1177.7 1415.2h0M1185.6 1403.2h0M1193.4 1390.8h0M1201.2 1382.8h0M1209.1 1377.8h0M1216.9 1377.9h0M1224.8 1378h0M1232.6 1378.7h0M1240.5 1379.4h0M1248.3 1383h0M1256.2 1384.2h0M1264 1388.2h0M1271.9 1391.7h0M1279.7 1396.3h0M1287.6 1400.9h0M1295.4 1409.1h0M1303.3 1417.9h0M1311.1 1430.6h0M1319 1437.3h0M1326.8 1452.2h0M1334.7 1464.8h0M1342.5 1475.2h0M1350.3 1486.4h0M1358.2 1499h0M1366 1511.1h0M1373.9 1520.5h0M1381.7 1532.5h0M1389.6 1545h0M1397.4 1553.2h0M1405.3 1564h0M1413.1 1584.7h0M1421 1596.8h0M1428.8 1608h0M1436.7 1619.5h0M1444.5 1627.7h0M1452.4 1636.5h0M1460.2 1648.1h0M1468.1 1655.1h0M1475.9 1662.9h0M1483.8 1671.2h0M1491.6 1677.3h0M1499.4 1685.6h0M1507.3 1693.1h0M1515.1 1703.2h0M1523 1711.7h0M1530.8 1721.1h0M1538.7 1727.9h0M1546.5 1736.6h0M1554.4 1741.7h0M1562.2 1746.8h0M1570.1 1753.1h0M1577.9 1758.7h0M1585.8 1764.2h0M1593.6 1769.9h0M1601.5 1775.6h0M1609.3 1781.1h0M1617.2 1786.7h0M1625 1791.5h0" stroke="#ec2027" stroke-width="14.4" stroke-linecap="round" fill="none"/>
<path shape-rendering="crispEdges" d="M801 1929.1v10.3m-11.8 0h23.6m-23.6 -10.3h23.6M808.9 1920.9v11.3m-11.8 0h23.6m-23.6 -11.3h23.6M816.7 1911.6v12.7m-11.8 0h23.6m-23.6 -12.7h23.6M824.6 1899.8v16.3m-11.8 0h23.6m-23.6 -16.3h23.6M832.4 1888.8v16.7m-11.8 0h23.6m-23.6 -16.7h23.6M840.3 1880.6v17.3m-11.8 0h23.6m-23.6 -17.3h23.6M848.1 1868.4v20.2m-11.8 0h23.6m-23.6 -20.2h23.6M856 1856.9v21.3m-11.8 0h23.6m-23.6 -21.3h23.6M863.8 1844.2v25.4m-11.8 0h23.6m-23.6 -25.4h23.6M871.7 1830.6v28.5m-11.8 0h23.6m-23.6 -28.5h23.6M879.5 1819v28.2m-11.8 0h23.6m-23.6 -28.2h23.6M887.4 1802.9v30.4m-11.8 0h23.6m-23.6 -30.4h23.6M895.2 1785v33m-11.8 0h23.6m-23.6 -33h23.6M903.1 1768.4v34.3m-11.8 0h23.6m-23.6 -34.3h23.6M910.9 1749v34.6m-11.8 0h23.6m-23.6 -34.6h23.6M918.8 1730v33.9m-11.8 0h23.6m-23.6 -33.9h23.6M926.6 1706.9v33.4m-11.8 0h23.6m-23.6 -33.4h23.6M934.4 1680.7v35.6m-11.8 0h23.6m-23.6 -35.6h23.6M942.3 1656.7v35.1m-11.8 0h23.6m-23.6 -35.1h23.6M950.1 1630.8v34.1m-11.8 0h23.6m-23.6 -34.1h23.6M958 1603.4v36.6m-11.8 0h23.6m-23.6 -36.6h23.6M965.8 1574.7v36m-11.8 0h23.6m-23.6 -36h23.6M973.7 1545.7v35.5m-11.8 0h23.6m-23.6 -35.5h23.6M981.5 1514.9v36.5m-11.8 0h23.6m-23.6 -36.5h23.6M989.4 1489.1v38.3m-11.8 0h23.6m-23.6 -38.3h23.6M997.2 1465.1v38.8m-11.8 0h23.6m-23.6 -38.8h23.6M1005.1 1442.1v38m-11.8 0h23.6m-23.6 -38h23.6M1012.9 1429.7v34.9m-11.8 0h23.6m-23.6 -34.9h23.6M1020.8 1407.5v37.2m-11.8 0h23.6m-23.6 -37.2h23.6M1028.6 1385.2v37.8m-11.8 0h23.6m-23.6 -37.8h23.6M1036.5 1364.7v29.6m-11.8 0h23.6m-23.6 -29.6h23.6M1044.3 1347.7v32.4m-11.8 0h23.6m-23.6 -32.4h23.6M1052.2 1328.1v36m-11.8 0h23.6m-23.6 -36h23.6M1060 1315.3v37.9m-11.8 0h23.6m-23.6 -37.9h23.6M1067.8 1302.1v39.7m-11.8 0h23.6m-23.6 -39.7h23.6M1075.7 1291.5v37.7m-11.8 0h23.6m-23.6 -37.7h23.6M1083.5 1275.5v48.7m-11.8 0h23.6m-23.6 -48.7h23.6M1091.4 1276.4v43.5m-11.8 0h23.6m-23.6 -43.5h23.6M1099.2 1274.8v45.1m-11.8 0h23.6m-23.6 -45.1h23.6M1107.1 1273.8v45.8m-11.8 0h23.6m-23.6 -45.8h23.6M1114.9 1268.9v50.6m-11.8 0h23.6m-23.6 -50.6h23.6M1122.8 1267.2v53.9m-11.8 0h23.6m-23.6 -53.9h23.6M1130.6 1273.3v51.7m-11.8 0h23.6m-23.6 -51.7h23.6M1138.5 1279.2v45.4m-11.8 0h23.6m-23.6 -45.4h23.6M1146.3 1290.2v38.8m-11.8 0h23.6m-23.6 -38.8h23.6M1154.2 1300v31m-11.8 0h23.6m-23.6 -31h23.6M1162 1310.1v26.2m-11.8 0h23.6m-23.6 -26.2h23.6M1169.9 1318.6v22.1m-11.8 0h23.6m-23.6 -22.1h23.6M1177.7 1329.2v25.7m-11.8 0h23.6m-23.6 -25.7h23.6M1185.6 1337.8v30.9m-11.8 0h23.6m-23.6 -30.9h23.6M1193.4 1349.4v24.7m-11.8 0h23.6m-23.6 -24.7h23.6M1201.2 1367.7v23.4m-11.8 0h23.6m-23.6 -23.4h23.6M1209.1 1382.1v19.5m-11.8 0h23.6m-23.6 -19.5h23.6M1216.9 1391.7v20.7m-11.8 0h23.6m-23.6 -20.7h23.6M1224.8 1408.8v13m-11.8 0h23.6m-23.6 -13h23.6M1240.5 1432.8v20.2m-11.8 0h23.6m-23.6 -20.2h23.6M1248.3 1447.3v19.8m-11.8 0h23.6m-23.6 -19.8h23.6M1256.2 1462.3v17.7m-11.8 0h23.6m-23.6 -17.7h23.6M1264 1475.9v17.4m-11.8 0h23.6m-23.6 -17.4h23.6M1271.9 1491.7v16.8m-11.8 0h23.6m-23.6 -16.8h23.6M1279.7 1506.9v15.3m-11.8 0h23.6m-23.6 -15.3h23.6M1287.6 1520.7v13.3m-11.8 0h23.6m-23.6 -13.3h23.6M1295.4 1533.4v13.7m-11.8 0h23.6m-23.6 -13.7h23.6M1303.3 1547.3v12.4m-11.8 0h23.6m-23.6 -12.4h23.6M1311.1 1559.4v13.2m-11.8 0h23.6m-23.6 -13.2h23.6M1319 1573.3v12.1m-11.8 0h23.6m-23.6 -12.1h23.6M1326.8 1586.4v12.3m-11.8 0h23.6m-23.6 -12.3h23.6M1334.7 1597v11.3m-11.8 0h23.6m-23.6 -11.3h23.6M1342.5 1606.8v11.5m-11.8 0h23.6m-23.6 -11.5h23.6M1350.3 1616.8v11m-11.8 0h23.6m-23.6 -11h23.6M1358.2 1625.8v12m-11.8 0h23.6m-23.6 -12h23.6M1366 1634.4v11.9m-11.8 0h23.6m-23.6 -11.9h23.6M1373.9 1643.7v11.8m-11.8 0h23.6m-23.6 -11.8h23.6M1381.7 1653.6v10m-11.8 0h23.6m-23.6 -10h23.6M1389.6 1661.8v10.8m-11.8 0h23.6m-23.6 -10.8h23.6M1397.4 1670.7v11m-11.8 0h23.6m-23.6 -11h23.6M1405.3 1680.4v9.6m-11.8 0h23.6m-23.6 -9.6h23.6M1413.1 1688.5v10.2m-11.8 0h23.6m-23.6 -10.2h23.6M1421 1697v10.8m-11.8 0h23.6m-23.6 -10.8h23.6M1428.8 1705.1v10.6m-11.8 0h23.6m-23.6 -10.6h23.6M1436.7 1712.7v10.3m-11.8 0h23.6m-23.6 -10.3h23.6M1444.5 1719.1v9.4m-11.8 0h23.6m-23.6 -9.4h23.6M1452.4 1724.4v10m-11.8 0h23.6m-23.6 -10h23.6M1460.2 1730v10.9m-11.8 0h23.6m-23.6 -10.9h23.6M1468.1 1735.7v10.6m-11.8 0h23.6m-23.6 -10.6h23.6M1475.9 1741.2v9.5m-11.8 0h23.6m-23.6 -9.5h23.6M1483.8 1746.7v9.8m-11.8 0h23.6m-23.6 -9.8h23.6M1491.6 1751.8v10.2m-11.8 0h23.6m-23.6 -10.2h23.6M1499.4 1756.9v10.5m-11.8 0h23.6m-23.6 -10.5h23.6M1507.3 1761.5v10.2m-11.8 0h23.6m-23.6 -10.2h23.6M1515.1 1767.5v9.4m-11.8 0h23.6m-23.6 -9.4h23.6M1523 1772.7v9.6m-11.8 0h23.6m-23.6 -9.6h23.6M1530.8 1777.9v9.8m-11.8 0h23.6m-23.6 -9.8h23.6M1538.7 1783.4v9.8m-11.8 0h23.6m-23.6 -9.8h23.6M1546.5 1788.5v10m-11.8 0h23.6m-23.6 -10h23.6M1554.4 1793.4v9.5m-11.8 0h23.6m-23.6 -9.5h23.6M1562.2 1797.1v9.9m-11.8 0h23.6m-23.6 -9.9h23.6M1570.1 1800.9v10.7m-11.8 0h23.6m-23.6 -10.7h23.6M1577.9 1805.6v10m-11.8 0h23.6m-23.6 -10h23.6M1585.8 1809.5v10.7m-11.8 0h23.6m-23.6 -10.7h23.6M1593.6 1813.7v10m-11.8 0h23.6m-23.6 -10h23.6M1601.5 1818.2v9.5m-11.8 0h23.6m-23.6 -9.5h23.6M1609.3 1822.3v9m-11.8 0h23.6m-23.6 -9h23.6M1617.2 1826v9.5m-11.8 0h23.6m-23.6 -9.5h23.6" stroke="#000000" stroke-width="8" fill="none"/><path d="M495 1978.2h0M502.8 1981.7h0M510.7 1984.4h0M518.5 1985.1h0M526.4 1985.8h0M534.2 1986.3h0M542.1 1986.4h0M549.9 1986.8h0M557.8 1987.2h0M565.6 1987.5h0M573.5 1987.9h0M581.3 1988.5h0M589.2 1988.4h0M597 1988.1h0M604.9 1987.7h0M612.7 1987.4h0M620.6 1986.4h0M628.4 1986.1h0M636.2 1985.3h0M644.1 1984.8h0M651.9 1983h0M659.8 1981.3h0M667.6 1979.9h0M675.5 1978.5h0M683.3 1976.9h0M691.2 1975.3h0M699 1973h0M706.9 1970.4h0M714.7 1968.3h0M722.6 1966.8h0M730.4 1964.4h0M738.3 1963.1h0M746.1 1960.9h0M754 1958.8h0M761.8 1956.2h0M769.7 1952.6h0M777.5 1949.2h0M785.3 1945.8h0M793.2 1940.3h0M801 1934.3h0M808.9 1926.6h0M816.7 1917.9h0M824.6 1907.9h0M832.4 1897.2h0M840.3 1889.3h0M848.1 1878.5h0M856 1867.5h0M863.8 1856.9h0M871.7 1844.9h0M879.5 1833h0M887.4 1818.1h0M895.2 1801.5h0M903.1 1785.5h0M910.9 1766.3h0M918.8 1747h0M926.6 1723.6h0M934.4 1698.5h0M942.3 1674.2h0M950.1 1647.9h0M958 1621.7h0M965.8 1592.7h0M973.7 1563.4h0M981.5 1533.1h0M989.4 1508.3h0M997.2 1484.5h0M1005.1 1461.1h0M1012.9 1447.1h0M1020.8 1426.1h0M1028.6 1404.1h0M1036.5 1379.5h0M1044.3 1363.8h0M1052.2 1346.1h0M1060 1334.3h0M1067.8 1322h0M1075.7 1310.3h0M1083.5 1299.8h0M1091.4 1298.1h0M1099.2 1297.3h0M1107.1 1296.7h0M1114.9 1294.2h0M1122.8 1294.2h0M1130.6 1299.2h0M1138.5 1301.9h0M1146.3 1309.6h0M1154.2 1315.5h0M1162 1323.2h0M1169.9 1329.7h0M1177.7 1342h0M1185.6 1353.3h0M1193.4 1361.7h0M1201.2 1379.4h0M1209.1 1391.8h0M1216.9 1402.1h0M1224.8 1415.3h0M1232.6 1424.2h0M1240.5 1442.9h0M1248.3 1457.2h0M1256.2 1471.1h0M1264 1484.7h0M1271.9 1500.1h0M1279.7 1514.5h0M1287.6 1527.4h0M1295.4 1540.3h0M1303.3 1553.4h0M1311.1 1566h0M1319 1579.3h0M1326.8 1592.6h0M1334.7 1602.6h0M1342.5 1612.5h0M1350.3 1622.3h0M1358.2 1631.8h0M1366 1640.4h0M1373.9 1649.6h0M1381.7 1658.6h0M1389.6 1667.2h0M1397.4 1676.2h0M1405.3 1685.2h0M1413.1 1693.6h0M1421 1702.4h0M1428.8 1710.4h0M1436.7 1717.9h0M1444.5 1723.8h0M1452.4 1729.4h0M1460.2 1735.5h0M1468.1 1741h0M1475.9 1746h0M1483.8 1751.6h0M1491.6 1756.9h0M1499.4 1762.1h0M1507.3 1766.6h0M1515.1 1772.2h0M1523 1777.5h0M1530.8 1782.8h0M1538.7 1788.3h0M1546.5 1793.5h0M1554.4 1798.1h0M1562.2 1802h0M1570.1 1806.3h0M1577.9 1810.6h0M1585.8 1814.8h0M1593.6 1818.7h0M1601.5 1822.9h0M1609.3 1826.9h0M1617.2 1830.7h0M1625 1834.3h0" stroke="#000000" stroke-width="14.4" stroke-linecap="round" fill="none"/>
</g>
<g fill="#000">
<text transform="translate(435.7 2024.8) scale(0.87 1)" text-anchor="end" font-size="67">0</text>
<text transform="translate(435.7 1774.1) scale(0.87 1)" text-anchor="end" font-size="67">50,000</text>
<text transform="translate(435.7 1523.4) scale(0.87 1)" text-anchor="end" font-size="67">100,000</text>
<text transform="translate(435.7 1272) scale(0.87 1)" text-anchor="end" font-size="67">150,000</text>
<text transform="translate(491 2107.4) scale(0.87 1)" text-anchor="middle" font-size="67">0</text>
<text transform="translate(676.3 2107.4) scale(0.87 1)" text-anchor="middle" font-size="67">240</text>
<text transform="translate(869 2107.4) scale(0.87 1)" text-anchor="middle" font-size="67">480</text>
<text transform="translate(1060.2 2107.4) scale(0.87 1)" text-anchor="middle" font-size="67">720</text>
<text transform="translate(1248.5 2107.4) scale(0.87 1)" text-anchor="middle" font-size="67">960</text>
<text transform="translate(1435 2107.4) scale(0.87 1)" text-anchor="middle" font-size="67">1,200</text>
<text transform="translate(1627.8 2107.4) scale(0.87 1)" text-anchor="middle" font-size="67">1,440</text>
<text transform="translate(815.5 2243) scale(1.05 1)" font-size="71" stroke="#000" stroke-width="1.9">Time (minutes)</text>
<text transform="translate(137.8 1980) rotate(-90) scale(1.013 1)" font-size="73" stroke="#000" stroke-width="1.9">Luminescence (RLU)</text>
<text transform="translate(1.4 1205) scale(1.04 1)" font-size="74" stroke="#000" stroke-width="1.9">B.</text>
<text x="1725.8" y="1223" font-size="74" textLength="588" lengthAdjust="spacingAndGlyphs">[doxorubicin] (nM)</text>
<circle cx="1745.5" cy="1295" r="18.7" fill="#000000"/>
<text transform="translate(1791.5 1315.4) scale(1.03 1)" font-size="70">10,000</text>
<circle cx="1745.5" cy="1396.6" r="18.7" fill="#ec2027"/>
<text transform="translate(1791.5 1417) scale(1.03 1)" font-size="70">5,000</text>
<circle cx="1745.5" cy="1498.2" r="18.7" fill="#f48120"/>
<text transform="translate(1791.5 1518.6) scale(1.03 1)" font-size="70">2,500</text>
<circle cx="1745.5" cy="1599.8" r="18.7" fill="#31b34a"/>
<text transform="translate(1791.5 1620.2) scale(1.03 1)" font-size="70">1,250</text>
<circle cx="1745.5" cy="1701.4" r="18.7" fill="#3953a4"/>
<text transform="translate(1791.5 1721.8) scale(1.03 1)" font-size="70">625</text>
<circle cx="1745.5" cy="1803" r="18.7" fill="#2b2a73"/>
<text transform="translate(1791.5 1823.4) scale(1.03 1)" font-size="70">312</text>
<circle cx="1745.5" cy="1904.6" r="18.7" fill="#a23e97"/>
<text transform="translate(1791.5 1925) scale(1.03 1)" font-size="70">156</text>
<circle cx="1745.5" cy="2006.2" r="18.7" fill="#a0a1a4"/>
<text transform="translate(1792 2017.8) scale(1.02 1)" font-size="72">untreated</text>
</g>
<g fill="#b1b3b2" shape-rendering="crispEdges">
<rect x="491.2" y="2421.7" width="7.5" height="789.6"/>
<rect x="463" y="3174.6" width="1165.7" height="7.5"/>
<rect x="463" y="2923.6" width="32" height="7.5"/>
<rect x="463" y="2672.7" width="32" height="7.5"/>
<rect x="463" y="2421.7" width="32" height="7.5"/>
<rect x="538.3" y="3178.3" width="7.5" height="17.6"/>
<rect x="585.4" y="3178.3" width="7.5" height="17.6"/>
<rect x="632.5" y="3178.3" width="7.5" height="17.6"/>
<rect x="679.6" y="3178.3" width="7.5" height="32.9"/>
<rect x="726.7" y="3178.3" width="7.5" height="17.6"/>
<rect x="773.8" y="3178.3" width="7.5" height="17.6"/>
<rect x="820.8" y="3178.3" width="7.5" height="17.6"/>
<rect x="867.9" y="3178.3" width="7.5" height="32.9"/>
<rect x="915" y="3178.3" width="7.5" height="17.6"/>
<rect x="962.1" y="3178.3" width="7.5" height="17.6"/>
<rect x="1009.2" y="3178.3" width="7.5" height="17.6"/>
<rect x="1056.2" y="3178.3" width="7.5" height="32.9"/>
<rect x="1103.3" y="3178.3" width="7.5" height="17.6"/>
<rect x="1150.4" y="3178.3" width="7.5" height="17.6"/>
<rect x="1197.5" y="3178.3" width="7.5" height="17.6"/>
<rect x="1244.6" y="3178.3" width="7.5" height="32.9"/>
<rect x="1291.7" y="3178.3" width="7.5" height="17.6"/>
<rect x="1338.8" y="3178.3" width="7.5" height="17.6"/>
<rect x="1385.8" y="3178.3" width="7.5" height="17.6"/>
<rect x="1432.9" y="3178.3" width="7.5" height="32.9"/>
<rect x="1480" y="3178.3" width="7.5" height="17.6"/>
<rect x="1527.1" y="3178.3" width="7.5" height="17.6"/>
<rect x="1574.2" y="3178.3" width="7.5" height="17.6"/>
<rect x="1621.2" y="3178.3" width="7.5" height="32.9"/>
</g>
<path shape-rendering="crispEdges" d="M495 3135v27m-11.8 0h23.6m-23.6 -27h23.6M502.8 3139.3v23.9m-11.8 0h23.6m-23.6 -23.9h23.6M510.7 3145.6v19.5m-11.8 0h23.6m-23.6 -19.5h23.6M518.5 3153.7v13m-11.8 0h23.6m-23.6 -13h23.6M1232.6 3149.6v8.5m-11.8 0h23.6m-23.6 -8.5h23.6M1326.8 3137.9v8.9m-11.8 0h23.6m-23.6 -8.9h23.6M1334.7 3137v9m-11.8 0h23.6m-23.6 -9h23.6M1342.5 3135.1v10.5m-11.8 0h23.6m-23.6 -10.5h23.6M1350.3 3134.6v10.4m-11.8 0h23.6m-23.6 -10.4h23.6M1358.2 3133.5v10.8m-11.8 0h23.6m-23.6 -10.8h23.6M1366 3132.2v11.8m-11.8 0h23.6m-23.6 -11.8h23.6M1373.9 3131.8v11.2m-11.8 0h23.6m-23.6 -11.2h23.6M1381.7 3130.6v12.3m-11.8 0h23.6m-23.6 -12.3h23.6M1389.6 3129.5v12.5m-11.8 0h23.6m-23.6 -12.5h23.6M1397.4 3128.7v12.9m-11.8 0h23.6m-23.6 -12.9h23.6M1405.3 3127.9v12.9m-11.8 0h23.6m-23.6 -12.9h23.6M1413.1 3126.9v13.5m-11.8 0h23.6m-23.6 -13.5h23.6M1421 3126.3v13.4m-11.8 0h23.6m-23.6 -13.4h23.6M1428.8 3125.7v13.5m-11.8 0h23.6m-23.6 -13.5h23.6M1436.7 3124.6v14m-11.8 0h23.6m-23.6 -14h23.6M1444.5 3125.2v12.3m-11.8 0h23.6m-23.6 -12.3h23.6M1452.4 3122.1v14.1m-11.8 0h23.6m-23.6 -14.1h23.6M1460.2 3121.1v14.3m-11.8 0h23.6m-23.6 -14.3h23.6M1468.1 3120.7v14.4m-11.8 0h23.6m-23.6 -14.4h23.6M1475.9 3119.9v15.3m-11.8 0h23.6m-23.6 -15.3h23.6M1483.8 3119.6v14.3m-11.8 0h23.6m-23.6 -14.3h23.6M1491.6 3119.9v13m-11.8 0h23.6m-23.6 -13h23.6M1499.4 3119.2v13.6m-11.8 0h23.6m-23.6 -13.6h23.6M1507.3 3119v13.4m-11.8 0h23.6m-23.6 -13.4h23.6M1515.1 3117.7v13.7m-11.8 0h23.6m-23.6 -13.7h23.6M1523 3117.5v12.6m-11.8 0h23.6m-23.6 -12.6h23.6M1530.8 3116.5v13.5m-11.8 0h23.6m-23.6 -13.5h23.6M1538.7 3116.2v12.4m-11.8 0h23.6m-23.6 -12.4h23.6M1546.5 3115.1v12.8m-11.8 0h23.6m-23.6 -12.8h23.6M1554.4 3114.7v12.8m-11.8 0h23.6m-23.6 -12.8h23.6M1562.2 3113.1v12.8m-11.8 0h23.6m-23.6 -12.8h23.6M1570.1 3112.5v12.5m-11.8 0h23.6m-23.6 -12.5h23.6M1577.9 3111.1v14m-11.8 0h23.6m-23.6 -14h23.6M1585.8 3111v13.8m-11.8 0h23.6m-23.6 -13.8h23.6M1593.6 3109.2v15.5m-11.8 0h23.6m-23.6 -15.5h23.6M1601.5 3108.1v14.3m-11.8 0h23.6m-23.6 -14.3h23.6M1609.3 3107.3v13.6m-11.8 0h23.6m-23.6 -13.6h23.6M1617.2 3106v15.9m-11.8 0h23.6m-23.6 -15.9h23.6M1625 3104.6v16.4m-11.8 0h23.6m-23.6 -16.4h23.6" stroke="#a0a1a4" stroke-width="8" fill="none"/><path d="M495 3148.5h0M502.8 3151.2h0M510.7 3155.3h0M518.5 3160.2h0M526.4 3163.6h0M534.2 3165.4h0M542.1 3165.4h0M549.9 3165.4h0M557.8 3165.7h0M565.6 3165.8h0M573.5 3165.6h0M581.3 3165.4h0M589.2 3165.9h0M597 3165.2h0M604.9 3165.5h0M612.7 3166.1h0M620.6 3166h0M628.4 3165.8h0M636.2 3165.8h0M644.1 3165.6h0M651.9 3166h0M659.8 3165.8h0M667.6 3166h0M675.5 3165.8h0M683.3 3165.7h0M691.2 3165.8h0M699 3165.7h0M706.9 3166.1h0M714.7 3166.3h0M722.6 3165.8h0M730.4 3166.1h0M738.3 3165.9h0M746.1 3166h0M754 3166.3h0M761.8 3166.2h0M769.7 3166.9h0M777.5 3166.9h0M785.3 3166.8h0M793.2 3166.8h0M801 3166.5h0M808.9 3166.1h0M816.7 3166.9h0M824.6 3166.3h0M832.4 3165.7h0M840.3 3166.4h0M848.1 3165.7h0M856 3166.2h0M863.8 3166.1h0M871.7 3166.8h0M879.5 3165.8h0M887.4 3165.9h0M895.2 3166.1h0M903.1 3166.1h0M910.9 3166.1h0M918.8 3166.1h0M926.6 3165.6h0M934.4 3165.6h0M942.3 3165.6h0M950.1 3165.2h0M958 3165.2h0M965.8 3165.2h0M973.7 3165.2h0M981.5 3165.7h0M989.4 3165.3h0M997.2 3165h0M1005.1 3164.8h0M1012.9 3165.3h0M1020.8 3165.6h0M1028.6 3165.1h0M1036.5 3164.9h0M1044.3 3164.5h0M1052.2 3164.4h0M1060 3163.8h0M1067.8 3164h0M1075.7 3163.8h0M1083.5 3163.2h0M1091.4 3162.6h0M1099.2 3162.8h0M1107.1 3162.2h0M1114.9 3161.5h0M1122.8 3160.9h0M1130.6 3160.5h0M1138.5 3160.5h0M1146.3 3160.2h0M1154.2 3160.2h0M1162 3159.7h0M1169.9 3158.4h0M1177.7 3157.7h0M1185.6 3157.5h0M1193.4 3157.3h0M1201.2 3156.2h0M1209.1 3155.8h0M1216.9 3155.3h0M1224.8 3154.5h0M1232.6 3153.9h0M1240.5 3153.3h0M1248.3 3152.3h0M1256.2 3151.5h0M1264 3150.2h0M1271.9 3149h0M1279.7 3148.8h0M1287.6 3147.7h0M1295.4 3146.7h0M1303.3 3145.6h0M1311.1 3144.6h0M1319 3143.2h0M1326.8 3142.4h0M1334.7 3141.5h0M1342.5 3140.3h0M1350.3 3139.8h0M1358.2 3138.9h0M1366 3138.1h0M1373.9 3137.4h0M1381.7 3136.8h0M1389.6 3135.8h0M1397.4 3135.2h0M1405.3 3134.4h0M1413.1 3133.7h0M1421 3133h0M1428.8 3132.4h0M1436.7 3131.6h0M1444.5 3131.3h0M1452.4 3129.2h0M1460.2 3128.3h0M1468.1 3127.9h0M1475.9 3127.5h0M1483.8 3126.7h0M1491.6 3126.4h0M1499.4 3126h0M1507.3 3125.7h0M1515.1 3124.6h0M1523 3123.8h0M1530.8 3123.3h0M1538.7 3122.4h0M1546.5 3121.5h0M1554.4 3121.1h0M1562.2 3119.5h0M1570.1 3118.7h0M1577.9 3118.1h0M1585.8 3117.9h0M1593.6 3117h0M1601.5 3115.3h0M1609.3 3114.1h0M1617.2 3113.9h0M1625 3112.8h0" stroke="#a0a1a4" stroke-width="14.4" stroke-linecap="round" fill="none"/>
<path shape-rendering="crispEdges" d="M1216.9 3136.3v8.6m-11.8 0h23.6m-23.6 -8.6h23.6M1232.6 3133.4v9.2m-11.8 0h23.6m-23.6 -9.2h23.6M1240.5 3131.5v9.9m-11.8 0h23.6m-23.6 -9.9h23.6M1248.3 3129.7v10.5m-11.8 0h23.6m-23.6 -10.5h23.6M1256.2 3128.7v10m-11.8 0h23.6m-23.6 -10h23.6M1264 3126v11.5m-11.8 0h23.6m-23.6 -11.5h23.6M1271.9 3123.7v12m-11.8 0h23.6m-23.6 -12h23.6M1279.7 3121.2v12.5m-11.8 0h23.6m-23.6 -12.5h23.6M1287.6 3118.3v13.8m-11.8 0h23.6m-23.6 -13.8h23.6M1295.4 3114.7v14.6m-11.8 0h23.6m-23.6 -14.6h23.6M1303.3 3113.6v13.7m-11.8 0h23.6m-23.6 -13.7h23.6M1311.1 3110.3v14.7m-11.8 0h23.6m-23.6 -14.7h23.6M1319 3107.2v15.8m-11.8 0h23.6m-23.6 -15.8h23.6M1326.8 3104.9v13.9m-11.8 0h23.6m-23.6 -13.9h23.6M1334.7 3101.8v13.2m-11.8 0h23.6m-23.6 -13.2h23.6M1342.5 3099.7v10.8m-11.8 0h23.6m-23.6 -10.8h23.6M1350.3 3096.4v10.1m-11.8 0h23.6m-23.6 -10.1h23.6M1358.2 3093.6v9.2m-11.8 0h23.6m-23.6 -9.2h23.6M1389.6 3079.9v8.6m-11.8 0h23.6m-23.6 -8.6h23.6M1397.4 3075.7v11m-11.8 0h23.6m-23.6 -11h23.6M1405.3 3072v12.9m-11.8 0h23.6m-23.6 -12.9h23.6M1413.1 3067.8v14.3m-11.8 0h23.6m-23.6 -14.3h23.6M1421 3063.1v16.2m-11.8 0h23.6m-23.6 -16.2h23.6M1428.8 3055.8v18.5m-11.8 0h23.6m-23.6 -18.5h23.6M1436.7 3051.4v19.3m-11.8 0h23.6m-23.6 -19.3h23.6M1444.5 3048.8v17.9m-11.8 0h23.6m-23.6 -17.9h23.6M1452.4 3043.7v20.3m-11.8 0h23.6m-23.6 -20.3h23.6M1460.2 3040.3v20.1m-11.8 0h23.6m-23.6 -20.1h23.6M1468.1 3036.2v21m-11.8 0h23.6m-23.6 -21h23.6M1475.9 3031.5v19.6m-11.8 0h23.6m-23.6 -19.6h23.6M1483.8 3025.8v20.4m-11.8 0h23.6m-23.6 -20.4h23.6M1491.6 3022.1v18.6m-11.8 0h23.6m-23.6 -18.6h23.6M1499.4 3018.7v17.2m-11.8 0h23.6m-23.6 -17.2h23.6M1507.3 3014.4v17.2m-11.8 0h23.6m-23.6 -17.2h23.6M1515.1 3009.6v18.6m-11.8 0h23.6m-23.6 -18.6h23.6M1523 3004.2v19.8m-11.8 0h23.6m-23.6 -19.8h23.6M1530.8 2999.4v19m-11.8 0h23.6m-23.6 -19h23.6M1538.7 2992.8v21.3m-11.8 0h23.6m-23.6 -21.3h23.6M1546.5 2986.2v19.6m-11.8 0h23.6m-23.6 -19.6h23.6M1554.4 2980.5v20.3m-11.8 0h23.6m-23.6 -20.3h23.6M1562.2 2977.8v15.9m-11.8 0h23.6m-23.6 -15.9h23.6M1570.1 2974.3v12.9m-11.8 0h23.6m-23.6 -12.9h23.6M1577.9 2972.2v9.7m-11.8 0h23.6m-23.6 -9.7h23.6" stroke="#a23e97" stroke-width="8" fill="none"/><path d="M495 3160.5h0M502.8 3162.8h0M510.7 3164.3h0M518.5 3165.4h0M526.4 3166.3h0M534.2 3167.1h0M542.1 3166.6h0M549.9 3166.4h0M557.8 3166.4h0M565.6 3166.6h0M573.5 3166.6h0M581.3 3166.5h0M589.2 3166.4h0M597 3166.4h0M604.9 3166.8h0M612.7 3166.2h0M620.6 3166.4h0M628.4 3165.9h0M636.2 3166.1h0M644.1 3166.6h0M651.9 3166.4h0M659.8 3166.7h0M667.6 3166.7h0M675.5 3166.5h0M683.3 3166.6h0M691.2 3166.5h0M699 3166.8h0M706.9 3166.1h0M714.7 3166.9h0M722.6 3166.5h0M730.4 3166.5h0M738.3 3166.6h0M746.1 3166.6h0M754 3166.7h0M761.8 3166.8h0M769.7 3166.8h0M777.5 3167.2h0M785.3 3166.9h0M793.2 3166.6h0M801 3165.9h0M808.9 3166.3h0M816.7 3166.5h0M824.6 3166.4h0M832.4 3166.2h0M840.3 3165.8h0M848.1 3165.8h0M856 3165.8h0M863.8 3165.7h0M871.7 3165.9h0M879.5 3165.7h0M887.4 3165.4h0M895.2 3165.6h0M903.1 3165h0M910.9 3165.3h0M918.8 3164.9h0M926.6 3165.3h0M934.4 3164.9h0M942.3 3164.4h0M950.1 3164.7h0M958 3164.2h0M965.8 3164.2h0M973.7 3164.1h0M981.5 3163.9h0M989.4 3163.4h0M997.2 3163.2h0M1005.1 3162.9h0M1012.9 3163.1h0M1020.8 3163.3h0M1028.6 3163.1h0M1036.5 3162.6h0M1044.3 3162.7h0M1052.2 3161.7h0M1060 3161.6h0M1067.8 3160.1h0M1075.7 3160.1h0M1083.5 3159.3h0M1091.4 3157.9h0M1099.2 3157.2h0M1107.1 3156.7h0M1114.9 3155.5h0M1122.8 3154.3h0M1130.6 3153.3h0M1138.5 3153.2h0M1146.3 3151.7h0M1154.2 3150.3h0M1162 3148.8h0M1169.9 3147.8h0M1177.7 3146.6h0M1185.6 3145.6h0M1193.4 3144.4h0M1201.2 3143.6h0M1209.1 3142.4h0M1216.9 3140.7h0M1224.8 3139.2h0M1232.6 3138h0M1240.5 3136.5h0M1248.3 3135h0M1256.2 3133.7h0M1264 3131.8h0M1271.9 3129.7h0M1279.7 3127.4h0M1287.6 3125.2h0M1295.4 3122.1h0M1303.3 3120.5h0M1311.1 3117.6h0M1319 3115.1h0M1326.8 3111.8h0M1334.7 3108.4h0M1342.5 3105.1h0M1350.3 3101.4h0M1358.2 3098.2h0M1366 3094.8h0M1373.9 3091.1h0M1381.7 3087.3h0M1389.6 3084.2h0M1397.4 3081.2h0M1405.3 3078.4h0M1413.1 3074.9h0M1421 3071.2h0M1428.8 3065.1h0M1436.7 3061h0M1444.5 3057.8h0M1452.4 3053.9h0M1460.2 3050.4h0M1468.1 3046.7h0M1475.9 3041.4h0M1483.8 3036h0M1491.6 3031.4h0M1499.4 3027.3h0M1507.3 3023h0M1515.1 3018.9h0M1523 3014.2h0M1530.8 3008.9h0M1538.7 3003.4h0M1546.5 2996h0M1554.4 2990.7h0M1562.2 2985.7h0M1570.1 2980.8h0M1577.9 2977h0M1585.8 2971.6h0M1593.6 2969.8h0M1601.5 2968.8h0M1609.3 2966.7h0M1617.2 2962.5h0M1625 2957.2h0" stroke="#a23e97" stroke-width="14.4" stroke-linecap="round" fill="none"/>
<path shape-rendering="crispEdges" d="M1507.3 2968.7v9.8m-11.8 0h23.6m-23.6 -9.8h23.6M1515.1 2962.7v11.2m-11.8 0h23.6m-23.6 -11.2h23.6M1523 2956.7v12.8m-11.8 0h23.6m-23.6 -12.8h23.6M1530.8 2952.8v12.4m-11.8 0h23.6m-23.6 -12.4h23.6M1538.7 2950.3v9.9m-11.8 0h23.6m-23.6 -9.9h23.6M1609.3 2919v31m-11.8 0h23.6m-23.6 -31h23.6" stroke="#2b2a73" stroke-width="8" fill="none"/><path d="M495 3159.1h0M502.8 3161.2h0M510.7 3162.6h0M518.5 3162.3h0M526.4 3163.3h0M534.2 3163.7h0M542.1 3164h0M549.9 3163.3h0M557.8 3163.3h0M565.6 3163.2h0M573.5 3163.4h0M581.3 3163h0M589.2 3163.5h0M597 3163.6h0M604.9 3163h0M612.7 3162.8h0M620.6 3163.2h0M628.4 3163h0M636.2 3163.3h0M644.1 3163.5h0M651.9 3163h0M659.8 3163.2h0M667.6 3163.1h0M675.5 3163.6h0M683.3 3162.9h0M691.2 3162.8h0M699 3163.4h0M706.9 3162.9h0M714.7 3162.5h0M722.6 3163h0M730.4 3162.6h0M738.3 3162.3h0M746.1 3163.1h0M754 3162.9h0M761.8 3162.5h0M769.7 3162.4h0M777.5 3162.8h0M785.3 3162.3h0M793.2 3162.2h0M801 3162.8h0M808.9 3162.5h0M816.7 3162.3h0M824.6 3162.4h0M832.4 3162.3h0M840.3 3161.5h0M848.1 3161.8h0M856 3161.4h0M863.8 3160.9h0M871.7 3160.8h0M879.5 3160.5h0M887.4 3160.2h0M895.2 3160.4h0M903.1 3160h0M910.9 3160.1h0M918.8 3159.8h0M926.6 3159.4h0M934.4 3159.2h0M942.3 3159.4h0M950.1 3159h0M958 3158.6h0M965.8 3158.8h0M973.7 3158.9h0M981.5 3158.4h0M989.4 3158.8h0M997.2 3158.1h0M1005.1 3157.5h0M1012.9 3157.3h0M1020.8 3156.9h0M1028.6 3156.4h0M1036.5 3155.6h0M1044.3 3155.1h0M1052.2 3154.2h0M1060 3153.4h0M1067.8 3152.8h0M1075.7 3151.1h0M1083.5 3150.1h0M1091.4 3148.9h0M1099.2 3147.4h0M1107.1 3146.2h0M1114.9 3145h0M1122.8 3143.6h0M1130.6 3142.2h0M1138.5 3140.5h0M1146.3 3139h0M1154.2 3137.2h0M1162 3136.1h0M1169.9 3135h0M1177.7 3132.7h0M1185.6 3131.3h0M1193.4 3129.4h0M1201.2 3126.7h0M1209.1 3124.1h0M1216.9 3121.6h0M1224.8 3118.5h0M1232.6 3116.3h0M1240.5 3113.5h0M1248.3 3110.6h0M1256.2 3106.6h0M1264 3102.6h0M1271.9 3098.8h0M1279.7 3095.6h0M1287.6 3091.9h0M1295.4 3088.6h0M1303.3 3085.5h0M1311.1 3082.7h0M1319 3079h0M1326.8 3076h0M1334.7 3071.5h0M1342.5 3067.2h0M1350.3 3062.4h0M1358.2 3058.5h0M1366 3054.3h0M1373.9 3050.3h0M1381.7 3046h0M1389.6 3041.2h0M1397.4 3036.8h0M1405.3 3032.9h0M1413.1 3028.4h0M1421 3023.9h0M1428.8 3018.9h0M1436.7 3013.8h0M1444.5 3009.3h0M1452.4 3004.9h0M1460.2 3001h0M1468.1 2996.8h0M1475.9 2993.4h0M1483.8 2989.9h0M1491.6 2984.6h0M1499.4 2979.3h0M1507.3 2973.6h0M1515.1 2968.3h0M1523 2963h0M1530.8 2959h0M1538.7 2955.2h0M1546.5 2952.2h0M1554.4 2948.6h0M1562.2 2946.8h0M1570.1 2945.9h0M1577.9 2944.5h0M1585.8 2943.3h0M1593.6 2942h0M1601.5 2940.5h0M1609.3 2935h0M1617.2 2937.1h0M1625 2912.9h0" stroke="#2b2a73" stroke-width="14.4" stroke-linecap="round" fill="none"/>
<path shape-rendering="crispEdges" d="M495 3135v16m-11.8 0h23.6m-23.6 -16h23.6M518.5 3152.7v9.4m-11.8 0h23.6m-23.6 -9.4h23.6M526.4 3153.1v9.1m-11.8 0h23.6m-23.6 -9.1h23.6M534.2 3153.4v9m-11.8 0h23.6m-23.6 -9h23.6M542.1 3153.5v9.3m-11.8 0h23.6m-23.6 -9.3h23.6M549.9 3152.5v10.3m-11.8 0h23.6m-23.6 -10.3h23.6M557.8 3152.8v10.3m-11.8 0h23.6m-23.6 -10.3h23.6M565.6 3152.6v10.6m-11.8 0h23.6m-23.6 -10.6h23.6M573.5 3152.3v11.9m-11.8 0h23.6m-23.6 -11.9h23.6M581.3 3151.8v12.6m-11.8 0h23.6m-23.6 -12.6h23.6M589.2 3151.5v13.1m-11.8 0h23.6m-23.6 -13.1h23.6M597 3151.7v13.9m-11.8 0h23.6m-23.6 -13.9h23.6M604.9 3151.4v14.2m-11.8 0h23.6m-23.6 -14.2h23.6M612.7 3150.9v15m-11.8 0h23.6m-23.6 -15h23.6M620.6 3150.1v16.3m-11.8 0h23.6m-23.6 -16.3h23.6M628.4 3151.2v14.2m-11.8 0h23.6m-23.6 -14.2h23.6M636.2 3150.4v15.1m-11.8 0h23.6m-23.6 -15.1h23.6M644.1 3149v16.7m-11.8 0h23.6m-23.6 -16.7h23.6M651.9 3151.3v15.1m-11.8 0h23.6m-23.6 -15.1h23.6M659.8 3151.7v15.3m-11.8 0h23.6m-23.6 -15.3h23.6M667.6 3150.7v15.8m-11.8 0h23.6m-23.6 -15.8h23.6M675.5 3150.2v15m-11.8 0h23.6m-23.6 -15h23.6M683.3 3150.1v16.2m-11.8 0h23.6m-23.6 -16.2h23.6M691.2 3151.2v14.8m-11.8 0h23.6m-23.6 -14.8h23.6M699 3150v16.9m-11.8 0h23.6m-23.6 -16.9h23.6M706.9 3149.6v16.2m-11.8 0h23.6m-23.6 -16.2h23.6M714.7 3151.8v13.3m-11.8 0h23.6m-23.6 -13.3h23.6M722.6 3151.3v13m-11.8 0h23.6m-23.6 -13h23.6M730.4 3150.3v14.9m-11.8 0h23.6m-23.6 -14.9h23.6M738.3 3150.3v16.1m-11.8 0h23.6m-23.6 -16.1h23.6M746.1 3151.6v14.5m-11.8 0h23.6m-23.6 -14.5h23.6M754 3151.6v12.8m-11.8 0h23.6m-23.6 -12.8h23.6M761.8 3150.7v14.8m-11.8 0h23.6m-23.6 -14.8h23.6M769.7 3150.4v14.6m-11.8 0h23.6m-23.6 -14.6h23.6M777.5 3152.1v14.2m-11.8 0h23.6m-23.6 -14.2h23.6M785.3 3150.3v14.2m-11.8 0h23.6m-23.6 -14.2h23.6M793.2 3150.3v14.9m-11.8 0h23.6m-23.6 -14.9h23.6M801 3150.5v14.2m-11.8 0h23.6m-23.6 -14.2h23.6M808.9 3150v13.2m-11.8 0h23.6m-23.6 -13.2h23.6M816.7 3148.5v14.9m-11.8 0h23.6m-23.6 -14.9h23.6M824.6 3149.8v12.6m-11.8 0h23.6m-23.6 -12.6h23.6M832.4 3151.4v9.2m-11.8 0h23.6m-23.6 -9.2h23.6M989.4 3138.2v8.5m-11.8 0h23.6m-23.6 -8.5h23.6M997.2 3136.9v8.5m-11.8 0h23.6m-23.6 -8.5h23.6M1005.1 3134.8v8.9m-11.8 0h23.6m-23.6 -8.9h23.6M1012.9 3132.4v9.9m-11.8 0h23.6m-23.6 -9.9h23.6M1020.8 3130.1v10.7m-11.8 0h23.6m-23.6 -10.7h23.6M1028.6 3127.9v11.3m-11.8 0h23.6m-23.6 -11.3h23.6M1036.5 3125v11.2m-11.8 0h23.6m-23.6 -11.2h23.6M1044.3 3121.1v11.3m-11.8 0h23.6m-23.6 -11.3h23.6M1052.2 3118.2v11.4m-11.8 0h23.6m-23.6 -11.4h23.6M1060 3115.7v10.5m-11.8 0h23.6m-23.6 -10.5h23.6M1067.8 3113.5v9.5m-11.8 0h23.6m-23.6 -9.5h23.6M1122.8 3088.8v10.3m-11.8 0h23.6m-23.6 -10.3h23.6M1130.6 3083.1v13.9m-11.8 0h23.6m-23.6 -13.9h23.6M1138.5 3077.3v16.9m-11.8 0h23.6m-23.6 -16.9h23.6M1146.3 3072.7v18.6m-11.8 0h23.6m-23.6 -18.6h23.6M1154.2 3067.1v21.2m-11.8 0h23.6m-23.6 -21.2h23.6M1162 3063.4v20.4m-11.8 0h23.6m-23.6 -20.4h23.6M1169.9 3057.8v21.9m-11.8 0h23.6m-23.6 -21.9h23.6M1177.7 3053v24.9m-11.8 0h23.6m-23.6 -24.9h23.6M1185.6 3048.9v25m-11.8 0h23.6m-23.6 -25h23.6M1193.4 3042v25.6m-11.8 0h23.6m-23.6 -25.6h23.6M1201.2 3036.4v27.8m-11.8 0h23.6m-23.6 -27.8h23.6M1209.1 3032.8v26.5m-11.8 0h23.6m-23.6 -26.5h23.6M1216.9 3026.8v28.4m-11.8 0h23.6m-23.6 -28.4h23.6M1224.8 3021.4v27.1m-11.8 0h23.6m-23.6 -27.1h23.6M1232.6 3012.3v30m-11.8 0h23.6m-23.6 -30h23.6M1240.5 3000.9v36.8m-11.8 0h23.6m-23.6 -36.8h23.6M1248.3 2997v33.2m-11.8 0h23.6m-23.6 -33.2h23.6M1256.2 2991.4v30.5m-11.8 0h23.6m-23.6 -30.5h23.6M1264 2987v28.6m-11.8 0h23.6m-23.6 -28.6h23.6M1271.9 2983.9v24.5m-11.8 0h23.6m-23.6 -24.5h23.6M1279.7 2976.1v26.5m-11.8 0h23.6m-23.6 -26.5h23.6M1287.6 2969.5v26m-11.8 0h23.6m-23.6 -26h23.6M1295.4 2962v30.4m-11.8 0h23.6m-23.6 -30.4h23.6M1303.3 2958.6v27.7m-11.8 0h23.6m-23.6 -27.7h23.6M1311.1 2954v27.8m-11.8 0h23.6m-23.6 -27.8h23.6M1319 2949.6v25.3m-11.8 0h23.6m-23.6 -25.3h23.6M1326.8 2943.1v23.3m-11.8 0h23.6m-23.6 -23.3h23.6M1334.7 2935.1v24.7m-11.8 0h23.6m-23.6 -24.7h23.6M1342.5 2926.7v30.1m-11.8 0h23.6m-23.6 -30.1h23.6M1350.3 2920v29.8m-11.8 0h23.6m-23.6 -29.8h23.6M1358.2 2916v29.6m-11.8 0h23.6m-23.6 -29.6h23.6M1366 2910.9v26.2m-11.8 0h23.6m-23.6 -26.2h23.6M1373.9 2905.8v26.1m-11.8 0h23.6m-23.6 -26.1h23.6M1381.7 2898.4v30.5m-11.8 0h23.6m-23.6 -30.5h23.6M1389.6 2889.4v38.1m-11.8 0h23.6m-23.6 -38.1h23.6M1397.4 2884.5v40.4m-11.8 0h23.6m-23.6 -40.4h23.6M1405.3 2879.8v39m-11.8 0h23.6m-23.6 -39h23.6M1413.1 2872.6v38.6m-11.8 0h23.6m-23.6 -38.6h23.6M1421 2869.4v36.4m-11.8 0h23.6m-23.6 -36.4h23.6M1428.8 2865.1v34.4m-11.8 0h23.6m-23.6 -34.4h23.6M1436.7 2861.7v33m-11.8 0h23.6m-23.6 -33h23.6M1444.5 2858.3v32.9m-11.8 0h23.6m-23.6 -32.9h23.6M1452.4 2856.2v30.9m-11.8 0h23.6m-23.6 -30.9h23.6M1460.2 2852.8v30.4m-11.8 0h23.6m-23.6 -30.4h23.6M1468.1 2849.7v25.5m-11.8 0h23.6m-23.6 -25.5h23.6M1475.9 2843.8v25.6m-11.8 0h23.6m-23.6 -25.6h23.6M1483.8 2841.3v26.6m-11.8 0h23.6m-23.6 -26.6h23.6M1491.6 2839.9v28.5m-11.8 0h23.6m-23.6 -28.5h23.6M1499.4 2838.2v30.2m-11.8 0h23.6m-23.6 -30.2h23.6M1507.3 2834.4v34m-11.8 0h23.6m-23.6 -34h23.6M1515.1 2832.2v36.1m-11.8 0h23.6m-23.6 -36.1h23.6M1523 2830.9v36.6m-11.8 0h23.6m-23.6 -36.6h23.6M1530.8 2828.4v38.2m-11.8 0h23.6m-23.6 -38.2h23.6M1538.7 2827.2v39.4m-11.8 0h23.6m-23.6 -39.4h23.6M1546.5 2828.6v38.3m-11.8 0h23.6m-23.6 -38.3h23.6M1554.4 2827v42.6m-11.8 0h23.6m-23.6 -42.6h23.6M1562.2 2825.2v41.6m-11.8 0h23.6m-23.6 -41.6h23.6M1570.1 2825.1v41.9m-11.8 0h23.6m-23.6 -41.9h23.6M1577.9 2824.2v45.1m-11.8 0h23.6m-23.6 -45.1h23.6M1585.8 2824.7v43.5m-11.8 0h23.6m-23.6 -43.5h23.6M1593.6 2824.6v43.3m-11.8 0h23.6m-23.6 -43.3h23.6M1601.5 2825.9v43m-11.8 0h23.6m-23.6 -43h23.6M1609.3 2828.7v40.7m-11.8 0h23.6m-23.6 -40.7h23.6M1617.2 2832.6v37.4m-11.8 0h23.6m-23.6 -37.4h23.6M1625 2837.8v33.5m-11.8 0h23.6m-23.6 -33.5h23.6" stroke="#3953a4" stroke-width="8" fill="none"/><path d="M495 3143h0M502.8 3150.3h0M510.7 3153.9h0M518.5 3157.4h0M526.4 3157.6h0M534.2 3157.9h0M542.1 3158.1h0M549.9 3157.7h0M557.8 3158h0M565.6 3157.9h0M573.5 3158.3h0M581.3 3158.2h0M589.2 3158.1h0M597 3158.6h0M604.9 3158.5h0M612.7 3158.4h0M620.6 3158.2h0M628.4 3158.3h0M636.2 3158h0M644.1 3157.3h0M651.9 3158.9h0M659.8 3159.3h0M667.6 3158.6h0M675.5 3157.7h0M683.3 3158.2h0M691.2 3158.6h0M699 3158.5h0M706.9 3157.6h0M714.7 3158.5h0M722.6 3157.8h0M730.4 3157.8h0M738.3 3158.3h0M746.1 3158.8h0M754 3158h0M761.8 3158.1h0M769.7 3157.7h0M777.5 3159.2h0M785.3 3157.4h0M793.2 3157.8h0M801 3157.6h0M808.9 3156.6h0M816.7 3156h0M824.6 3156.1h0M832.4 3156h0M840.3 3156.8h0M848.1 3156h0M856 3155.5h0M863.8 3155.4h0M871.7 3155h0M879.5 3154.9h0M887.4 3154.8h0M895.2 3154.1h0M903.1 3153.6h0M910.9 3152.6h0M918.8 3151.6h0M926.6 3150.2h0M934.4 3149.5h0M942.3 3148.8h0M950.1 3147.6h0M958 3146.7h0M965.8 3145.5h0M973.7 3144.7h0M981.5 3143.9h0M989.4 3142.5h0M997.2 3141.2h0M1005.1 3139.2h0M1012.9 3137.3h0M1020.8 3135.5h0M1028.6 3133.5h0M1036.5 3130.6h0M1044.3 3126.8h0M1052.2 3123.9h0M1060 3120.9h0M1067.8 3118.2h0M1075.7 3115.3h0M1083.5 3112.5h0M1091.4 3109.8h0M1099.2 3106.8h0M1107.1 3102.5h0M1114.9 3098.2h0M1122.8 3093.9h0M1130.6 3090.1h0M1138.5 3085.7h0M1146.3 3082h0M1154.2 3077.7h0M1162 3073.6h0M1169.9 3068.7h0M1177.7 3065.4h0M1185.6 3061.4h0M1193.4 3054.8h0M1201.2 3050.2h0M1209.1 3046.1h0M1216.9 3041h0M1224.8 3035h0M1232.6 3027.3h0M1240.5 3019.3h0M1248.3 3013.6h0M1256.2 3006.7h0M1264 3001.3h0M1271.9 2996.1h0M1279.7 2989.4h0M1287.6 2982.5h0M1295.4 2977.2h0M1303.3 2972.5h0M1311.1 2967.9h0M1319 2962.2h0M1326.8 2954.8h0M1334.7 2947.5h0M1342.5 2941.8h0M1350.3 2934.9h0M1358.2 2930.8h0M1366 2924h0M1373.9 2918.8h0M1381.7 2913.6h0M1389.6 2908.5h0M1397.4 2904.7h0M1405.3 2899.3h0M1413.1 2891.9h0M1421 2887.6h0M1428.8 2882.3h0M1436.7 2878.2h0M1444.5 2874.8h0M1452.4 2871.6h0M1460.2 2868h0M1468.1 2862.4h0M1475.9 2856.6h0M1483.8 2854.7h0M1491.6 2854.2h0M1499.4 2853.3h0M1507.3 2851.4h0M1515.1 2850.3h0M1523 2849.2h0M1530.8 2847.5h0M1538.7 2846.9h0M1546.5 2847.7h0M1554.4 2848.3h0M1562.2 2846h0M1570.1 2846h0M1577.9 2846.8h0M1585.8 2846.4h0M1593.6 2846.2h0M1601.5 2847.4h0M1609.3 2849h0M1617.2 2851.3h0M1625 2854.5h0" stroke="#3953a4" stroke-width="14.4" stroke-linecap="round" fill="none"/>
<path shape-rendering="crispEdges" d="M691.2 3151.8v8.6m-11.8 0h23.6m-23.6 -8.6h23.6M699 3151v8.6m-11.8 0h23.6m-23.6 -8.6h23.6M706.9 3150.7v9.4m-11.8 0h23.6m-23.6 -9.4h23.6M714.7 3150.7v9.4m-11.8 0h23.6m-23.6 -9.4h23.6M722.6 3150.1v10.1m-11.8 0h23.6m-23.6 -10.1h23.6M730.4 3148.1v10.2m-11.8 0h23.6m-23.6 -10.2h23.6M738.3 3147.3v10.3m-11.8 0h23.6m-23.6 -10.3h23.6M746.1 3146.1v10.6m-11.8 0h23.6m-23.6 -10.6h23.6M754 3143.7v11.8m-11.8 0h23.6m-23.6 -11.8h23.6M761.8 3142.9v12m-11.8 0h23.6m-23.6 -12h23.6M769.7 3140.7v13.2m-11.8 0h23.6m-23.6 -13.2h23.6M777.5 3138.7v13.3m-11.8 0h23.6m-23.6 -13.3h23.6M785.3 3137.5v12.9m-11.8 0h23.6m-23.6 -12.9h23.6M793.2 3135.6v12.8m-11.8 0h23.6m-23.6 -12.8h23.6M801 3134.7v12.9m-11.8 0h23.6m-23.6 -12.9h23.6M808.9 3132.7v13.9m-11.8 0h23.6m-23.6 -13.9h23.6M816.7 3131.8v13.3m-11.8 0h23.6m-23.6 -13.3h23.6M824.6 3129.5v12.9m-11.8 0h23.6m-23.6 -12.9h23.6M832.4 3128v13.4m-11.8 0h23.6m-23.6 -13.4h23.6M840.3 3126.6v12.2m-11.8 0h23.6m-23.6 -12.2h23.6M848.1 3124v12.5m-11.8 0h23.6m-23.6 -12.5h23.6M856 3120.9v13.6m-11.8 0h23.6m-23.6 -13.6h23.6M863.8 3118.2v13.8m-11.8 0h23.6m-23.6 -13.8h23.6M871.7 3114.7v14.5m-11.8 0h23.6m-23.6 -14.5h23.6M879.5 3109.3v16.7m-11.8 0h23.6m-23.6 -16.7h23.6M887.4 3104.1v17.2m-11.8 0h23.6m-23.6 -17.2h23.6M895.2 3099.4v19.4m-11.8 0h23.6m-23.6 -19.4h23.6M903.1 3091.6v22.8m-11.8 0h23.6m-23.6 -22.8h23.6M910.9 3086.2v23.4m-11.8 0h23.6m-23.6 -23.4h23.6M918.8 3079.9v22.9m-11.8 0h23.6m-23.6 -22.9h23.6M926.6 3072v25.3m-11.8 0h23.6m-23.6 -25.3h23.6M934.4 3064.9v24.4m-11.8 0h23.6m-23.6 -24.4h23.6M942.3 3057.6v22.9m-11.8 0h23.6m-23.6 -22.9h23.6M950.1 3050.7v23.6m-11.8 0h23.6m-23.6 -23.6h23.6M958 3043.9v22.9m-11.8 0h23.6m-23.6 -22.9h23.6M965.8 3033.5v25.9m-11.8 0h23.6m-23.6 -25.9h23.6M973.7 3024.6v27.2m-11.8 0h23.6m-23.6 -27.2h23.6M981.5 3009.9v29.6m-11.8 0h23.6m-23.6 -29.6h23.6M989.4 2990v37.8m-11.8 0h23.6m-23.6 -37.8h23.6M997.2 2977.1v41.1m-11.8 0h23.6m-23.6 -41.1h23.6M1005.1 2962.5v43.7m-11.8 0h23.6m-23.6 -43.7h23.6M1012.9 2951.7v38.9m-11.8 0h23.6m-23.6 -38.9h23.6M1020.8 2937.1v44.4m-11.8 0h23.6m-23.6 -44.4h23.6M1028.6 2925.8v45.4m-11.8 0h23.6m-23.6 -45.4h23.6M1036.5 2915.7v38.4m-11.8 0h23.6m-23.6 -38.4h23.6M1044.3 2896.3v42.7m-11.8 0h23.6m-23.6 -42.7h23.6M1052.2 2880.2v49.2m-11.8 0h23.6m-23.6 -49.2h23.6M1060 2862.9v57.7m-11.8 0h23.6m-23.6 -57.7h23.6M1067.8 2848.1v56m-11.8 0h23.6m-23.6 -56h23.6M1075.7 2834.2v56.1m-11.8 0h23.6m-23.6 -56.1h23.6M1083.5 2825.7v51.5m-11.8 0h23.6m-23.6 -51.5h23.6M1091.4 2804.2v60.3m-11.8 0h23.6m-23.6 -60.3h23.6M1099.2 2787.1v62.7m-11.8 0h23.6m-23.6 -62.7h23.6M1107.1 2759.1v85.6m-11.8 0h23.6m-23.6 -85.6h23.6M1114.9 2749.1v80.2m-11.8 0h23.6m-23.6 -80.2h23.6M1122.8 2742.2v70.6m-11.8 0h23.6m-23.6 -70.6h23.6M1130.6 2728.9v70.8m-11.8 0h23.6m-23.6 -70.8h23.6M1138.5 2717.8v67.9m-11.8 0h23.6m-23.6 -67.9h23.6M1146.3 2707.6v67.1m-11.8 0h23.6m-23.6 -67.1h23.6M1154.2 2700.4v63.1m-11.8 0h23.6m-23.6 -63.1h23.6M1162 2688.9v64.9m-11.8 0h23.6m-23.6 -64.9h23.6M1169.9 2677v67.5m-11.8 0h23.6m-23.6 -67.5h23.6M1177.7 2669.9v66.6m-11.8 0h23.6m-23.6 -66.6h23.6M1185.6 2663.7v62.6m-11.8 0h23.6m-23.6 -62.6h23.6M1193.4 2646.6v72.8m-11.8 0h23.6m-23.6 -72.8h23.6M1201.2 2641.7v62.2m-11.8 0h23.6m-23.6 -62.2h23.6M1209.1 2635.9v66.2m-11.8 0h23.6m-23.6 -66.2h23.6M1216.9 2633.1v67.5m-11.8 0h23.6m-23.6 -67.5h23.6M1224.8 2632.2v53.3m-11.8 0h23.6m-23.6 -53.3h23.6M1232.6 2627.9v53.1m-11.8 0h23.6m-23.6 -53.1h23.6M1240.5 2626v49.3m-11.8 0h23.6m-23.6 -49.3h23.6M1248.3 2625.6v48.2m-11.8 0h23.6m-23.6 -48.2h23.6M1256.2 2623.9v50.7m-11.8 0h23.6m-23.6 -50.7h23.6M1264 2623.1v50.6m-11.8 0h23.6m-23.6 -50.6h23.6M1271.9 2624v49.5m-11.8 0h23.6m-23.6 -49.5h23.6M1279.7 2629.9v42.5m-11.8 0h23.6m-23.6 -42.5h23.6M1287.6 2631.7v39.4m-11.8 0h23.6m-23.6 -39.4h23.6M1295.4 2632.4v37.4m-11.8 0h23.6m-23.6 -37.4h23.6M1303.3 2635.4v35.4m-11.8 0h23.6m-23.6 -35.4h23.6M1311.1 2635.3v35.2m-11.8 0h23.6m-23.6 -35.2h23.6M1319 2638.2v31.1m-11.8 0h23.6m-23.6 -31.1h23.6M1326.8 2641.7v28.6m-11.8 0h23.6m-23.6 -28.6h23.6M1334.7 2651.5v25.2m-11.8 0h23.6m-23.6 -25.2h23.6M1342.5 2656.9v22.4m-11.8 0h23.6m-23.6 -22.4h23.6M1350.3 2663.2v19m-11.8 0h23.6m-23.6 -19h23.6M1358.2 2669.8v26m-11.8 0h23.6m-23.6 -26h23.6M1366 2675.3v23.8m-11.8 0h23.6m-23.6 -23.8h23.6M1373.9 2683v17.8m-11.8 0h23.6m-23.6 -17.8h23.6M1381.7 2693.4v10.4m-11.8 0h23.6m-23.6 -10.4h23.6M1389.6 2699.9v12.7m-11.8 0h23.6m-23.6 -12.7h23.6M1397.4 2705.3v14.2m-11.8 0h23.6m-23.6 -14.2h23.6M1405.3 2710.9v21.2m-11.8 0h23.6m-23.6 -21.2h23.6M1413.1 2716.8v26.6m-11.8 0h23.6m-23.6 -26.6h23.6M1421 2731v25.9m-11.8 0h23.6m-23.6 -25.9h23.6M1428.8 2741.1v25.4m-11.8 0h23.6m-23.6 -25.4h23.6M1436.7 2747.4v28.1m-11.8 0h23.6m-23.6 -28.1h23.6M1444.5 2754v34.2m-11.8 0h23.6m-23.6 -34.2h23.6M1452.4 2762.8v35.9m-11.8 0h23.6m-23.6 -35.9h23.6M1460.2 2775.2v33.6m-11.8 0h23.6m-23.6 -33.6h23.6M1468.1 2783.2v35.2m-11.8 0h23.6m-23.6 -35.2h23.6M1475.9 2790.5v35.1m-11.8 0h23.6m-23.6 -35.1h23.6M1483.8 2799.1v35.2m-11.8 0h23.6m-23.6 -35.2h23.6M1491.6 2809.1v34.7m-11.8 0h23.6m-23.6 -34.7h23.6M1499.4 2816.2v41.4m-11.8 0h23.6m-23.6 -41.4h23.6M1507.3 2822.2v47.5m-11.8 0h23.6m-23.6 -47.5h23.6M1515.1 2832.5v44.3m-11.8 0h23.6m-23.6 -44.3h23.6M1523 2845.9v36.9m-11.8 0h23.6m-23.6 -36.9h23.6M1530.8 2851.6v42.6m-11.8 0h23.6m-23.6 -42.6h23.6M1538.7 2862.7v41.7m-11.8 0h23.6m-23.6 -41.7h23.6M1546.5 2868.3v47.6m-11.8 0h23.6m-23.6 -47.6h23.6M1554.4 2877.4v44.8m-11.8 0h23.6m-23.6 -44.8h23.6M1562.2 2881.7v51.6m-11.8 0h23.6m-23.6 -51.6h23.6M1570.1 2889.5v49.2m-11.8 0h23.6m-23.6 -49.2h23.6M1577.9 2897.9v45.5m-11.8 0h23.6m-23.6 -45.5h23.6M1585.8 2907.4v39.9m-11.8 0h23.6m-23.6 -39.9h23.6M1593.6 2913.8v41.9m-11.8 0h23.6m-23.6 -41.9h23.6M1601.5 2924.6v41.1m-11.8 0h23.6m-23.6 -41.1h23.6M1609.3 2929.8v42.7m-11.8 0h23.6m-23.6 -42.7h23.6M1617.2 2935.5v47.6m-11.8 0h23.6m-23.6 -47.6h23.6M1625 2939.8v50m-11.8 0h23.6m-23.6 -50h23.6" stroke="#31b34a" stroke-width="8" fill="none"/><path d="M495 3152h0M502.8 3155.9h0M510.7 3159.1h0M518.5 3162.4h0M526.4 3163.4h0M534.2 3162.4h0M542.1 3162.7h0M549.9 3162.1h0M557.8 3162.1h0M565.6 3162.3h0M573.5 3162.5h0M581.3 3162.3h0M589.2 3162.4h0M597 3161.9h0M604.9 3161.6h0M612.7 3161.2h0M620.6 3160.6h0M628.4 3159.9h0M636.2 3159.1h0M644.1 3158.1h0M651.9 3158.1h0M659.8 3156.9h0M667.6 3156.6h0M675.5 3156.8h0M683.3 3156.4h0M691.2 3156.1h0M699 3155.3h0M706.9 3155.4h0M714.7 3155.4h0M722.6 3155.1h0M730.4 3153.2h0M738.3 3152.5h0M746.1 3151.4h0M754 3149.6h0M761.8 3148.9h0M769.7 3147.3h0M777.5 3145.3h0M785.3 3144h0M793.2 3142h0M801 3141.2h0M808.9 3139.6h0M816.7 3138.5h0M824.6 3135.9h0M832.4 3134.7h0M840.3 3132.7h0M848.1 3130.3h0M856 3127.8h0M863.8 3125.1h0M871.7 3122h0M879.5 3117.7h0M887.4 3112.8h0M895.2 3109.1h0M903.1 3102.9h0M910.9 3097.9h0M918.8 3091.3h0M926.6 3084.7h0M934.4 3077.1h0M942.3 3069.1h0M950.1 3062.5h0M958 3055.4h0M965.8 3046.5h0M973.7 3038.2h0M981.5 3024.7h0M989.4 3008.9h0M997.2 2997.7h0M1005.1 2984.3h0M1012.9 2971.1h0M1020.8 2959.2h0M1028.6 2948.5h0M1036.5 2934.9h0M1044.3 2917.6h0M1052.2 2904.8h0M1060 2891.7h0M1067.8 2876.1h0M1075.7 2862.3h0M1083.5 2851.4h0M1091.4 2834.3h0M1099.2 2818.4h0M1107.1 2801.9h0M1114.9 2789.2h0M1122.8 2777.5h0M1130.6 2764.3h0M1138.5 2751.7h0M1146.3 2741.2h0M1154.2 2732h0M1162 2721.3h0M1169.9 2710.8h0M1177.7 2703.2h0M1185.6 2695h0M1193.4 2683h0M1201.2 2672.8h0M1209.1 2669h0M1216.9 2666.8h0M1224.8 2658.8h0M1232.6 2654.5h0M1240.5 2650.7h0M1248.3 2649.8h0M1256.2 2649.2h0M1264 2648.4h0M1271.9 2648.7h0M1279.7 2651.2h0M1287.6 2651.5h0M1295.4 2651.1h0M1303.3 2653.1h0M1311.1 2652.9h0M1319 2653.8h0M1326.8 2656h0M1334.7 2664.1h0M1342.5 2668.1h0M1350.3 2672.7h0M1358.2 2682.8h0M1366 2687.2h0M1373.9 2691.9h0M1381.7 2698.6h0M1389.6 2706.2h0M1397.4 2712.4h0M1405.3 2721.6h0M1413.1 2730.1h0M1421 2744h0M1428.8 2753.9h0M1436.7 2761.5h0M1444.5 2771.1h0M1452.4 2780.8h0M1460.2 2792h0M1468.1 2800.8h0M1475.9 2808.1h0M1483.8 2816.7h0M1491.6 2826.4h0M1499.4 2836.9h0M1507.3 2845.9h0M1515.1 2854.6h0M1523 2864.4h0M1530.8 2872.9h0M1538.7 2883.6h0M1546.5 2892.1h0M1554.4 2899.8h0M1562.2 2907.5h0M1570.1 2914.1h0M1577.9 2920.6h0M1585.8 2927.4h0M1593.6 2934.8h0M1601.5 2945.1h0M1609.3 2951.1h0M1617.2 2959.3h0M1625 2964.8h0" stroke="#31b34a" stroke-width="14.4" stroke-linecap="round" fill="none"/>
<path shape-rendering="crispEdges" d="M644.1 3140.9v8.9m-11.8 0h23.6m-23.6 -8.9h23.6M651.9 3137.7v11.6m-11.8 0h23.6m-23.6 -11.6h23.6M659.8 3135v13.3m-11.8 0h23.6m-23.6 -13.3h23.6M667.6 3129.1v17.8m-11.8 0h23.6m-23.6 -17.8h23.6M675.5 3122.5v20.5m-11.8 0h23.6m-23.6 -20.5h23.6M683.3 3119.6v20.3m-11.8 0h23.6m-23.6 -20.3h23.6M691.2 3113.8v22.9m-11.8 0h23.6m-23.6 -22.9h23.6M699 3109.8v22.6m-11.8 0h23.6m-23.6 -22.6h23.6M706.9 3103.5v24.6m-11.8 0h23.6m-23.6 -24.6h23.6M714.7 3098.8v24.7m-11.8 0h23.6m-23.6 -24.7h23.6M722.6 3092.3v25.2m-11.8 0h23.6m-23.6 -25.2h23.6M730.4 3086.7v25.3m-11.8 0h23.6m-23.6 -25.3h23.6M738.3 3080.4v25.1m-11.8 0h23.6m-23.6 -25.1h23.6M746.1 3071.6v24.2m-11.8 0h23.6m-23.6 -24.2h23.6M754 3063.4v24.7m-11.8 0h23.6m-23.6 -24.7h23.6M761.8 3053.6v24.9m-11.8 0h23.6m-23.6 -24.9h23.6M769.7 3043.6v22.1m-11.8 0h23.6m-23.6 -22.1h23.6M777.5 3030.8v22.6m-11.8 0h23.6m-23.6 -22.6h23.6M785.3 3019.8v23.3m-11.8 0h23.6m-23.6 -23.3h23.6M793.2 3006.2v25.2m-11.8 0h23.6m-23.6 -25.2h23.6M801 2990.1v24.5m-11.8 0h23.6m-23.6 -24.5h23.6M808.9 2974.1v24.8m-11.8 0h23.6m-23.6 -24.8h23.6M816.7 2961.2v25.9m-11.8 0h23.6m-23.6 -25.9h23.6M824.6 2947.3v25.1m-11.8 0h23.6m-23.6 -25.1h23.6M832.4 2931.6v24.9m-11.8 0h23.6m-23.6 -24.9h23.6M840.3 2916.3v24.5m-11.8 0h23.6m-23.6 -24.5h23.6M848.1 2902.2v26.1m-11.8 0h23.6m-23.6 -26.1h23.6M856 2888.6v24.1m-11.8 0h23.6m-23.6 -24.1h23.6M863.8 2871.7v26m-11.8 0h23.6m-23.6 -26h23.6M871.7 2854.8v26.2m-11.8 0h23.6m-23.6 -26.2h23.6M879.5 2847.7v36.4m-11.8 0h23.6m-23.6 -36.4h23.6M887.4 2835.4v30m-11.8 0h23.6m-23.6 -30h23.6M895.2 2825v22m-11.8 0h23.6m-23.6 -22h23.6M903.1 2790.5v37.1m-11.8 0h23.6m-23.6 -37.1h23.6M910.9 2770v12.8m-11.8 0h23.6m-23.6 -12.8h23.6M918.8 2747.7v22.5m-11.8 0h23.6m-23.6 -22.5h23.6M926.6 2724.7v36.3m-11.8 0h23.6m-23.6 -36.3h23.6M934.4 2698.2v34m-11.8 0h23.6m-23.6 -34h23.6M942.3 2679.1v22.6m-11.8 0h23.6m-23.6 -22.6h23.6M950.1 2654.3v36.1m-11.8 0h23.6m-23.6 -36.1h23.6M958 2633.9v32.4m-11.8 0h23.6m-23.6 -32.4h23.6M965.8 2609.7v35.8m-11.8 0h23.6m-23.6 -35.8h23.6M973.7 2600.7v12.6m-11.8 0h23.6m-23.6 -12.6h23.6M981.5 2580.5v19.5m-11.8 0h23.6m-23.6 -19.5h23.6M989.4 2560.1v28.4m-11.8 0h23.6m-23.6 -28.4h23.6M997.2 2535.8v40.6m-11.8 0h23.6m-23.6 -40.6h23.6M1005.1 2523.2v47.2m-11.8 0h23.6m-23.6 -47.2h23.6M1012.9 2516.5v44.7m-11.8 0h23.6m-23.6 -44.7h23.6M1020.8 2514.6v35.7m-11.8 0h23.6m-23.6 -35.7h23.6M1028.6 2515.7v30.9m-11.8 0h23.6m-23.6 -30.9h23.6M1036.5 2520.3v23.6m-11.8 0h23.6m-23.6 -23.6h23.6M1044.3 2524.3v20.1m-11.8 0h23.6m-23.6 -20.1h23.6M1052.2 2528.6v16.1m-11.8 0h23.6m-23.6 -16.1h23.6M1060 2532.8v11m-11.8 0h23.6m-23.6 -11h23.6M1067.8 2537.5v16m-11.8 0h23.6m-23.6 -16h23.6M1075.7 2544.2v17.3m-11.8 0h23.6m-23.6 -17.3h23.6M1083.5 2562.6v11.1m-11.8 0h23.6m-23.6 -11.1h23.6M1091.4 2575.7v11.2m-11.8 0h23.6m-23.6 -11.2h23.6M1099.2 2584.3v18.5m-11.8 0h23.6m-23.6 -18.5h23.6M1107.1 2591.8v34.6m-11.8 0h23.6m-23.6 -34.6h23.6M1114.9 2610.4v38m-11.8 0h23.6m-23.6 -38h23.6M1122.8 2623.4v39.2m-11.8 0h23.6m-23.6 -39.2h23.6M1130.6 2644.1v34.8m-11.8 0h23.6m-23.6 -34.8h23.6M1138.5 2662v35.6m-11.8 0h23.6m-23.6 -35.6h23.6M1146.3 2679v39.6m-11.8 0h23.6m-23.6 -39.6h23.6M1154.2 2702.9v38.7m-11.8 0h23.6m-23.6 -38.7h23.6M1162 2725.3v36m-11.8 0h23.6m-23.6 -36h23.6M1169.9 2746.2v35.4m-11.8 0h23.6m-23.6 -35.4h23.6M1177.7 2768.2v29m-11.8 0h23.6m-23.6 -29h23.6M1185.6 2776.5v40.5m-11.8 0h23.6m-23.6 -40.5h23.6M1193.4 2801.8v31.2m-11.8 0h23.6m-23.6 -31.2h23.6M1201.2 2815.3v43m-11.8 0h23.6m-23.6 -43h23.6M1209.1 2835.5v40.5m-11.8 0h23.6m-23.6 -40.5h23.6M1216.9 2854.6v41.2m-11.8 0h23.6m-23.6 -41.2h23.6M1224.8 2871.8v38.2m-11.8 0h23.6m-23.6 -38.2h23.6M1232.6 2891.3v35.2m-11.8 0h23.6m-23.6 -35.2h23.6M1240.5 2909v33m-11.8 0h23.6m-23.6 -33h23.6M1248.3 2922.6v36m-11.8 0h23.6m-23.6 -36h23.6M1256.2 2934.9v32.5m-11.8 0h23.6m-23.6 -32.5h23.6M1264 2950.8v23.8m-11.8 0h23.6m-23.6 -23.8h23.6M1271.9 2965v28.8m-11.8 0h23.6m-23.6 -28.8h23.6M1279.7 2973.4v31.4m-11.8 0h23.6m-23.6 -31.4h23.6M1287.6 2984.1v30.8m-11.8 0h23.6m-23.6 -30.8h23.6M1295.4 2995.9v32.4m-11.8 0h23.6m-23.6 -32.4h23.6M1303.3 3008.3v32.3m-11.8 0h23.6m-23.6 -32.3h23.6M1311.1 3023.7v25.5m-11.8 0h23.6m-23.6 -25.5h23.6M1319 3029.2v28.6m-11.8 0h23.6m-23.6 -28.6h23.6M1326.8 3036.9v28m-11.8 0h23.6m-23.6 -28h23.6M1334.7 3045.5v27.2m-11.8 0h23.6m-23.6 -27.2h23.6M1342.5 3053.2v23.9m-11.8 0h23.6m-23.6 -23.9h23.6M1350.3 3061.2v21.6m-11.8 0h23.6m-23.6 -21.6h23.6M1358.2 3066.2v25.3m-11.8 0h23.6m-23.6 -25.3h23.6M1366 3072.1v22.9m-11.8 0h23.6m-23.6 -22.9h23.6M1373.9 3078.7v22.4m-11.8 0h23.6m-23.6 -22.4h23.6M1381.7 3082.2v22.9m-11.8 0h23.6m-23.6 -22.9h23.6M1389.6 3086.9v22.9m-11.8 0h23.6m-23.6 -22.9h23.6M1397.4 3090.1v22.5m-11.8 0h23.6m-23.6 -22.5h23.6M1405.3 3093.3v23.2m-11.8 0h23.6m-23.6 -23.2h23.6M1413.1 3098.7v20.7m-11.8 0h23.6m-23.6 -20.7h23.6M1421 3104.3v18.8m-11.8 0h23.6m-23.6 -18.8h23.6M1428.8 3107.7v18.3m-11.8 0h23.6m-23.6 -18.3h23.6M1436.7 3110.5v19.4m-11.8 0h23.6m-23.6 -19.4h23.6M1444.5 3114.3v18.1m-11.8 0h23.6m-23.6 -18.1h23.6M1452.4 3118.2v16.7m-11.8 0h23.6m-23.6 -16.7h23.6M1460.2 3121.6v15m-11.8 0h23.6m-23.6 -15h23.6M1468.1 3125.3v13.8m-11.8 0h23.6m-23.6 -13.8h23.6M1475.9 3128.1v12.1m-11.8 0h23.6m-23.6 -12.1h23.6M1483.8 3131.9v10.2m-11.8 0h23.6m-23.6 -10.2h23.6M1491.6 3135.1v9.2m-11.8 0h23.6m-23.6 -9.2h23.6" stroke="#f48120" stroke-width="8" fill="none"/><path d="M495 3152h0M502.8 3155.3h0M510.7 3158.5h0M518.5 3161.2h0M526.4 3161.4h0M534.2 3160.8h0M542.1 3160.1h0M549.9 3160h0M557.8 3159.3h0M565.6 3159h0M573.5 3158.8h0M581.3 3158.4h0M589.2 3157.4h0M597 3156.2h0M604.9 3155.1h0M612.7 3153.4h0M620.6 3152h0M628.4 3150.5h0M636.2 3147.8h0M644.1 3145.3h0M651.9 3143.5h0M659.8 3141.6h0M667.6 3138.1h0M675.5 3132.8h0M683.3 3129.7h0M691.2 3125.2h0M699 3121.1h0M706.9 3115.8h0M714.7 3111.1h0M722.6 3104.9h0M730.4 3099.4h0M738.3 3093h0M746.1 3083.7h0M754 3075.8h0M761.8 3066.1h0M769.7 3054.7h0M777.5 3042.1h0M785.3 3031.5h0M793.2 3018.8h0M801 3002.3h0M808.9 2986.5h0M816.7 2974.1h0M824.6 2959.8h0M832.4 2944.1h0M840.3 2928.5h0M848.1 2915.2h0M856 2900.7h0M863.8 2884.7h0M871.7 2867.9h0M879.5 2865.9h0M887.4 2850.5h0M895.2 2836h0M903.1 2809h0M910.9 2776.4h0M918.8 2759h0M926.6 2742.9h0M934.4 2715.2h0M942.3 2690.4h0M950.1 2672.4h0M958 2650.1h0M965.8 2627.6h0M973.7 2607h0M981.5 2590.2h0M989.4 2574.3h0M997.2 2556.1h0M1005.1 2546.8h0M1012.9 2538.8h0M1020.8 2532.5h0M1028.6 2531.1h0M1036.5 2532.1h0M1044.3 2534.3h0M1052.2 2536.7h0M1060 2538.3h0M1067.8 2545.5h0M1075.7 2552.8h0M1083.5 2568.2h0M1091.4 2581.3h0M1099.2 2593.5h0M1107.1 2609.1h0M1114.9 2629.4h0M1122.8 2643h0M1130.6 2661.5h0M1138.5 2679.8h0M1146.3 2698.8h0M1154.2 2722.3h0M1162 2743.4h0M1169.9 2763.9h0M1177.7 2782.7h0M1185.6 2796.8h0M1193.4 2817.4h0M1201.2 2836.8h0M1209.1 2855.7h0M1216.9 2875.2h0M1224.8 2890.9h0M1232.6 2909h0M1240.5 2925.5h0M1248.3 2940.6h0M1256.2 2951.1h0M1264 2962.6h0M1271.9 2979.4h0M1279.7 2989.1h0M1287.6 2999.5h0M1295.4 3012.1h0M1303.3 3024.4h0M1311.1 3036.4h0M1319 3043.5h0M1326.8 3050.9h0M1334.7 3059.1h0M1342.5 3065.2h0M1350.3 3072h0M1358.2 3078.9h0M1366 3083.6h0M1373.9 3089.9h0M1381.7 3093.7h0M1389.6 3098.4h0M1397.4 3101.4h0M1405.3 3104.9h0M1413.1 3109h0M1421 3113.7h0M1428.8 3116.9h0M1436.7 3120.2h0M1444.5 3123.3h0M1452.4 3126.5h0M1460.2 3129.1h0M1468.1 3132.1h0M1475.9 3134.1h0M1483.8 3137h0M1491.6 3139.7h0M1499.4 3142h0M1507.3 3144.1h0M1515.1 3146h0M1523 3147.7h0M1530.8 3149.4h0M1538.7 3151.4h0M1546.5 3153.3h0M1554.4 3154.1h0M1562.2 3155.4h0M1570.1 3156.6h0M1577.9 3157.7h0M1585.8 3158.5h0M1593.6 3159.4h0M1601.5 3160.3h0M1609.3 3160.7h0M1617.2 3161.6h0M1625 3161.6h0" stroke="#f48120" stroke-width="14.4" stroke-linecap="round" fill="none"/>
<path shape-rendering="crispEdges" d="M628.4 3113.8v9.2m-11.8 0h23.6m-23.6 -9.2h23.6M636.2 3103.6v9.2m-11.8 0h23.6m-23.6 -9.2h23.6M644.1 3089.6v10.5m-11.8 0h23.6m-23.6 -10.5h23.6M651.9 3070.9v13m-11.8 0h23.6m-23.6 -13h23.6M659.8 3049.2v14m-11.8 0h23.6m-23.6 -14h23.6M667.6 3028.8v16.6m-11.8 0h23.6m-23.6 -16.6h23.6M675.5 3010.9v17.6m-11.8 0h23.6m-23.6 -17.6h23.6M683.3 2990.7v19.2m-11.8 0h23.6m-23.6 -19.2h23.6M691.2 2971.7v17.5m-11.8 0h23.6m-23.6 -17.5h23.6M699 2952v17.5m-11.8 0h23.6m-23.6 -17.5h23.6M706.9 2932.6v19.7m-11.8 0h23.6m-23.6 -19.7h23.6M714.7 2913.6v18.5m-11.8 0h23.6m-23.6 -18.5h23.6M722.6 2893.4v17.8m-11.8 0h23.6m-23.6 -17.8h23.6M730.4 2875.2v17.8m-11.8 0h23.6m-23.6 -17.8h23.6M738.3 2856.6v17.1m-11.8 0h23.6m-23.6 -17.1h23.6M746.1 2837.2v17.9m-11.8 0h23.6m-23.6 -17.9h23.6M754 2818.4v19.6m-11.8 0h23.6m-23.6 -19.6h23.6M761.8 2813.4v23.8m-11.8 0h23.6m-23.6 -23.8h23.6M769.7 2801.3v16.6m-11.8 0h23.6m-23.6 -16.6h23.6M777.5 2773.9v20.4m-11.8 0h23.6m-23.6 -20.4h23.6M785.3 2757.6v25.3m-11.8 0h23.6m-23.6 -25.3h23.6M793.2 2739.3v25.4m-11.8 0h23.6m-23.6 -25.4h23.6M801 2726.4v25.3m-11.8 0h23.6m-23.6 -25.3h23.6M808.9 2705.1v24.8m-11.8 0h23.6m-23.6 -24.8h23.6M816.7 2677.5v33.3m-11.8 0h23.6m-23.6 -33.3h23.6M824.6 2663.2v35.1m-11.8 0h23.6m-23.6 -35.1h23.6M832.4 2650.1v25.3m-11.8 0h23.6m-23.6 -25.3h23.6M840.3 2640.2v20.6m-11.8 0h23.6m-23.6 -20.6h23.6M848.1 2629v24.3m-11.8 0h23.6m-23.6 -24.3h23.6M856 2621.8v23.6m-11.8 0h23.6m-23.6 -23.6h23.6M863.8 2609v28.9m-11.8 0h23.6m-23.6 -28.9h23.6M871.7 2598.5v32m-11.8 0h23.6m-23.6 -32h23.6M879.5 2589.5v32m-11.8 0h23.6m-23.6 -32h23.6M887.4 2580.4v32.8m-11.8 0h23.6m-23.6 -32.8h23.6M895.2 2569.1v35.1m-11.8 0h23.6m-23.6 -35.1h23.6M903.1 2558.9v36.5m-11.8 0h23.6m-23.6 -36.5h23.6M910.9 2556v25.6m-11.8 0h23.6m-23.6 -25.6h23.6M918.8 2552v23.7m-11.8 0h23.6m-23.6 -23.7h23.6M926.6 2549v26.5m-11.8 0h23.6m-23.6 -26.5h23.6M934.4 2546.6v30.2m-11.8 0h23.6m-23.6 -30.2h23.6M942.3 2544v32.6m-11.8 0h23.6m-23.6 -32.6h23.6M950.1 2543.2v33.9m-11.8 0h23.6m-23.6 -33.9h23.6M958 2543.8v34.9m-11.8 0h23.6m-23.6 -34.9h23.6M965.8 2548.6v32.9m-11.8 0h23.6m-23.6 -32.9h23.6M973.7 2552v40.4m-11.8 0h23.6m-23.6 -40.4h23.6M981.5 2577.2v31.4m-11.8 0h23.6m-23.6 -31.4h23.6M989.4 2587.1v37.8m-11.8 0h23.6m-23.6 -37.8h23.6M997.2 2602v28.9m-11.8 0h23.6m-23.6 -28.9h23.6M1005.1 2613.7v24.1m-11.8 0h23.6m-23.6 -24.1h23.6M1012.9 2637.8v23.9m-11.8 0h23.6m-23.6 -23.9h23.6M1020.8 2668.8v12m-11.8 0h23.6m-23.6 -12h23.6M1028.6 2695.3v18.6m-11.8 0h23.6m-23.6 -18.6h23.6M1036.5 2717.2v14.9m-11.8 0h23.6m-23.6 -14.9h23.6M1044.3 2729.9v29.2m-11.8 0h23.6m-23.6 -29.2h23.6M1052.2 2766.2v14.1m-11.8 0h23.6m-23.6 -14.1h23.6M1060 2790.4v9.3m-11.8 0h23.6m-23.6 -9.3h23.6M1067.8 2811.1v23.6m-11.8 0h23.6m-23.6 -23.6h23.6M1075.7 2829v24.2m-11.8 0h23.6m-23.6 -24.2h23.6M1083.5 2852.1v22.8m-11.8 0h23.6m-23.6 -22.8h23.6M1091.4 2874.2v22.7m-11.8 0h23.6m-23.6 -22.7h23.6M1099.2 2895.2v23.4m-11.8 0h23.6m-23.6 -23.4h23.6M1107.1 2916.4v23.3m-11.8 0h23.6m-23.6 -23.3h23.6M1114.9 2937.6v22.3m-11.8 0h23.6m-23.6 -22.3h23.6M1122.8 2956.8v21.3m-11.8 0h23.6m-23.6 -21.3h23.6M1130.6 2975.4v22.9m-11.8 0h23.6m-23.6 -22.9h23.6M1138.5 2995v19.1m-11.8 0h23.6m-23.6 -19.1h23.6M1146.3 3011.6v21.1m-11.8 0h23.6m-23.6 -21.1h23.6M1154.2 3029.5v18.4m-11.8 0h23.6m-23.6 -18.4h23.6M1162 3045.6v16.3m-11.8 0h23.6m-23.6 -16.3h23.6M1169.9 3060.3v14.9m-11.8 0h23.6m-23.6 -14.9h23.6M1177.7 3070.5v14.3m-11.8 0h23.6m-23.6 -14.3h23.6M1185.6 3080.8v13.5m-11.8 0h23.6m-23.6 -13.5h23.6M1193.4 3089.4v12.7m-11.8 0h23.6m-23.6 -12.7h23.6M1201.2 3096.7v11.5m-11.8 0h23.6m-23.6 -11.5h23.6M1209.1 3103.1v10.9m-11.8 0h23.6m-23.6 -10.9h23.6M1216.9 3109.1v10m-11.8 0h23.6m-23.6 -10h23.6" stroke="#ec2027" stroke-width="8" fill="none"/><path d="M495 3150h0M502.8 3153.1h0M510.7 3156.2h0M518.5 3159.1h0M526.4 3160.3h0M534.2 3159.5h0M542.1 3158.9h0M549.9 3158.8h0M557.8 3158.1h0M565.6 3158.1h0M573.5 3154.6h0M581.3 3150.6h0M589.2 3147.5h0M597 3144.2h0M604.9 3138.5h0M612.7 3132.7h0M620.6 3127.1h0M628.4 3118.4h0M636.2 3108.2h0M644.1 3094.9h0M651.9 3077.4h0M659.8 3056.2h0M667.6 3037.1h0M675.5 3019.7h0M683.3 3000.3h0M691.2 2980.5h0M699 2960.7h0M706.9 2942.5h0M714.7 2922.9h0M722.6 2902.4h0M730.4 2884.1h0M738.3 2865.2h0M746.1 2846.1h0M754 2828.2h0M761.8 2825.3h0M769.7 2809.6h0M777.5 2784.1h0M785.3 2770.3h0M793.2 2752h0M801 2739.1h0M808.9 2717.5h0M816.7 2694.1h0M824.6 2680.7h0M832.4 2662.8h0M840.3 2650.5h0M848.1 2641.2h0M856 2633.6h0M863.8 2623.5h0M871.7 2614.5h0M879.5 2605.5h0M887.4 2596.8h0M895.2 2586.7h0M903.1 2577.1h0M910.9 2568.8h0M918.8 2563.8h0M926.6 2562.3h0M934.4 2561.7h0M942.3 2560.3h0M950.1 2560.2h0M958 2561.3h0M965.8 2565.1h0M973.7 2572.2h0M981.5 2592.9h0M989.4 2606h0M997.2 2616.5h0M1005.1 2625.7h0M1012.9 2649.8h0M1020.8 2674.7h0M1028.6 2704.6h0M1036.5 2724.6h0M1044.3 2744.5h0M1052.2 2773.2h0M1060 2795h0M1067.8 2822.9h0M1075.7 2841.1h0M1083.5 2863.5h0M1091.4 2885.5h0M1099.2 2906.8h0M1107.1 2928h0M1114.9 2948.7h0M1122.8 2967.5h0M1130.6 2986.9h0M1138.5 3004.6h0M1146.3 3022.2h0M1154.2 3038.7h0M1162 3053.8h0M1169.9 3067.8h0M1177.7 3077.7h0M1185.6 3087.6h0M1193.4 3095.7h0M1201.2 3102.5h0M1209.1 3108.6h0M1216.9 3114h0M1224.8 3119.4h0M1232.6 3124.5h0M1240.5 3128.5h0M1248.3 3132.2h0M1256.2 3136.7h0M1264 3140.7h0M1271.9 3143.3h0M1279.7 3146h0M1287.6 3148.5h0M1295.4 3151.3h0M1303.3 3152.7h0M1311.1 3154.6h0M1319 3155.6h0M1326.8 3157.4h0M1334.7 3158.3h0M1342.5 3159.3h0M1350.3 3160.8h0M1358.2 3161.8h0M1366 3162.8h0M1373.9 3164.4h0M1381.7 3164.7h0M1389.6 3166.1h0M1397.4 3166.3h0M1405.3 3166h0M1413.1 3167h0M1421 3167.4h0M1428.8 3168.4h0M1436.7 3168.7h0M1444.5 3168.9h0M1452.4 3169h0M1460.2 3169.6h0M1468.1 3169.9h0M1475.9 3170h0M1483.8 3170.2h0M1491.6 3170.1h0M1499.4 3170.5h0M1507.3 3170.8h0M1515.1 3171h0M1523 3171h0M1530.8 3171.5h0M1538.7 3171.7h0M1546.5 3172.6h0M1554.4 3172.8h0M1562.2 3172.6h0M1570.1 3172.5h0M1577.9 3172.8h0M1585.8 3173.1h0M1593.6 3173.4h0M1601.5 3173.1h0M1609.3 3173.1h0M1617.2 3173.9h0M1625 3174h0" stroke="#ec2027" stroke-width="14.4" stroke-linecap="round" fill="none"/>
<path shape-rendering="crispEdges" d="M495 3135.4v18m-11.8 0h23.6m-23.6 -18h23.6M549.9 3141.8v9.4m-11.8 0h23.6m-23.6 -9.4h23.6M557.8 3136.1v10.4m-11.8 0h23.6m-23.6 -10.4h23.6M565.6 3132v10.1m-11.8 0h23.6m-23.6 -10.1h23.6M573.5 3122v10.6m-11.8 0h23.6m-23.6 -10.6h23.6M581.3 3111.1v12m-11.8 0h23.6m-23.6 -12h23.6M589.2 3103.6v11.7m-11.8 0h23.6m-23.6 -11.7h23.6M597 3094.6v12.2m-11.8 0h23.6m-23.6 -12.2h23.6M604.9 3080.9v12.1m-11.8 0h23.6m-23.6 -12.1h23.6M612.7 3064.1v13.4m-11.8 0h23.6m-23.6 -13.4h23.6M628.4 3013.3v14.6m-11.8 0h23.6m-23.6 -14.6h23.6M636.2 2989.8v17.4m-11.8 0h23.6m-23.6 -17.4h23.6M644.1 2955.2v17.2m-11.8 0h23.6m-23.6 -17.2h23.6M651.9 2925.2v20.2m-11.8 0h23.6m-23.6 -20.2h23.6M659.8 2897.2v26.6m-11.8 0h23.6m-23.6 -26.6h23.6M667.6 2856.6v35.8m-11.8 0h23.6m-23.6 -35.8h23.6M675.5 2835.2v32.1m-11.8 0h23.6m-23.6 -32.1h23.6M683.3 2793.1v53m-11.8 0h23.6m-23.6 -53h23.6M691.2 2781.5v39.7m-11.8 0h23.6m-23.6 -39.7h23.6M699 2741.6v51.4m-11.8 0h23.6m-23.6 -51.4h23.6M706.9 2718.3v52.8m-11.8 0h23.6m-23.6 -52.8h23.6M714.7 2690.2v52.3m-11.8 0h23.6m-23.6 -52.3h23.6M722.6 2659.4v61m-11.8 0h23.6m-23.6 -61h23.6M730.4 2628.8v67.9m-11.8 0h23.6m-23.6 -67.9h23.6M738.3 2601.1v84.2m-11.8 0h23.6m-23.6 -84.2h23.6M746.1 2590.2v67.9m-11.8 0h23.6m-23.6 -67.9h23.6M754 2572.4v75.3m-11.8 0h23.6m-23.6 -75.3h23.6M761.8 2554.4v72.7m-11.8 0h23.6m-23.6 -72.7h23.6M769.7 2539.3v80.7m-11.8 0h23.6m-23.6 -80.7h23.6M777.5 2534.5v65.6m-11.8 0h23.6m-23.6 -65.6h23.6M785.3 2530.6v68.4m-11.8 0h23.6m-23.6 -68.4h23.6M793.2 2535.9v60.2m-11.8 0h23.6m-23.6 -60.2h23.6M801 2541.7v56.2m-11.8 0h23.6m-23.6 -56.2h23.6M808.9 2544.7v50.3m-11.8 0h23.6m-23.6 -50.3h23.6M816.7 2568.2v28.8m-11.8 0h23.6m-23.6 -28.8h23.6M824.6 2580.2v20.1m-11.8 0h23.6m-23.6 -20.1h23.6M832.4 2594v10.2m-11.8 0h23.6m-23.6 -10.2h23.6M840.3 2610.4v19.1m-11.8 0h23.6m-23.6 -19.1h23.6M848.1 2637.2v16.1m-11.8 0h23.6m-23.6 -16.1h23.6M856 2652.6v17.6m-11.8 0h23.6m-23.6 -17.6h23.6M863.8 2664.6v25.3m-11.8 0h23.6m-23.6 -25.3h23.6M871.7 2678.2v31.9m-11.8 0h23.6m-23.6 -31.9h23.6M879.5 2705.7v30m-11.8 0h23.6m-23.6 -30h23.6M887.4 2725.2v29.2m-11.8 0h23.6m-23.6 -29.2h23.6M895.2 2739.1v32.8m-11.8 0h23.6m-23.6 -32.8h23.6M903.1 2751.9v40.3m-11.8 0h23.6m-23.6 -40.3h23.6M910.9 2760.9v48.9m-11.8 0h23.6m-23.6 -48.9h23.6M918.8 2774.4v50.6m-11.8 0h23.6m-23.6 -50.6h23.6M926.6 2799.1v45.3m-11.8 0h23.6m-23.6 -45.3h23.6M934.4 2818.7v44.6m-11.8 0h23.6m-23.6 -44.6h23.6M942.3 2827.2v50.4m-11.8 0h23.6m-23.6 -50.4h23.6M950.1 2839.2v55.7m-11.8 0h23.6m-23.6 -55.7h23.6M958 2864.1v44.8m-11.8 0h23.6m-23.6 -44.8h23.6M965.8 2877.6v44.1m-11.8 0h23.6m-23.6 -44.1h23.6M973.7 2893.5v38.2m-11.8 0h23.6m-23.6 -38.2h23.6M981.5 2908v39.5m-11.8 0h23.6m-23.6 -39.5h23.6M989.4 2921v43.8m-11.8 0h23.6m-23.6 -43.8h23.6M997.2 2940.1v36.2m-11.8 0h23.6m-23.6 -36.2h23.6M1005.1 2951.1v39.6m-11.8 0h23.6m-23.6 -39.6h23.6M1012.9 2957.6v46.7m-11.8 0h23.6m-23.6 -46.7h23.6M1020.8 2981.8v32.4m-11.8 0h23.6m-23.6 -32.4h23.6M1028.6 2999.6v27.7m-11.8 0h23.6m-23.6 -27.7h23.6M1036.5 3010.6v29.7m-11.8 0h23.6m-23.6 -29.7h23.6M1044.3 3024.2v28.1m-11.8 0h23.6m-23.6 -28.1h23.6M1052.2 3038.7v24.7m-11.8 0h23.6m-23.6 -24.7h23.6M1060 3040.7v36.2m-11.8 0h23.6m-23.6 -36.2h23.6M1067.8 3060.2v25.3m-11.8 0h23.6m-23.6 -25.3h23.6M1075.7 3071.8v23.4m-11.8 0h23.6m-23.6 -23.4h23.6M1083.5 3084v18.6m-11.8 0h23.6m-23.6 -18.6h23.6M1091.4 3094.2v16.3m-11.8 0h23.6m-23.6 -16.3h23.6M1099.2 3100.9v14.7m-11.8 0h23.6m-23.6 -14.7h23.6M1107.1 3108.7v11.6m-11.8 0h23.6m-23.6 -11.6h23.6M1114.9 3115.9v9.7m-11.8 0h23.6m-23.6 -9.7h23.6" stroke="#000000" stroke-width="8" fill="none"/><path d="M495 3144.4h0M502.8 3151.7h0M510.7 3157.9h0M518.5 3161.1h0M526.4 3159h0M534.2 3155.5h0M542.1 3151.4h0M549.9 3146.5h0M557.8 3141.3h0M565.6 3137h0M573.5 3127.3h0M581.3 3117.1h0M589.2 3109.5h0M597 3100.7h0M604.9 3087h0M612.7 3070.8h0M620.6 3048h0M628.4 3020.6h0M636.2 2998.4h0M644.1 2963.8h0M651.9 2935.3h0M659.8 2910.5h0M667.6 2874.5h0M675.5 2851.3h0M683.3 2819.6h0M691.2 2801.4h0M699 2767.3h0M706.9 2744.7h0M714.7 2716.3h0M722.6 2689.9h0M730.4 2662.8h0M738.3 2643.2h0M746.1 2624.1h0M754 2610.1h0M761.8 2590.8h0M769.7 2579.7h0M777.5 2567.2h0M785.3 2564.7h0M793.2 2566h0M801 2569.8h0M808.9 2569.8h0M816.7 2582.6h0M824.6 2590.2h0M832.4 2599.1h0M840.3 2619.9h0M848.1 2645.2h0M856 2661.4h0M863.8 2677.2h0M871.7 2694.1h0M879.5 2720.7h0M887.4 2739.8h0M895.2 2755.5h0M903.1 2772.1h0M910.9 2785.3h0M918.8 2799.7h0M926.6 2821.8h0M934.4 2841h0M942.3 2852.4h0M950.1 2867.1h0M958 2886.5h0M965.8 2899.7h0M973.7 2912.6h0M981.5 2927.7h0M989.4 2942.9h0M997.2 2958.2h0M1005.1 2970.9h0M1012.9 2981h0M1020.8 2998h0M1028.6 3013.5h0M1036.5 3025.4h0M1044.3 3038.3h0M1052.2 3051h0M1060 3058.8h0M1067.8 3072.9h0M1075.7 3083.5h0M1083.5 3093.4h0M1091.4 3102.4h0M1099.2 3108.3h0M1107.1 3114.5h0M1114.9 3120.8h0M1122.8 3125.5h0M1130.6 3130.5h0M1138.5 3134.7h0M1146.3 3138.9h0M1154.2 3142.7h0M1162 3146.9h0M1169.9 3149.6h0M1177.7 3152.1h0M1185.6 3154.6h0M1193.4 3156.4h0M1201.2 3158.9h0M1209.1 3160.1h0M1216.9 3161.8h0M1224.8 3163.4h0M1232.6 3165.3h0M1240.5 3166.7h0M1248.3 3167.6h0M1256.2 3168.2h0M1264 3169.1h0M1271.9 3169.6h0M1279.7 3170.5h0M1287.6 3170.6h0M1295.4 3171.1h0M1303.3 3171.2h0M1311.1 3171.2h0M1319 3171.8h0M1326.8 3172.3h0M1334.7 3172.5h0M1342.5 3172.6h0M1350.3 3173.1h0M1358.2 3173.4h0M1366 3172.8h0M1373.9 3173.1h0M1381.7 3173.4h0M1389.6 3173.8h0M1397.4 3173.5h0M1405.3 3174h0M1413.1 3173.6h0M1421 3173.9h0M1428.8 3174.3h0M1436.7 3174.3h0M1444.5 3174.2h0M1452.4 3174.1h0M1460.2 3174.9h0M1468.1 3174.4h0M1475.9 3175.1h0M1483.8 3175.1h0M1491.6 3175.1h0M1499.4 3174.8h0M1507.3 3175h0M1515.1 3174.6h0M1523 3175h0M1530.8 3175.2h0M1538.7 3175.2h0M1546.5 3175h0M1554.4 3175.2h0M1562.2 3175.5h0M1570.1 3175.6h0M1577.9 3175.6h0M1585.8 3175.6h0M1593.6 3175.3h0M1601.5 3175.8h0M1609.3 3175.7h0M1617.2 3176h0M1625 3175.9h0" stroke="#000000" stroke-width="14.4" stroke-linecap="round" fill="none"/>
<g fill="#000">
<text transform="translate(439.5 3198.9) scale(0.87 1)" text-anchor="end" font-size="67">0</text>
<text transform="translate(439.5 2947.9) scale(0.87 1)" text-anchor="end" font-size="67">50,000</text>
<text transform="translate(439.5 2697) scale(0.87 1)" text-anchor="end" font-size="67">100,000</text>
<text transform="translate(439.5 2446) scale(0.87 1)" text-anchor="end" font-size="67">150,000</text>
<text transform="translate(493 3281.5) scale(0.87 1)" text-anchor="middle" font-size="67">0</text>
<text transform="translate(681.7 3281.5) scale(0.87 1)" text-anchor="middle" font-size="67">240</text>
<text transform="translate(874 3281.5) scale(0.87 1)" text-anchor="middle" font-size="67">480</text>
<text transform="translate(1054.8 3281.5) scale(0.87 1)" text-anchor="middle" font-size="67">720</text>
<text transform="translate(1247.6 3281.5) scale(0.87 1)" text-anchor="middle" font-size="67">960</text>
<text transform="translate(1433 3281.5) scale(0.87 1)" text-anchor="middle" font-size="67">1,200</text>
<text transform="translate(1623.7 3281.5) scale(0.87 1)" text-anchor="middle" font-size="67">1,440</text>
<text transform="translate(821 3423.7) scale(1.05 1)" font-size="71" stroke="#000" stroke-width="1.9">Time (minutes)</text>
<text transform="translate(137.8 3145.2) rotate(-90) scale(1.013 1)" font-size="73" stroke="#000" stroke-width="1.9">Luminescence (RLU)</text>
<text transform="translate(0 2336.5) scale(1.04 1)" font-size="74" stroke="#000" stroke-width="1.9">C.</text>
<text x="1725.8" y="2392.8" font-size="74" textLength="596" lengthAdjust="spacingAndGlyphs">[romedepsin] (nM)</text>
<circle cx="1745.5" cy="2472" r="18.7" fill="#000000"/>
<text transform="translate(1791.5 2492.4) scale(1.03 1)" font-size="70">10,000</text>
<circle cx="1745.5" cy="2573.6" r="18.7" fill="#ec2027"/>
<text transform="translate(1791.5 2594) scale(1.03 1)" font-size="70">5,000</text>
<circle cx="1745.5" cy="2675.2" r="18.7" fill="#f48120"/>
<text transform="translate(1791.5 2695.6) scale(1.03 1)" font-size="70">2,500</text>
<circle cx="1745.5" cy="2776.8" r="18.7" fill="#31b34a"/>
<text transform="translate(1791.5 2797.2) scale(1.03 1)" font-size="70">1,250</text>
<circle cx="1745.5" cy="2878.4" r="18.7" fill="#3953a4"/>
<text transform="translate(1791.5 2898.8) scale(1.03 1)" font-size="70">625</text>
<circle cx="1745.5" cy="2980" r="18.7" fill="#2b2a73"/>
<text transform="translate(1791.5 3000.4) scale(1.03 1)" font-size="70">312</text>
<circle cx="1745.5" cy="3081.6" r="18.7" fill="#a23e97"/>
<text transform="translate(1791.5 3102) scale(1.03 1)" font-size="70">156</text>
<circle cx="1745.5" cy="3183.2" r="18.7" fill="#a0a1a4"/>
<text transform="translate(1792 3194.8) scale(1.02 1)" font-size="72">untreated</text>
</g>
</svg>
</body></html>
